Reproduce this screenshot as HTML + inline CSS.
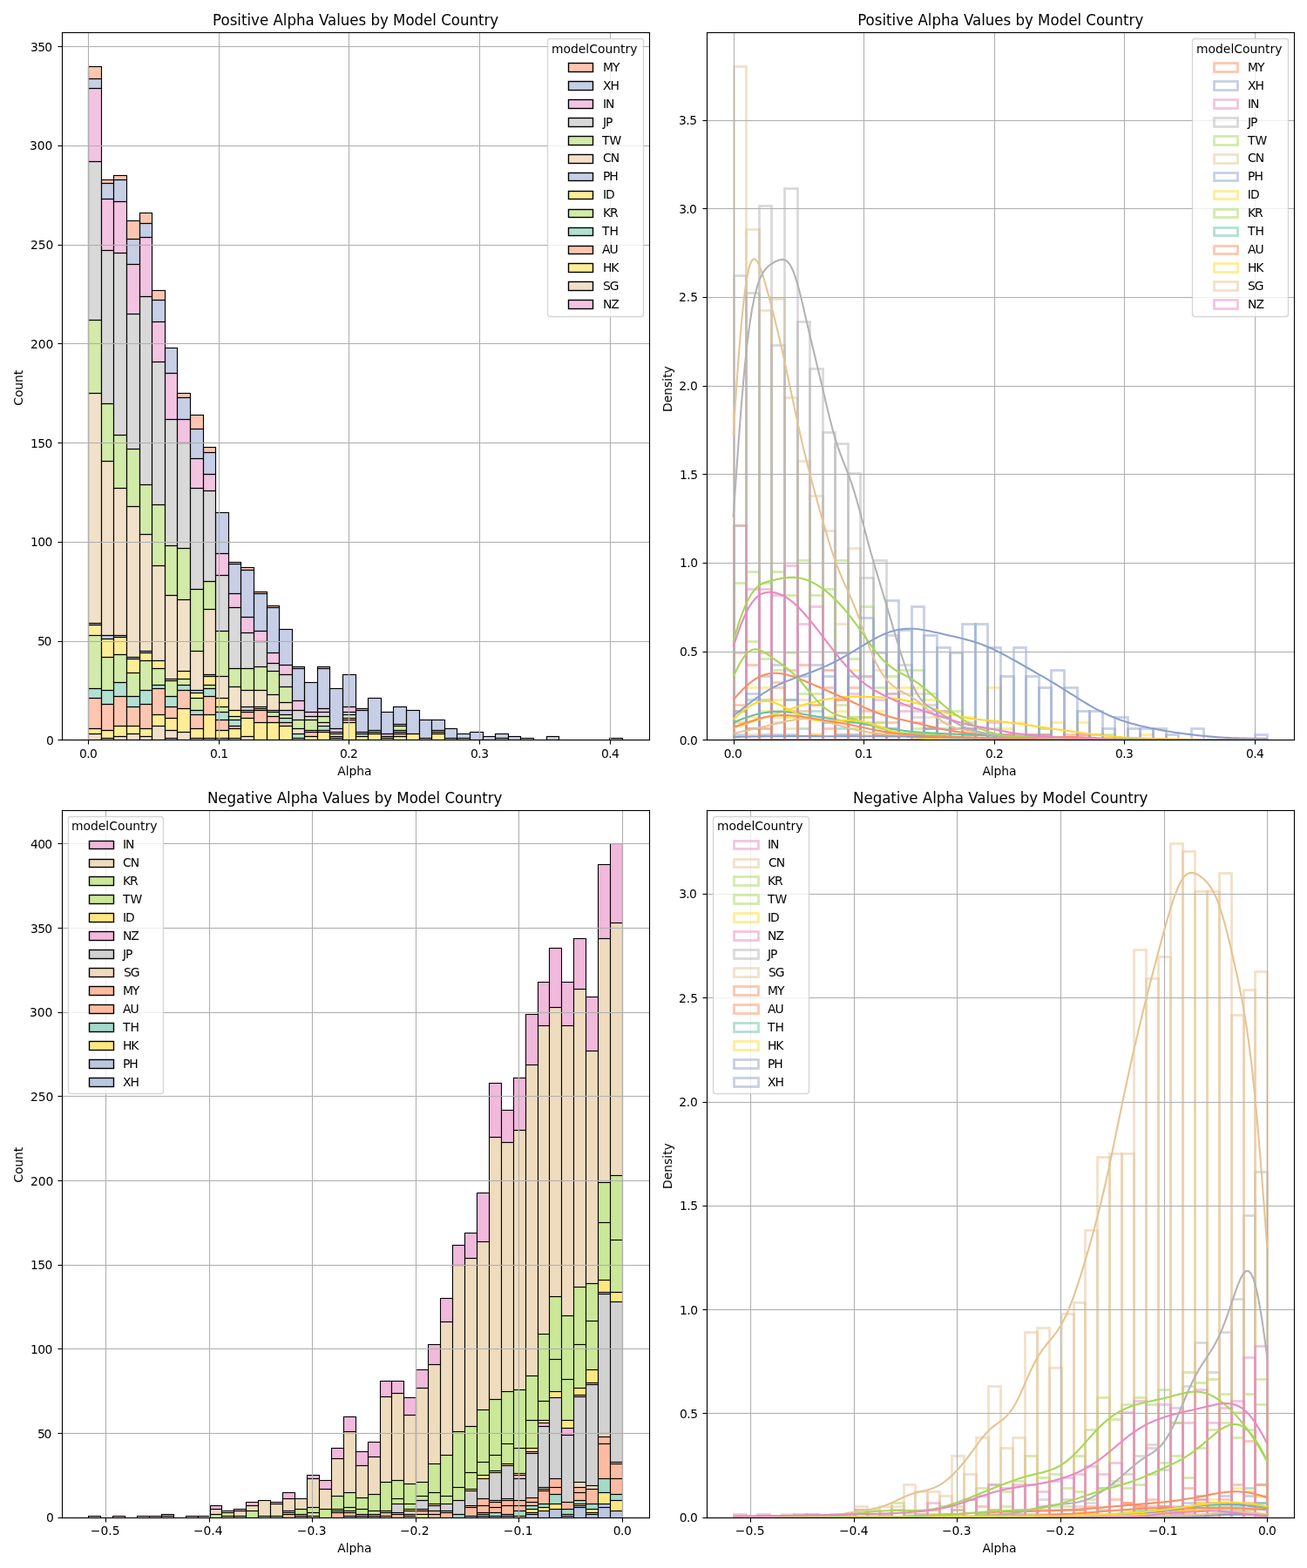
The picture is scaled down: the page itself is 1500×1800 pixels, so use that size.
<!DOCTYPE html>
<html lang="en"><head><meta charset="utf-8"><title>Alpha Values by Model Country</title>
<style>html,body{margin:0;padding:0;background:#fff}body{width:1500px;height:1800px;overflow:hidden}svg{display:block}</style></head>
<body>
<svg width="1500" height="1800" viewBox="0 0 1500 1800" font-family="'DejaVu Sans', 'Liberation Sans', sans-serif">
<rect width="1500" height="1800" fill="#fff"/>
<defs><clipPath id="c0"><rect x="71" y="37" width="674" height="812"/></clipPath><clipPath id="c1"><rect x="811" y="37" width="674" height="812"/></clipPath><clipPath id="c2"><rect x="71" y="930" width="674" height="812"/></clipPath><clipPath id="c3"><rect x="811" y="930" width="674" height="812"/></clipPath></defs>
<g clip-path="url(#c0)" stroke-linejoin="miter">
<g fill="#e78ac3" fill-opacity="0.5" stroke="#000000" stroke-width="1.14"><rect x="189.5" y="847.5" width="14" height="2"/></g>
<g fill="#e5c494" fill-opacity="0.5" stroke="#000000" stroke-width="1.14"><rect x="101.5" y="842.5" width="15" height="7"/><rect x="116.5" y="847.5" width="14" height="2"/><rect x="130.5" y="845.5" width="15" height="4"/><rect x="145.5" y="842.5" width="15" height="7"/><rect x="160.5" y="845.5" width="14" height="4"/><rect x="174.5" y="833.5" width="15" height="16"/><rect x="189.5" y="838.5" width="14" height="9"/><rect x="203.5" y="840.5" width="15" height="9"/><rect x="218.5" y="847.5" width="15" height="2"/><rect x="233.5" y="847.5" width="14" height="2"/><rect x="247.5" y="847.5" width="15" height="2"/><rect x="262.5" y="847.5" width="14" height="2"/><rect x="276.5" y="845.5" width="15" height="4"/><rect x="378.5" y="847.5" width="15" height="2"/></g>
<g fill="#ffd92f" fill-opacity="0.5" stroke="#000000" stroke-width="1.14"><rect x="101.5" y="836.5" width="15" height="6"/><rect x="116.5" y="838.5" width="14" height="9"/><rect x="130.5" y="833.5" width="15" height="12"/><rect x="145.5" y="833.5" width="15" height="9"/><rect x="160.5" y="836.5" width="14" height="9"/><rect x="174.5" y="820.5" width="15" height="13"/><rect x="189.5" y="824.5" width="14" height="14"/><rect x="203.5" y="813.5" width="15" height="27"/><rect x="218.5" y="836.5" width="15" height="11"/><rect x="233.5" y="820.5" width="14" height="27"/><rect x="247.5" y="838.5" width="15" height="9"/><rect x="262.5" y="836.5" width="14" height="11"/><rect x="276.5" y="824.5" width="15" height="21"/><rect x="291.5" y="829.5" width="15" height="20"/><rect x="306.5" y="829.5" width="14" height="20"/><rect x="320.5" y="833.5" width="15" height="16"/><rect x="335.5" y="847.5" width="14" height="2"/><rect x="349.5" y="845.5" width="15" height="4"/><rect x="364.5" y="840.5" width="14" height="9"/><rect x="393.5" y="829.5" width="15" height="20"/><rect x="408.5" y="845.5" width="14" height="4"/><rect x="422.5" y="842.5" width="15" height="7"/><rect x="437.5" y="847.5" width="14" height="2"/><rect x="451.5" y="845.5" width="15" height="4"/><rect x="466.5" y="842.5" width="15" height="7"/><rect x="495.5" y="842.5" width="15" height="7"/><rect x="568.5" y="847.5" width="15" height="2"/></g>
<g fill="#fc8d62" fill-opacity="0.5" stroke="#000000" stroke-width="1.14"><rect x="101.5" y="801.5" width="15" height="35"/><rect x="116.5" y="808.5" width="14" height="30"/><rect x="130.5" y="799.5" width="15" height="34"/><rect x="145.5" y="811.5" width="15" height="22"/><rect x="160.5" y="808.5" width="14" height="28"/><rect x="174.5" y="790.5" width="15" height="30"/><rect x="189.5" y="811.5" width="14" height="13"/><rect x="203.5" y="792.5" width="15" height="21"/><rect x="218.5" y="820.5" width="15" height="16"/><rect x="233.5" y="799.5" width="14" height="21"/><rect x="247.5" y="826.5" width="15" height="12"/><rect x="262.5" y="833.5" width="14" height="3"/><rect x="276.5" y="817.5" width="15" height="7"/><rect x="291.5" y="815.5" width="15" height="14"/><rect x="306.5" y="822.5" width="14" height="7"/><rect x="320.5" y="829.5" width="15" height="4"/><rect x="349.5" y="840.5" width="15" height="5"/><rect x="364.5" y="838.5" width="14" height="2"/><rect x="378.5" y="845.5" width="15" height="2"/><rect x="393.5" y="826.5" width="15" height="3"/><rect x="451.5" y="842.5" width="15" height="3"/><rect x="481.5" y="847.5" width="14" height="2"/><rect x="495.5" y="840.5" width="15" height="2"/></g>
<g fill="#66c2a5" fill-opacity="0.5" stroke="#000000" stroke-width="1.14"><rect x="101.5" y="790.5" width="15" height="11"/><rect x="116.5" y="792.5" width="14" height="16"/><rect x="130.5" y="783.5" width="15" height="16"/><rect x="145.5" y="799.5" width="15" height="12"/><rect x="160.5" y="792.5" width="14" height="16"/><rect x="174.5" y="786.5" width="15" height="4"/><rect x="189.5" y="799.5" width="14" height="12"/><rect x="203.5" y="786.5" width="15" height="6"/><rect x="218.5" y="815.5" width="15" height="5"/><rect x="233.5" y="790.5" width="14" height="9"/><rect x="247.5" y="817.5" width="15" height="9"/><rect x="262.5" y="826.5" width="14" height="7"/><rect x="291.5" y="813.5" width="15" height="2"/><rect x="320.5" y="824.5" width="15" height="5"/><rect x="335.5" y="842.5" width="14" height="5"/><rect x="364.5" y="833.5" width="14" height="5"/><rect x="408.5" y="842.5" width="14" height="3"/><rect x="422.5" y="840.5" width="15" height="2"/><rect x="451.5" y="840.5" width="15" height="2"/></g>
<g fill="#a6d854" fill-opacity="0.5" stroke="#000000" stroke-width="1.14"><rect x="101.5" y="729.5" width="15" height="61"/><rect x="116.5" y="754.5" width="14" height="38"/><rect x="130.5" y="751.5" width="15" height="32"/><rect x="145.5" y="772.5" width="15" height="27"/><rect x="160.5" y="758.5" width="14" height="34"/><rect x="174.5" y="767.5" width="15" height="19"/><rect x="189.5" y="781.5" width="14" height="18"/><rect x="203.5" y="779.5" width="15" height="7"/><rect x="218.5" y="801.5" width="15" height="14"/><rect x="233.5" y="786.5" width="14" height="4"/><rect x="247.5" y="811.5" width="15" height="6"/><rect x="262.5" y="822.5" width="14" height="4"/><rect x="276.5" y="815.5" width="15" height="2"/><rect x="306.5" y="817.5" width="14" height="5"/><rect x="320.5" y="820.5" width="15" height="4"/><rect x="524.5" y="847.5" width="15" height="2"/></g>
<g fill="#ffd92f" fill-opacity="0.5" stroke="#000000" stroke-width="1.14"><rect x="101.5" y="717.5" width="15" height="12"/><rect x="116.5" y="733.5" width="14" height="21"/><rect x="130.5" y="731.5" width="15" height="20"/><rect x="145.5" y="756.5" width="15" height="16"/><rect x="160.5" y="749.5" width="14" height="9"/><rect x="174.5" y="758.5" width="15" height="9"/><rect x="189.5" y="779.5" width="14" height="2"/><rect x="203.5" y="770.5" width="15" height="9"/><rect x="218.5" y="795.5" width="15" height="6"/><rect x="233.5" y="776.5" width="14" height="10"/><rect x="247.5" y="801.5" width="15" height="10"/><rect x="262.5" y="815.5" width="14" height="7"/><rect x="291.5" y="811.5" width="15" height="2"/></g>
<g fill="#8da0cb" fill-opacity="0.5" stroke="#000000" stroke-width="1.14"><rect x="101.5" y="715.5" width="15" height="2"/><rect x="116.5" y="729.5" width="14" height="4"/><rect x="130.5" y="729.5" width="15" height="2"/><rect x="145.5" y="754.5" width="15" height="2"/><rect x="160.5" y="747.5" width="14" height="2"/><rect x="218.5" y="792.5" width="15" height="3"/><rect x="233.5" y="774.5" width="14" height="2"/><rect x="276.5" y="811.5" width="15" height="4"/><rect x="306.5" y="815.5" width="14" height="2"/><rect x="320.5" y="815.5" width="15" height="5"/><rect x="510.5" y="847.5" width="14" height="2"/></g>
<g fill="#e5c494" fill-opacity="0.5" stroke="#000000" stroke-width="1.14"><rect x="101.5" y="451.5" width="15" height="264"/><rect x="116.5" y="529.5" width="14" height="200"/><rect x="130.5" y="560.5" width="15" height="169"/><rect x="145.5" y="581.5" width="15" height="173"/><rect x="160.5" y="613.5" width="14" height="134"/><rect x="174.5" y="649.5" width="15" height="109"/><rect x="189.5" y="683.5" width="14" height="96"/><rect x="203.5" y="688.5" width="15" height="82"/><rect x="218.5" y="747.5" width="15" height="45"/><rect x="233.5" y="699.5" width="14" height="75"/><rect x="247.5" y="776.5" width="15" height="25"/><rect x="262.5" y="788.5" width="14" height="27"/><rect x="276.5" y="792.5" width="15" height="19"/><rect x="291.5" y="792.5" width="15" height="19"/><rect x="306.5" y="797.5" width="14" height="18"/><rect x="320.5" y="806.5" width="15" height="9"/><rect x="335.5" y="836.5" width="14" height="6"/><rect x="349.5" y="838.5" width="15" height="2"/><rect x="364.5" y="829.5" width="14" height="4"/><rect x="378.5" y="842.5" width="15" height="3"/><rect x="393.5" y="824.5" width="15" height="2"/><rect x="422.5" y="838.5" width="15" height="2"/><rect x="451.5" y="838.5" width="15" height="2"/></g>
<g fill="#a6d854" fill-opacity="0.5" stroke="#000000" stroke-width="1.14"><rect x="101.5" y="367.5" width="15" height="84"/><rect x="116.5" y="463.5" width="14" height="66"/><rect x="130.5" y="499.5" width="15" height="61"/><rect x="145.5" y="515.5" width="15" height="66"/><rect x="160.5" y="556.5" width="14" height="57"/><rect x="174.5" y="579.5" width="15" height="70"/><rect x="189.5" y="626.5" width="14" height="57"/><rect x="203.5" y="629.5" width="15" height="59"/><rect x="218.5" y="676.5" width="15" height="71"/><rect x="233.5" y="667.5" width="14" height="32"/><rect x="247.5" y="724.5" width="15" height="52"/><rect x="262.5" y="767.5" width="14" height="21"/><rect x="276.5" y="767.5" width="15" height="25"/><rect x="291.5" y="765.5" width="15" height="27"/><rect x="306.5" y="770.5" width="14" height="27"/><rect x="320.5" y="788.5" width="15" height="18"/><rect x="335.5" y="826.5" width="14" height="10"/><rect x="349.5" y="826.5" width="15" height="12"/><rect x="364.5" y="822.5" width="14" height="7"/><rect x="393.5" y="820.5" width="15" height="4"/><rect x="451.5" y="833.5" width="15" height="5"/></g>
<g fill="#b3b3b3" fill-opacity="0.5" stroke="#000000" stroke-width="1.14"><rect x="101.5" y="185.5" width="15" height="182"/><rect x="116.5" y="287.5" width="14" height="176"/><rect x="130.5" y="290.5" width="15" height="209"/><rect x="145.5" y="360.5" width="15" height="155"/><rect x="160.5" y="340.5" width="14" height="216"/><rect x="174.5" y="415.5" width="15" height="164"/><rect x="189.5" y="481.5" width="14" height="145"/><rect x="203.5" y="508.5" width="15" height="121"/><rect x="218.5" y="560.5" width="15" height="116"/><rect x="233.5" y="563.5" width="14" height="104"/><rect x="247.5" y="660.5" width="15" height="64"/><rect x="262.5" y="697.5" width="14" height="70"/><rect x="276.5" y="726.5" width="15" height="41"/><rect x="291.5" y="736.5" width="15" height="29"/><rect x="306.5" y="761.5" width="14" height="9"/><rect x="320.5" y="774.5" width="15" height="14"/><rect x="335.5" y="815.5" width="14" height="11"/><rect x="349.5" y="822.5" width="15" height="4"/><rect x="364.5" y="817.5" width="14" height="5"/><rect x="378.5" y="840.5" width="15" height="2"/><rect x="393.5" y="817.5" width="15" height="3"/><rect x="437.5" y="845.5" width="14" height="2"/></g>
<g fill="#e78ac3" fill-opacity="0.5" stroke="#000000" stroke-width="1.14"><rect x="101.5" y="101.5" width="15" height="84"/><rect x="116.5" y="228.5" width="14" height="59"/><rect x="130.5" y="231.5" width="15" height="59"/><rect x="145.5" y="303.5" width="15" height="57"/><rect x="160.5" y="272.5" width="14" height="68"/><rect x="174.5" y="369.5" width="15" height="46"/><rect x="189.5" y="428.5" width="14" height="53"/><rect x="203.5" y="481.5" width="15" height="27"/><rect x="218.5" y="526.5" width="15" height="34"/><rect x="233.5" y="544.5" width="14" height="19"/><rect x="247.5" y="635.5" width="15" height="25"/><rect x="262.5" y="681.5" width="14" height="16"/><rect x="276.5" y="708.5" width="15" height="18"/><rect x="291.5" y="724.5" width="15" height="12"/><rect x="306.5" y="749.5" width="14" height="12"/><rect x="320.5" y="763.5" width="15" height="11"/><rect x="335.5" y="804.5" width="14" height="11"/><rect x="349.5" y="817.5" width="15" height="5"/><rect x="364.5" y="813.5" width="14" height="4"/><rect x="378.5" y="836.5" width="15" height="4"/><rect x="393.5" y="811.5" width="15" height="6"/><rect x="408.5" y="840.5" width="14" height="2"/><rect x="437.5" y="842.5" width="14" height="3"/><rect x="451.5" y="831.5" width="15" height="2"/><rect x="495.5" y="838.5" width="15" height="2"/></g>
<g fill="#8da0cb" fill-opacity="0.5" stroke="#000000" stroke-width="1.14"><rect x="101.5" y="90.5" width="15" height="11"/><rect x="116.5" y="210.5" width="14" height="18"/><rect x="130.5" y="206.5" width="15" height="25"/><rect x="145.5" y="274.5" width="15" height="29"/><rect x="160.5" y="256.5" width="14" height="16"/><rect x="174.5" y="344.5" width="15" height="25"/><rect x="189.5" y="399.5" width="14" height="29"/><rect x="203.5" y="456.5" width="15" height="25"/><rect x="218.5" y="492.5" width="15" height="34"/><rect x="233.5" y="519.5" width="14" height="25"/><rect x="247.5" y="588.5" width="15" height="47"/><rect x="262.5" y="647.5" width="14" height="34"/><rect x="276.5" y="654.5" width="15" height="54"/><rect x="291.5" y="681.5" width="15" height="43"/><rect x="306.5" y="697.5" width="14" height="52"/><rect x="320.5" y="722.5" width="15" height="41"/><rect x="335.5" y="767.5" width="14" height="37"/><rect x="349.5" y="783.5" width="15" height="34"/><rect x="364.5" y="767.5" width="14" height="46"/><rect x="378.5" y="790.5" width="15" height="46"/><rect x="393.5" y="774.5" width="15" height="37"/><rect x="408.5" y="815.5" width="14" height="25"/><rect x="422.5" y="801.5" width="15" height="37"/><rect x="437.5" y="817.5" width="14" height="25"/><rect x="451.5" y="811.5" width="15" height="20"/><rect x="466.5" y="815.5" width="15" height="27"/><rect x="481.5" y="826.5" width="14" height="21"/><rect x="495.5" y="826.5" width="15" height="12"/><rect x="510.5" y="836.5" width="14" height="11"/><rect x="524.5" y="842.5" width="15" height="5"/><rect x="539.5" y="840.5" width="15" height="9"/><rect x="554.5" y="845.5" width="14" height="4"/><rect x="568.5" y="842.5" width="15" height="5"/><rect x="583.5" y="845.5" width="14" height="4"/><rect x="597.5" y="847.5" width="15" height="2"/><rect x="627.5" y="845.5" width="14" height="4"/><rect x="699.5" y="847.5" width="15" height="2"/></g>
<g fill="#fc8d62" fill-opacity="0.5" stroke="#000000" stroke-width="1.14"><rect x="101.5" y="76.5" width="15" height="14"/><rect x="116.5" y="206.5" width="14" height="4"/><rect x="130.5" y="201.5" width="15" height="5"/><rect x="145.5" y="253.5" width="15" height="21"/><rect x="160.5" y="244.5" width="14" height="12"/><rect x="174.5" y="333.5" width="15" height="11"/><rect x="203.5" y="451.5" width="15" height="5"/><rect x="218.5" y="476.5" width="15" height="16"/><rect x="233.5" y="513.5" width="14" height="6"/><rect x="262.5" y="645.5" width="14" height="2"/><rect x="276.5" y="651.5" width="15" height="3"/><rect x="291.5" y="679.5" width="15" height="2"/><rect x="306.5" y="695.5" width="14" height="2"/><rect x="335.5" y="765.5" width="14" height="2"/><rect x="364.5" y="765.5" width="14" height="2"/><rect x="408.5" y="813.5" width="14" height="2"/></g>
</g>
<g fill="#b0b0b0"><rect x="100.94" y="37.5" width="1.11" height="812"/><rect x="250.94" y="37.5" width="1.11" height="812"/><rect x="399.94" y="37.5" width="1.11" height="812"/><rect x="549.94" y="37.5" width="1.11" height="812"/><rect x="699.94" y="37.5" width="1.11" height="812"/><rect x="71.5" y="848.94" width="674" height="1.11"/><rect x="71.5" y="735.94" width="674" height="1.11"/><rect x="71.5" y="621.94" width="674" height="1.11"/><rect x="71.5" y="507.94" width="674" height="1.11"/><rect x="71.5" y="393.94" width="674" height="1.11"/><rect x="71.5" y="280.94" width="674" height="1.11"/><rect x="71.5" y="166.94" width="674" height="1.11"/><rect x="71.5" y="52.94" width="674" height="1.11"/></g>
<g fill="#000"><rect x="100.94" y="849.5" width="1.11" height="5"/><rect x="250.94" y="849.5" width="1.11" height="5"/><rect x="399.94" y="849.5" width="1.11" height="5"/><rect x="549.94" y="849.5" width="1.11" height="5"/><rect x="699.94" y="849.5" width="1.11" height="5"/><rect x="66.5" y="848.94" width="5" height="1.11"/><rect x="66.5" y="735.94" width="5" height="1.11"/><rect x="66.5" y="621.94" width="5" height="1.11"/><rect x="66.5" y="507.94" width="5" height="1.11"/><rect x="66.5" y="393.94" width="5" height="1.11"/><rect x="66.5" y="280.94" width="5" height="1.11"/><rect x="66.5" y="166.94" width="5" height="1.11"/><rect x="66.5" y="52.94" width="5" height="1.11"/></g>
<g fill="#000"><rect x="70.94" y="36.94" width="1.11" height="813.11"/><rect x="744.94" y="36.94" width="1.11" height="813.11"/><rect x="70.94" y="848.94" width="675.11" height="1.11"/><rect x="70.94" y="36.94" width="675.11" height="1.11"/></g>
<path fill="#ffffff" fill-opacity="0.8" stroke="#cccccc" stroke-opacity="0.8" stroke-width="1.39" d="M631.5 363.5L735.5 363.5Q738.5 363.5 738.5 360.5L738.5 47.5Q738.5 44.5 735.5 44.5L631.5 44.5Q628.5 44.5 628.5 47.5L628.5 360.5Q628.5 363.5 631.5 363.5Z"/>
<rect fill="#fc8d62" fill-opacity="0.5" stroke="#000000" stroke-width="1.39" x="652.5" y="72.5" width="28" height="10"/>
<rect fill="#8da0cb" fill-opacity="0.5" stroke="#000000" stroke-width="1.39" x="652.5" y="93.5" width="28" height="10"/>
<rect fill="#e78ac3" fill-opacity="0.5" stroke="#000000" stroke-width="1.39" x="652.5" y="114.5" width="28" height="10"/>
<rect fill="#b3b3b3" fill-opacity="0.5" stroke="#000000" stroke-width="1.39" x="652.5" y="135.5" width="28" height="10"/>
<rect fill="#a6d854" fill-opacity="0.5" stroke="#000000" stroke-width="1.39" x="652.5" y="156.5" width="28" height="10"/>
<rect fill="#e5c494" fill-opacity="0.5" stroke="#000000" stroke-width="1.39" x="652.5" y="177.5" width="28" height="10"/>
<rect fill="#8da0cb" fill-opacity="0.5" stroke="#000000" stroke-width="1.39" x="652.5" y="198.5" width="28" height="9"/>
<rect fill="#ffd92f" fill-opacity="0.5" stroke="#000000" stroke-width="1.39" x="652.5" y="219.5" width="28" height="9"/>
<rect fill="#a6d854" fill-opacity="0.5" stroke="#000000" stroke-width="1.39" x="652.5" y="240.5" width="28" height="9"/>
<rect fill="#66c2a5" fill-opacity="0.5" stroke="#000000" stroke-width="1.39" x="652.5" y="261.5" width="28" height="9"/>
<rect fill="#fc8d62" fill-opacity="0.5" stroke="#000000" stroke-width="1.39" x="652.5" y="282.5" width="28" height="9"/>
<rect fill="#ffd92f" fill-opacity="0.5" stroke="#000000" stroke-width="1.39" x="652.5" y="302.5" width="28" height="10"/>
<rect fill="#e5c494" fill-opacity="0.5" stroke="#000000" stroke-width="1.39" x="652.5" y="323.5" width="28" height="10"/>
<rect fill="#e78ac3" fill-opacity="0.5" stroke="#000000" stroke-width="1.39" x="652.5" y="344.5" width="28" height="10"/>
<g clip-path="url(#c1)" stroke-linejoin="miter">
<g fill="none" stroke="#e78ac3" stroke-opacity="0.5" stroke-width="2.78"><rect x="842.5" y="849.5" width="87" height="0.01"/><rect x="929.5" y="843.5" width="15" height="6"/><rect x="944.5" y="849.5" width="510" height="0.01"/></g>
<g fill="none" stroke="#e5c494" stroke-opacity="0.5" stroke-width="2.78"><rect x="842.5" y="829.5" width="14" height="20"/><rect x="856.5" y="843.5" width="15" height="6"/><rect x="871.5" y="836.5" width="14" height="13"/><rect x="885.5" y="829.5" width="15" height="20"/><rect x="900.5" y="836.5" width="15" height="13"/><rect x="915.5" y="803.5" width="14" height="46"/><rect x="929.5" y="823.5" width="15" height="26"/><rect x="944.5" y="823.5" width="14" height="26"/><rect x="958.5" y="843.5" width="15" height="6"/><rect x="973.5" y="843.5" width="14" height="6"/><rect x="987.5" y="843.5" width="15" height="6"/><rect x="1002.5" y="843.5" width="15" height="6"/><rect x="1017.5" y="836.5" width="14" height="13"/><rect x="1031.5" y="849.5" width="88" height="0.01"/><rect x="1119.5" y="843.5" width="14" height="6"/><rect x="1133.5" y="849.5" width="321" height="0.01"/></g>
<g fill="none" stroke="#ffd92f" stroke-opacity="0.5" stroke-width="2.78"><rect x="842.5" y="829.5" width="14" height="20"/><rect x="856.5" y="823.5" width="15" height="26"/><rect x="871.5" y="816.5" width="14" height="33"/><rect x="885.5" y="823.5" width="15" height="26"/><rect x="900.5" y="823.5" width="15" height="26"/><rect x="915.5" y="809.5" width="14" height="40"/><rect x="929.5" y="809.5" width="15" height="40"/><rect x="944.5" y="769.5" width="14" height="80"/><rect x="958.5" y="816.5" width="15" height="33"/><rect x="973.5" y="769.5" width="14" height="80"/><rect x="987.5" y="823.5" width="15" height="26"/><rect x="1002.5" y="816.5" width="15" height="33"/><rect x="1017.5" y="789.5" width="14" height="60"/><rect x="1031.5" y="789.5" width="15" height="60"/><rect x="1046.5" y="789.5" width="14" height="60"/><rect x="1060.5" y="803.5" width="15" height="46"/><rect x="1075.5" y="843.5" width="15" height="6"/><rect x="1090.5" y="836.5" width="14" height="13"/><rect x="1104.5" y="823.5" width="15" height="26"/><rect x="1119.5" y="849.5" width="14" height="0.01"/><rect x="1133.5" y="789.5" width="15" height="60"/><rect x="1148.5" y="836.5" width="15" height="13"/><rect x="1163.5" y="829.5" width="14" height="20"/><rect x="1177.5" y="843.5" width="15" height="6"/><rect x="1192.5" y="836.5" width="14" height="13"/><rect x="1206.5" y="829.5" width="15" height="20"/><rect x="1221.5" y="849.5" width="15" height="0.01"/><rect x="1236.5" y="829.5" width="14" height="20"/><rect x="1250.5" y="849.5" width="58" height="0.01"/><rect x="1308.5" y="843.5" width="15" height="6"/><rect x="1323.5" y="849.5" width="131" height="0.01"/></g>
<g fill="none" stroke="#fc8d62" stroke-opacity="0.5" stroke-width="2.78"><rect x="842.5" y="749.5" width="14" height="100"/><rect x="856.5" y="763.5" width="15" height="86"/><rect x="871.5" y="749.5" width="14" height="100"/><rect x="885.5" y="783.5" width="15" height="66"/><rect x="900.5" y="769.5" width="15" height="80"/><rect x="915.5" y="763.5" width="14" height="86"/><rect x="929.5" y="809.5" width="15" height="40"/><rect x="944.5" y="789.5" width="14" height="60"/><rect x="958.5" y="803.5" width="15" height="46"/><rect x="973.5" y="789.5" width="14" height="60"/><rect x="987.5" y="816.5" width="15" height="33"/><rect x="1002.5" y="843.5" width="15" height="6"/><rect x="1017.5" y="829.5" width="14" height="20"/><rect x="1031.5" y="809.5" width="15" height="40"/><rect x="1046.5" y="829.5" width="14" height="20"/><rect x="1060.5" y="836.5" width="15" height="13"/><rect x="1075.5" y="849.5" width="15" height="0.01"/><rect x="1090.5" y="836.5" width="14" height="13"/><rect x="1104.5" y="843.5" width="15" height="6"/><rect x="1119.5" y="843.5" width="14" height="6"/><rect x="1133.5" y="843.5" width="15" height="6"/><rect x="1148.5" y="849.5" width="44" height="0.01"/><rect x="1192.5" y="843.5" width="14" height="6"/><rect x="1206.5" y="849.5" width="15" height="0.01"/><rect x="1221.5" y="843.5" width="15" height="6"/><rect x="1236.5" y="843.5" width="14" height="6"/><rect x="1250.5" y="849.5" width="204" height="0.01"/></g>
<g fill="none" stroke="#66c2a5" stroke-opacity="0.5" stroke-width="2.78"><rect x="842.5" y="816.5" width="14" height="33"/><rect x="856.5" y="803.5" width="15" height="46"/><rect x="871.5" y="803.5" width="14" height="46"/><rect x="885.5" y="816.5" width="15" height="33"/><rect x="900.5" y="803.5" width="15" height="46"/><rect x="915.5" y="836.5" width="14" height="13"/><rect x="929.5" y="816.5" width="15" height="33"/><rect x="944.5" y="829.5" width="14" height="20"/><rect x="958.5" y="836.5" width="15" height="13"/><rect x="973.5" y="823.5" width="14" height="26"/><rect x="987.5" y="823.5" width="15" height="26"/><rect x="1002.5" y="829.5" width="15" height="20"/><rect x="1017.5" y="849.5" width="14" height="0.01"/><rect x="1031.5" y="843.5" width="15" height="6"/><rect x="1046.5" y="849.5" width="14" height="0.01"/><rect x="1060.5" y="836.5" width="15" height="13"/><rect x="1075.5" y="836.5" width="15" height="13"/><rect x="1090.5" y="849.5" width="14" height="0.01"/><rect x="1104.5" y="836.5" width="15" height="13"/><rect x="1119.5" y="849.5" width="29" height="0.01"/><rect x="1148.5" y="843.5" width="15" height="6"/><rect x="1163.5" y="843.5" width="14" height="6"/><rect x="1177.5" y="849.5" width="15" height="0.01"/><rect x="1192.5" y="843.5" width="14" height="6"/><rect x="1206.5" y="849.5" width="248" height="0.01"/></g>
<g fill="none" stroke="#a6d854" stroke-opacity="0.5" stroke-width="2.78"><rect x="842.5" y="669.5" width="14" height="180"/><rect x="856.5" y="736.5" width="15" height="113"/><rect x="871.5" y="756.5" width="14" height="93"/><rect x="885.5" y="769.5" width="15" height="80"/><rect x="900.5" y="749.5" width="15" height="100"/><rect x="915.5" y="796.5" width="14" height="53"/><rect x="929.5" y="796.5" width="15" height="53"/><rect x="944.5" y="829.5" width="14" height="20"/><rect x="958.5" y="809.5" width="15" height="40"/><rect x="973.5" y="836.5" width="14" height="13"/><rect x="987.5" y="829.5" width="15" height="20"/><rect x="1002.5" y="836.5" width="15" height="13"/><rect x="1017.5" y="843.5" width="14" height="6"/><rect x="1031.5" y="849.5" width="15" height="0.01"/><rect x="1046.5" y="836.5" width="14" height="13"/><rect x="1060.5" y="836.5" width="15" height="13"/><rect x="1075.5" y="849.5" width="190" height="0.01"/><rect x="1265.5" y="843.5" width="14" height="6"/><rect x="1279.5" y="849.5" width="175" height="0.01"/></g>
<g fill="none" stroke="#ffd92f" stroke-opacity="0.5" stroke-width="2.78"><rect x="842.5" y="816.5" width="14" height="33"/><rect x="856.5" y="789.5" width="15" height="60"/><rect x="871.5" y="789.5" width="14" height="60"/><rect x="885.5" y="803.5" width="15" height="46"/><rect x="900.5" y="823.5" width="15" height="26"/><rect x="915.5" y="823.5" width="14" height="26"/><rect x="929.5" y="843.5" width="15" height="6"/><rect x="944.5" y="823.5" width="14" height="26"/><rect x="958.5" y="829.5" width="15" height="20"/><rect x="973.5" y="823.5" width="14" height="26"/><rect x="987.5" y="823.5" width="15" height="26"/><rect x="1002.5" y="829.5" width="15" height="20"/><rect x="1017.5" y="849.5" width="14" height="0.01"/><rect x="1031.5" y="843.5" width="15" height="6"/><rect x="1046.5" y="849.5" width="408" height="0.01"/></g>
<g fill="none" stroke="#8da0cb" stroke-opacity="0.5" stroke-width="2.78"><rect x="842.5" y="843.5" width="14" height="6"/><rect x="856.5" y="836.5" width="15" height="13"/><rect x="871.5" y="843.5" width="14" height="6"/><rect x="885.5" y="843.5" width="15" height="6"/><rect x="900.5" y="843.5" width="15" height="6"/><rect x="915.5" y="849.5" width="43" height="0.01"/><rect x="958.5" y="843.5" width="15" height="6"/><rect x="973.5" y="843.5" width="14" height="6"/><rect x="987.5" y="849.5" width="30" height="0.01"/><rect x="1017.5" y="836.5" width="14" height="13"/><rect x="1031.5" y="849.5" width="15" height="0.01"/><rect x="1046.5" y="843.5" width="14" height="6"/><rect x="1060.5" y="836.5" width="15" height="13"/><rect x="1075.5" y="849.5" width="175" height="0.01"/><rect x="1250.5" y="843.5" width="15" height="6"/><rect x="1265.5" y="849.5" width="189" height="0.01"/></g>
<g fill="none" stroke="#e5c494" stroke-opacity="0.5" stroke-width="2.78"><rect x="842.5" y="76.5" width="14" height="773"/><rect x="856.5" y="263.5" width="15" height="586"/><rect x="871.5" y="356.5" width="14" height="493"/><rect x="885.5" y="343.5" width="15" height="506"/><rect x="900.5" y="456.5" width="15" height="393"/><rect x="915.5" y="529.5" width="14" height="320"/><rect x="929.5" y="569.5" width="15" height="280"/><rect x="944.5" y="609.5" width="14" height="240"/><rect x="958.5" y="716.5" width="15" height="133"/><rect x="973.5" y="629.5" width="14" height="220"/><rect x="987.5" y="776.5" width="15" height="73"/><rect x="1002.5" y="769.5" width="15" height="80"/><rect x="1017.5" y="796.5" width="14" height="53"/><rect x="1031.5" y="796.5" width="15" height="53"/><rect x="1046.5" y="796.5" width="14" height="53"/><rect x="1060.5" y="823.5" width="15" height="26"/><rect x="1075.5" y="829.5" width="15" height="20"/><rect x="1090.5" y="843.5" width="14" height="6"/><rect x="1104.5" y="836.5" width="15" height="13"/><rect x="1119.5" y="843.5" width="14" height="6"/><rect x="1133.5" y="843.5" width="15" height="6"/><rect x="1148.5" y="849.5" width="15" height="0.01"/><rect x="1163.5" y="843.5" width="14" height="6"/><rect x="1177.5" y="849.5" width="15" height="0.01"/><rect x="1192.5" y="843.5" width="14" height="6"/><rect x="1206.5" y="849.5" width="248" height="0.01"/></g>
<g fill="none" stroke="#a6d854" stroke-opacity="0.5" stroke-width="2.78"><rect x="842.5" y="603.5" width="14" height="246"/><rect x="856.5" y="656.5" width="15" height="193"/><rect x="871.5" y="669.5" width="14" height="180"/><rect x="885.5" y="656.5" width="15" height="193"/><rect x="900.5" y="683.5" width="15" height="166"/><rect x="915.5" y="643.5" width="14" height="206"/><rect x="929.5" y="683.5" width="15" height="166"/><rect x="944.5" y="676.5" width="14" height="173"/><rect x="958.5" y="643.5" width="15" height="206"/><rect x="973.5" y="756.5" width="14" height="93"/><rect x="987.5" y="696.5" width="15" height="153"/><rect x="1002.5" y="789.5" width="15" height="60"/><rect x="1017.5" y="776.5" width="14" height="73"/><rect x="1031.5" y="769.5" width="15" height="80"/><rect x="1046.5" y="769.5" width="14" height="80"/><rect x="1060.5" y="796.5" width="15" height="53"/><rect x="1075.5" y="823.5" width="15" height="26"/><rect x="1090.5" y="816.5" width="14" height="33"/><rect x="1104.5" y="829.5" width="15" height="20"/><rect x="1119.5" y="849.5" width="14" height="0.01"/><rect x="1133.5" y="836.5" width="15" height="13"/><rect x="1148.5" y="849.5" width="44" height="0.01"/><rect x="1192.5" y="836.5" width="14" height="13"/><rect x="1206.5" y="849.5" width="248" height="0.01"/></g>
<g fill="none" stroke="#b3b3b3" stroke-opacity="0.5" stroke-width="2.78"><rect x="842.5" y="316.5" width="14" height="533"/><rect x="856.5" y="336.5" width="15" height="513"/><rect x="871.5" y="236.5" width="14" height="613"/><rect x="885.5" y="396.5" width="15" height="453"/><rect x="900.5" y="216.5" width="15" height="633"/><rect x="915.5" y="369.5" width="14" height="480"/><rect x="929.5" y="423.5" width="15" height="426"/><rect x="944.5" y="496.5" width="14" height="353"/><rect x="958.5" y="509.5" width="15" height="340"/><rect x="973.5" y="543.5" width="14" height="306"/><rect x="987.5" y="663.5" width="15" height="186"/><rect x="1002.5" y="643.5" width="15" height="206"/><rect x="1017.5" y="729.5" width="14" height="120"/><rect x="1031.5" y="763.5" width="15" height="86"/><rect x="1046.5" y="823.5" width="14" height="26"/><rect x="1060.5" y="809.5" width="15" height="40"/><rect x="1075.5" y="816.5" width="15" height="33"/><rect x="1090.5" y="836.5" width="14" height="13"/><rect x="1104.5" y="836.5" width="15" height="13"/><rect x="1119.5" y="843.5" width="14" height="6"/><rect x="1133.5" y="843.5" width="15" height="6"/><rect x="1148.5" y="849.5" width="29" height="0.01"/><rect x="1177.5" y="843.5" width="15" height="6"/><rect x="1192.5" y="849.5" width="262" height="0.01"/></g>
<g fill="none" stroke="#e78ac3" stroke-opacity="0.5" stroke-width="2.78"><rect x="842.5" y="603.5" width="14" height="246"/><rect x="856.5" y="676.5" width="15" height="173"/><rect x="871.5" y="676.5" width="14" height="173"/><rect x="885.5" y="683.5" width="15" height="166"/><rect x="900.5" y="649.5" width="15" height="200"/><rect x="915.5" y="716.5" width="14" height="133"/><rect x="929.5" y="696.5" width="15" height="153"/><rect x="944.5" y="769.5" width="14" height="80"/><rect x="958.5" y="749.5" width="15" height="100"/><rect x="973.5" y="796.5" width="14" height="53"/><rect x="987.5" y="776.5" width="15" height="73"/><rect x="1002.5" y="803.5" width="15" height="46"/><rect x="1017.5" y="796.5" width="14" height="53"/><rect x="1031.5" y="816.5" width="15" height="33"/><rect x="1046.5" y="816.5" width="14" height="33"/><rect x="1060.5" y="816.5" width="15" height="33"/><rect x="1075.5" y="816.5" width="15" height="33"/><rect x="1090.5" y="836.5" width="14" height="13"/><rect x="1104.5" y="836.5" width="15" height="13"/><rect x="1119.5" y="836.5" width="14" height="13"/><rect x="1133.5" y="829.5" width="15" height="20"/><rect x="1148.5" y="843.5" width="15" height="6"/><rect x="1163.5" y="849.5" width="14" height="0.01"/><rect x="1177.5" y="843.5" width="15" height="6"/><rect x="1192.5" y="843.5" width="14" height="6"/><rect x="1206.5" y="849.5" width="30" height="0.01"/><rect x="1236.5" y="843.5" width="14" height="6"/><rect x="1250.5" y="849.5" width="204" height="0.01"/></g>
<g fill="none" stroke="#8da0cb" stroke-opacity="0.5" stroke-width="2.78"><rect x="842.5" y="816.5" width="14" height="33"/><rect x="856.5" y="796.5" width="15" height="53"/><rect x="871.5" y="776.5" width="14" height="73"/><rect x="885.5" y="763.5" width="15" height="86"/><rect x="900.5" y="803.5" width="15" height="46"/><rect x="915.5" y="776.5" width="14" height="73"/><rect x="929.5" y="763.5" width="15" height="86"/><rect x="944.5" y="776.5" width="14" height="73"/><rect x="958.5" y="749.5" width="15" height="100"/><rect x="973.5" y="776.5" width="14" height="73"/><rect x="987.5" y="709.5" width="15" height="140"/><rect x="1002.5" y="749.5" width="15" height="100"/><rect x="1017.5" y="689.5" width="14" height="160"/><rect x="1031.5" y="723.5" width="15" height="126"/><rect x="1046.5" y="696.5" width="14" height="153"/><rect x="1060.5" y="729.5" width="15" height="120"/><rect x="1075.5" y="743.5" width="15" height="106"/><rect x="1090.5" y="749.5" width="14" height="100"/><rect x="1104.5" y="716.5" width="15" height="133"/><rect x="1119.5" y="716.5" width="14" height="133"/><rect x="1133.5" y="743.5" width="15" height="106"/><rect x="1148.5" y="776.5" width="15" height="73"/><rect x="1163.5" y="743.5" width="14" height="106"/><rect x="1177.5" y="776.5" width="15" height="73"/><rect x="1192.5" y="789.5" width="14" height="60"/><rect x="1206.5" y="769.5" width="15" height="80"/><rect x="1221.5" y="789.5" width="15" height="60"/><rect x="1236.5" y="816.5" width="14" height="33"/><rect x="1250.5" y="816.5" width="15" height="33"/><rect x="1265.5" y="836.5" width="14" height="13"/><rect x="1279.5" y="823.5" width="15" height="26"/><rect x="1294.5" y="836.5" width="14" height="13"/><rect x="1308.5" y="836.5" width="15" height="13"/><rect x="1323.5" y="836.5" width="15" height="13"/><rect x="1338.5" y="843.5" width="14" height="6"/><rect x="1352.5" y="849.5" width="15" height="0.01"/><rect x="1367.5" y="836.5" width="14" height="13"/><rect x="1381.5" y="849.5" width="59" height="0.01"/><rect x="1440.5" y="843.5" width="14" height="6"/></g>
<g fill="none" stroke="#fc8d62" stroke-opacity="0.5" stroke-width="2.78"><rect x="842.5" y="809.5" width="14" height="40"/><rect x="856.5" y="836.5" width="15" height="13"/><rect x="871.5" y="836.5" width="14" height="13"/><rect x="885.5" y="789.5" width="15" height="60"/><rect x="900.5" y="816.5" width="15" height="33"/><rect x="915.5" y="816.5" width="14" height="33"/><rect x="929.5" y="849.5" width="15" height="0.01"/><rect x="944.5" y="836.5" width="14" height="13"/><rect x="958.5" y="803.5" width="15" height="46"/><rect x="973.5" y="829.5" width="14" height="20"/><rect x="987.5" y="849.5" width="15" height="0.01"/><rect x="1002.5" y="843.5" width="15" height="6"/><rect x="1017.5" y="843.5" width="14" height="6"/><rect x="1031.5" y="843.5" width="15" height="6"/><rect x="1046.5" y="843.5" width="14" height="6"/><rect x="1060.5" y="849.5" width="15" height="0.01"/><rect x="1075.5" y="843.5" width="15" height="6"/><rect x="1090.5" y="849.5" width="14" height="0.01"/><rect x="1104.5" y="843.5" width="15" height="6"/><rect x="1119.5" y="849.5" width="29" height="0.01"/><rect x="1148.5" y="843.5" width="15" height="6"/><rect x="1163.5" y="849.5" width="291" height="0.01"/></g>
</g>
<g fill="#b0b0b0"><rect x="841.94" y="37.5" width="1.11" height="812"/><rect x="990.94" y="37.5" width="1.11" height="812"/><rect x="1140.94" y="37.5" width="1.11" height="812"/><rect x="1289.94" y="37.5" width="1.11" height="812"/><rect x="1439.94" y="37.5" width="1.11" height="812"/><rect x="811.5" y="848.94" width="674" height="1.11"/><rect x="811.5" y="747.94" width="674" height="1.11"/><rect x="811.5" y="645.94" width="674" height="1.11"/><rect x="811.5" y="543.94" width="674" height="1.11"/><rect x="811.5" y="442.94" width="674" height="1.11"/><rect x="811.5" y="340.94" width="674" height="1.11"/><rect x="811.5" y="238.94" width="674" height="1.11"/><rect x="811.5" y="137.94" width="674" height="1.11"/></g>
<g fill="#000"><rect x="841.94" y="849.5" width="1.11" height="5"/><rect x="990.94" y="849.5" width="1.11" height="5"/><rect x="1140.94" y="849.5" width="1.11" height="5"/><rect x="1289.94" y="849.5" width="1.11" height="5"/><rect x="1439.94" y="849.5" width="1.11" height="5"/><rect x="806.5" y="848.94" width="5" height="1.11"/><rect x="806.5" y="747.94" width="5" height="1.11"/><rect x="806.5" y="645.94" width="5" height="1.11"/><rect x="806.5" y="543.94" width="5" height="1.11"/><rect x="806.5" y="442.94" width="5" height="1.11"/><rect x="806.5" y="340.94" width="5" height="1.11"/><rect x="806.5" y="238.94" width="5" height="1.11"/><rect x="806.5" y="137.94" width="5" height="1.11"/></g>
<g clip-path="url(#c1)" fill="none" stroke-width="2.08" stroke-linejoin="round" stroke-linecap="butt">
<polyline stroke="#e5c494" points="841.6,841.82 844.68,841.18 847.76,840.54 850.84,839.9 853.92,839.24 857,838.58 860.08,837.92 863.16,837.24 866.24,836.56 869.32,835.87 872.4,835.17 875.47,834.45 878.55,833.72 881.63,832.97 884.71,832.22 887.79,831.46 890.87,830.7 893.95,829.95 897.03,829.22 900.11,828.51 903.19,827.84 906.27,827.22 909.35,826.67 912.42,826.19 915.5,825.8 918.58,825.51 921.66,825.33 924.74,825.27 927.82,825.32 930.9,825.5 933.98,825.8 937.06,826.22 940.14,826.74 943.22,827.37 946.3,828.08 949.37,828.87 952.45,829.71 955.53,830.6 958.61,831.51 961.69,832.43 964.77,833.35 967.85,834.25 970.93,835.12 974.01,835.95 977.09,836.74 980.17,837.47 983.25,838.15 986.33,838.77 989.4,839.33 992.48,839.85 995.56,840.32 998.64,840.75 1001.72,841.15 1004.8,841.53 1007.88,841.88 1010.96,842.23 1014.04,842.56 1017.12,842.9 1020.2,843.23 1023.28,843.57 1026.35,843.92 1029.43,844.27 1032.51,844.62 1035.59,844.98 1038.67,845.34 1041.75,845.69 1044.83,846.03 1047.91,846.36 1050.99,846.67 1054.07,846.96 1057.15,847.23 1060.23,847.47 1063.3,847.69 1066.38,847.87 1069.46,848.03 1072.54,848.15 1075.62,848.25 1078.7,848.32 1081.78,848.36 1084.86,848.38 1087.94,848.38 1091.02,848.36 1094.1,848.33 1097.18,848.28 1100.26,848.23 1103.33,848.16 1106.41,848.1 1109.49,848.04 1112.57,847.99 1115.65,847.94 1118.73,847.91 1121.81,847.88 1124.89,847.87 1127.97,847.87 1131.05,847.89 1134.13,847.93 1137.21,847.97 1140.28,848.03 1143.36,848.1 1146.44,848.17 1149.52,848.25 1152.6,848.34 1155.68,848.43 1158.76,848.51 1161.84,848.6 1164.92,848.68 1168,848.75 1171.08,848.82 1174.16,848.89 1177.23,848.94 1180.31,848.99 1183.39,849.04 1186.47,849.07 1189.55,849.1 1192.63,849.13 1195.71,849.15 1198.79,849.17 1201.87,849.18 1204.95,849.19 1208.03,849.2 1211.11,849.2 1214.19,849.21 1217.26,849.21 1220.34,849.22 1223.42,849.22 1226.5,849.22 1229.58,849.22 1232.66,849.22 1235.74,849.22 1238.82,849.22 1241.9,849.22 1244.98,849.22 1248.06,849.22 1251.14,849.22 1254.21,849.22 1257.29,849.22 1260.37,849.22 1263.45,849.22 1266.53,849.22 1269.61,849.22 1272.69,849.22 1275.77,849.22 1278.85,849.22 1281.93,849.22 1285.01,849.22 1288.09,849.22 1291.16,849.22 1294.24,849.22 1297.32,849.22 1300.4,849.22 1303.48,849.22 1306.56,849.22 1309.64,849.22 1312.72,849.22 1315.8,849.22 1318.88,849.22 1321.96,849.22 1325.04,849.22 1328.12,849.22 1331.19,849.22 1334.27,849.22 1337.35,849.22 1340.43,849.22 1343.51,849.22 1346.59,849.22 1349.67,849.22 1352.75,849.22 1355.83,849.22 1358.91,849.22 1361.99,849.22 1365.07,849.22 1368.14,849.22 1371.22,849.22 1374.3,849.22 1377.38,849.22 1380.46,849.22 1383.54,849.22 1386.62,849.22 1389.7,849.22 1392.78,849.22 1395.86,849.22 1398.94,849.22 1402.02,849.22 1405.1,849.22 1408.17,849.22 1411.25,849.22 1414.33,849.22 1417.41,849.22 1420.49,849.22 1423.57,849.22 1426.65,849.22 1429.73,849.22 1432.81,849.22 1435.89,849.22 1438.97,849.22 1442.05,849.22 1445.12,849.22 1448.2,849.22 1451.28,849.22 1454.36,849.22"/>
<polyline stroke="#ffd92f" points="841.6,835.8 844.68,834.8 847.76,833.78 850.84,832.74 853.92,831.7 857,830.64 860.08,829.59 863.16,828.54 866.24,827.48 869.32,826.43 872.4,825.39 875.47,824.35 878.55,823.31 881.63,822.29 884.71,821.26 887.79,820.24 890.87,819.23 893.95,818.21 897.03,817.21 900.11,816.2 903.19,815.2 906.27,814.2 909.35,813.21 912.42,812.23 915.5,811.25 918.58,810.3 921.66,809.36 924.74,808.44 927.82,807.55 930.9,806.7 933.98,805.88 937.06,805.1 940.14,804.36 943.22,803.68 946.3,803.05 949.37,802.48 952.45,801.96 955.53,801.5 958.61,801.1 961.69,800.76 964.77,800.47 967.85,800.24 970.93,800.05 974.01,799.92 977.09,799.82 980.17,799.76 983.25,799.74 986.33,799.74 989.4,799.77 992.48,799.83 995.56,799.9 998.64,799.99 1001.72,800.11 1004.8,800.24 1007.88,800.39 1010.96,800.57 1014.04,800.78 1017.12,801.02 1020.2,801.29 1023.28,801.61 1026.35,801.97 1029.43,802.39 1032.51,802.86 1035.59,803.39 1038.67,803.98 1041.75,804.63 1044.83,805.35 1047.91,806.13 1050.99,806.97 1054.07,807.87 1057.15,808.82 1060.23,809.8 1063.3,810.82 1066.38,811.87 1069.46,812.93 1072.54,814 1075.62,815.06 1078.7,816.11 1081.78,817.13 1084.86,818.12 1087.94,819.06 1091.02,819.96 1094.1,820.8 1097.18,821.59 1100.26,822.31 1103.33,822.98 1106.41,823.58 1109.49,824.13 1112.57,824.62 1115.65,825.06 1118.73,825.46 1121.81,825.82 1124.89,826.15 1127.97,826.45 1131.05,826.74 1134.13,827.02 1137.21,827.29 1140.28,827.56 1143.36,827.85 1146.44,828.14 1149.52,828.45 1152.6,828.77 1155.68,829.11 1158.76,829.47 1161.84,829.85 1164.92,830.25 1168,830.66 1171.08,831.09 1174.16,831.53 1177.23,831.98 1180.31,832.43 1183.39,832.9 1186.47,833.36 1189.55,833.83 1192.63,834.29 1195.71,834.76 1198.79,835.22 1201.87,835.68 1204.95,836.13 1208.03,836.58 1211.11,837.03 1214.19,837.47 1217.26,837.91 1220.34,838.35 1223.42,838.79 1226.5,839.22 1229.58,839.65 1232.66,840.08 1235.74,840.5 1238.82,840.93 1241.9,841.35 1244.98,841.76 1248.06,842.17 1251.14,842.57 1254.21,842.96 1257.29,843.34 1260.37,843.71 1263.45,844.06 1266.53,844.4 1269.61,844.73 1272.69,845.03 1275.77,845.32 1278.85,845.6 1281.93,845.85 1285.01,846.09 1288.09,846.3 1291.16,846.5 1294.24,846.69 1297.32,846.86 1300.4,847.01 1303.48,847.15 1306.56,847.28 1309.64,847.4 1312.72,847.51 1315.8,847.61 1318.88,847.71 1321.96,847.8 1325.04,847.88 1328.12,847.96 1331.19,848.04 1334.27,848.12 1337.35,848.19 1340.43,848.27 1343.51,848.34 1346.59,848.41 1349.67,848.47 1352.75,848.54 1355.83,848.6 1358.91,848.66 1361.99,848.71 1365.07,848.77 1368.14,848.82 1371.22,848.86 1374.3,848.91 1377.38,848.95 1380.46,848.98 1383.54,849.02 1386.62,849.04 1389.7,849.07 1392.78,849.09 1395.86,849.11 1398.94,849.13 1402.02,849.15 1405.1,849.16 1408.17,849.17 1411.25,849.18 1414.33,849.19 1417.41,849.2 1420.49,849.2 1423.57,849.21 1426.65,849.21 1429.73,849.21 1432.81,849.21 1435.89,849.22 1438.97,849.22 1442.05,849.22 1445.12,849.22 1448.2,849.22 1451.28,849.22 1454.36,849.22"/>
<polyline stroke="#fc8d62" points="841.6,803.32 844.68,799.82 847.76,796.41 850.84,793.14 853.92,790.03 857,787.13 860.08,784.46 863.16,782.04 866.24,779.89 869.32,778.03 872.4,776.45 875.47,775.17 878.55,774.16 881.63,773.43 884.71,772.96 887.79,772.73 890.87,772.72 893.95,772.93 897.03,773.31 900.11,773.87 903.19,774.57 906.27,775.41 909.35,776.35 912.42,777.39 915.5,778.5 918.58,779.68 921.66,780.91 924.74,782.18 927.82,783.48 930.9,784.8 933.98,786.14 937.06,787.48 940.14,788.82 943.22,790.16 946.3,791.5 949.37,792.85 952.45,794.19 955.53,795.54 958.61,796.89 961.69,798.25 964.77,799.63 967.85,801.02 970.93,802.42 974.01,803.84 977.09,805.27 980.17,806.71 983.25,808.14 986.33,809.57 989.4,810.99 992.48,812.38 995.56,813.74 998.64,815.06 1001.72,816.32 1004.8,817.52 1007.88,818.66 1010.96,819.74 1014.04,820.74 1017.12,821.68 1020.2,822.57 1023.28,823.4 1026.35,824.18 1029.43,824.93 1032.51,825.65 1035.59,826.35 1038.67,827.04 1041.75,827.74 1044.83,828.44 1047.91,829.15 1050.99,829.88 1054.07,830.61 1057.15,831.36 1060.23,832.12 1063.3,832.87 1066.38,833.63 1069.46,834.37 1072.54,835.1 1075.62,835.81 1078.7,836.49 1081.78,837.14 1084.86,837.76 1087.94,838.33 1091.02,838.88 1094.1,839.38 1097.18,839.85 1100.26,840.29 1103.33,840.7 1106.41,841.08 1109.49,841.44 1112.57,841.79 1115.65,842.13 1118.73,842.45 1121.81,842.77 1124.89,843.08 1127.97,843.39 1131.05,843.7 1134.13,844 1137.21,844.3 1140.28,844.59 1143.36,844.87 1146.44,845.14 1149.52,845.39 1152.6,845.63 1155.68,845.85 1158.76,846.05 1161.84,846.22 1164.92,846.36 1168,846.48 1171.08,846.57 1174.16,846.64 1177.23,846.68 1180.31,846.69 1183.39,846.68 1186.47,846.65 1189.55,846.6 1192.63,846.54 1195.71,846.47 1198.79,846.39 1201.87,846.31 1204.95,846.23 1208.03,846.15 1211.11,846.08 1214.19,846.02 1217.26,845.98 1220.34,845.95 1223.42,845.94 1226.5,845.95 1229.58,845.98 1232.66,846.03 1235.74,846.1 1238.82,846.19 1241.9,846.3 1244.98,846.43 1248.06,846.57 1251.14,846.73 1254.21,846.89 1257.29,847.07 1260.37,847.24 1263.45,847.42 1266.53,847.6 1269.61,847.77 1272.69,847.94 1275.77,848.09 1278.85,848.24 1281.93,848.37 1285.01,848.5 1288.09,848.61 1291.16,848.71 1294.24,848.8 1297.32,848.87 1300.4,848.94 1303.48,848.99 1306.56,849.04 1309.64,849.08 1312.72,849.11 1315.8,849.13 1318.88,849.15 1321.96,849.17 1325.04,849.18 1328.12,849.19 1331.19,849.2 1334.27,849.21 1337.35,849.21 1340.43,849.21 1343.51,849.22 1346.59,849.22 1349.67,849.22 1352.75,849.22 1355.83,849.22 1358.91,849.22 1361.99,849.22 1365.07,849.22 1368.14,849.22 1371.22,849.22 1374.3,849.22 1377.38,849.22 1380.46,849.22 1383.54,849.22 1386.62,849.22 1389.7,849.22 1392.78,849.22 1395.86,849.22 1398.94,849.22 1402.02,849.22 1405.1,849.22 1408.17,849.22 1411.25,849.22 1414.33,849.22 1417.41,849.22 1420.49,849.22 1423.57,849.22 1426.65,849.22 1429.73,849.22 1432.81,849.22 1435.89,849.22 1438.97,849.22 1442.05,849.22 1445.12,849.22 1448.2,849.22 1451.28,849.22 1454.36,849.22"/>
<polyline stroke="#66c2a5" points="841.6,829.45 844.68,828.19 847.76,826.95 850.84,825.75 853.92,824.59 857,823.49 860.08,822.45 863.16,821.49 866.24,820.61 869.32,819.82 872.4,819.12 875.47,818.52 878.55,818.02 881.63,817.62 884.71,817.32 887.79,817.11 890.87,817 893.95,816.98 897.03,817.05 900.11,817.19 903.19,817.41 906.27,817.69 909.35,818.03 912.42,818.42 915.5,818.85 918.58,819.31 921.66,819.8 924.74,820.31 927.82,820.84 930.9,821.37 933.98,821.91 937.06,822.44 940.14,822.97 943.22,823.5 946.3,824.02 949.37,824.53 952.45,825.03 955.53,825.52 958.61,826 961.69,826.48 964.77,826.95 967.85,827.43 970.93,827.9 974.01,828.37 977.09,828.85 980.17,829.34 983.25,829.83 986.33,830.33 989.4,830.85 992.48,831.37 995.56,831.9 998.64,832.44 1001.72,832.98 1004.8,833.53 1007.88,834.08 1010.96,834.63 1014.04,835.18 1017.12,835.71 1020.2,836.24 1023.28,836.75 1026.35,837.24 1029.43,837.71 1032.51,838.15 1035.59,838.57 1038.67,838.97 1041.75,839.33 1044.83,839.67 1047.91,839.98 1050.99,840.26 1054.07,840.52 1057.15,840.75 1060.23,840.96 1063.3,841.15 1066.38,841.33 1069.46,841.49 1072.54,841.64 1075.62,841.79 1078.7,841.93 1081.78,842.06 1084.86,842.19 1087.94,842.33 1091.02,842.46 1094.1,842.6 1097.18,842.73 1100.26,842.88 1103.33,843.02 1106.41,843.16 1109.49,843.31 1112.57,843.46 1115.65,843.61 1118.73,843.75 1121.81,843.9 1124.89,844.04 1127.97,844.17 1131.05,844.31 1134.13,844.43 1137.21,844.56 1140.28,844.68 1143.36,844.79 1146.44,844.9 1149.52,845 1152.6,845.1 1155.68,845.2 1158.76,845.3 1161.84,845.4 1164.92,845.49 1168,845.59 1171.08,845.69 1174.16,845.79 1177.23,845.9 1180.31,846 1183.39,846.12 1186.47,846.23 1189.55,846.35 1192.63,846.47 1195.71,846.6 1198.79,846.73 1201.87,846.86 1204.95,846.99 1208.03,847.13 1211.11,847.26 1214.19,847.4 1217.26,847.53 1220.34,847.66 1223.42,847.78 1226.5,847.91 1229.58,848.03 1232.66,848.14 1235.74,848.24 1238.82,848.35 1241.9,848.44 1244.98,848.53 1248.06,848.61 1251.14,848.69 1254.21,848.75 1257.29,848.82 1260.37,848.87 1263.45,848.92 1266.53,848.97 1269.61,849 1272.69,849.04 1275.77,849.07 1278.85,849.09 1281.93,849.12 1285.01,849.13 1288.09,849.15 1291.16,849.16 1294.24,849.18 1297.32,849.18 1300.4,849.19 1303.48,849.2 1306.56,849.2 1309.64,849.21 1312.72,849.21 1315.8,849.21 1318.88,849.22 1321.96,849.22 1325.04,849.22 1328.12,849.22 1331.19,849.22 1334.27,849.22 1337.35,849.22 1340.43,849.22 1343.51,849.22 1346.59,849.22 1349.67,849.22 1352.75,849.22 1355.83,849.22 1358.91,849.22 1361.99,849.22 1365.07,849.22 1368.14,849.22 1371.22,849.22 1374.3,849.22 1377.38,849.22 1380.46,849.22 1383.54,849.22 1386.62,849.22 1389.7,849.22 1392.78,849.22 1395.86,849.22 1398.94,849.22 1402.02,849.22 1405.1,849.22 1408.17,849.22 1411.25,849.22 1414.33,849.22 1417.41,849.22 1420.49,849.22 1423.57,849.22 1426.65,849.22 1429.73,849.22 1432.81,849.22 1435.89,849.22 1438.97,849.22 1442.05,849.22 1445.12,849.22 1448.2,849.22 1451.28,849.22 1454.36,849.22"/>
<polyline stroke="#a6d854" points="841.6,777.17 844.68,770.31 847.76,764.02 850.84,758.48 853.92,753.83 857,750.18 860.08,747.55 863.16,745.95 866.24,745.29 869.32,745.48 872.4,746.37 875.47,747.81 878.55,749.62 881.63,751.68 884.71,753.85 887.79,756.07 890.87,758.28 893.95,760.46 897.03,762.65 900.11,764.88 903.19,767.21 906.27,769.68 909.35,772.36 912.42,775.26 915.5,778.4 918.58,781.76 921.66,785.31 924.74,789 927.82,792.75 930.9,796.49 933.98,800.14 937.06,803.62 940.14,806.88 943.22,809.85 946.3,812.5 949.37,814.82 952.45,816.81 955.53,818.48 958.61,819.87 961.69,821.02 964.77,821.97 967.85,822.78 970.93,823.5 974.01,824.18 977.09,824.86 980.17,825.57 983.25,826.35 986.33,827.2 989.4,828.13 992.48,829.14 995.56,830.21 998.64,831.34 1001.72,832.49 1004.8,833.65 1007.88,834.79 1010.96,835.88 1014.04,836.91 1017.12,837.85 1020.2,838.7 1023.28,839.43 1026.35,840.04 1029.43,840.54 1032.51,840.94 1035.59,841.23 1038.67,841.44 1041.75,841.59 1044.83,841.69 1047.91,841.76 1050.99,841.84 1054.07,841.93 1057.15,842.05 1060.23,842.21 1063.3,842.43 1066.38,842.71 1069.46,843.04 1072.54,843.43 1075.62,843.86 1078.7,844.32 1081.78,844.8 1084.86,845.29 1087.94,845.78 1091.02,846.25 1094.1,846.69 1097.18,847.1 1100.26,847.47 1103.33,847.8 1106.41,848.08 1109.49,848.32 1112.57,848.53 1115.65,848.69 1118.73,848.82 1121.81,848.93 1124.89,849.01 1127.97,849.07 1131.05,849.11 1134.13,849.15 1137.21,849.17 1140.28,849.19 1143.36,849.2 1146.44,849.21 1149.52,849.21 1152.6,849.22 1155.68,849.22 1158.76,849.22 1161.84,849.22 1164.92,849.22 1168,849.22 1171.08,849.22 1174.16,849.22 1177.23,849.22 1180.31,849.22 1183.39,849.22 1186.47,849.22 1189.55,849.22 1192.63,849.22 1195.71,849.21 1198.79,849.21 1201.87,849.2 1204.95,849.19 1208.03,849.18 1211.11,849.16 1214.19,849.14 1217.26,849.11 1220.34,849.07 1223.42,849.03 1226.5,848.97 1229.58,848.9 1232.66,848.82 1235.74,848.72 1238.82,848.61 1241.9,848.5 1244.98,848.37 1248.06,848.24 1251.14,848.11 1254.21,847.98 1257.29,847.86 1260.37,847.76 1263.45,847.68 1266.53,847.62 1269.61,847.58 1272.69,847.57 1275.77,847.59 1278.85,847.64 1281.93,847.71 1285.01,847.81 1288.09,847.92 1291.16,848.04 1294.24,848.17 1297.32,848.3 1300.4,848.43 1303.48,848.55 1306.56,848.66 1309.64,848.76 1312.72,848.85 1315.8,848.93 1318.88,849 1321.96,849.05 1325.04,849.09 1328.12,849.13 1331.19,849.15 1334.27,849.17 1337.35,849.19 1340.43,849.2 1343.51,849.21 1346.59,849.21 1349.67,849.22 1352.75,849.22 1355.83,849.22 1358.91,849.22 1361.99,849.22 1365.07,849.22 1368.14,849.22 1371.22,849.22 1374.3,849.22 1377.38,849.22 1380.46,849.22 1383.54,849.22 1386.62,849.22 1389.7,849.22 1392.78,849.22 1395.86,849.22 1398.94,849.22 1402.02,849.22 1405.1,849.22 1408.17,849.22 1411.25,849.22 1414.33,849.22 1417.41,849.22 1420.49,849.22 1423.57,849.22 1426.65,849.22 1429.73,849.22 1432.81,849.22 1435.89,849.22 1438.97,849.22 1442.05,849.22 1445.12,849.22 1448.2,849.22 1451.28,849.22 1454.36,849.22"/>
<polyline stroke="#ffd92f" points="841.6,825.97 844.68,823.24 847.76,820.52 850.84,817.87 853.92,815.34 857,812.98 860.08,810.86 863.16,809.01 866.24,807.46 869.32,806.26 872.4,805.42 875.47,804.93 878.55,804.8 881.63,805.02 884.71,805.55 887.79,806.36 890.87,807.43 893.95,808.71 897.03,810.14 900.11,811.7 903.19,813.33 906.27,814.99 909.35,816.65 912.42,818.27 915.5,819.8 918.58,821.24 921.66,822.56 924.74,823.73 927.82,824.76 930.9,825.62 933.98,826.33 937.06,826.88 940.14,827.29 943.22,827.56 946.3,827.71 949.37,827.76 952.45,827.72 955.53,827.62 958.61,827.48 961.69,827.32 964.77,827.17 967.85,827.04 970.93,826.95 974.01,826.93 977.09,826.98 980.17,827.13 983.25,827.38 986.33,827.74 989.4,828.22 992.48,828.82 995.56,829.52 998.64,830.34 1001.72,831.26 1004.8,832.25 1007.88,833.32 1010.96,834.43 1014.04,835.57 1017.12,836.72 1020.2,837.85 1023.28,838.96 1026.35,840.03 1029.43,841.05 1032.51,842 1035.59,842.88 1038.67,843.69 1041.75,844.43 1044.83,845.09 1047.91,845.69 1050.99,846.22 1054.07,846.69 1057.15,847.1 1060.23,847.46 1063.3,847.77 1066.38,848.03 1069.46,848.26 1072.54,848.45 1075.62,848.62 1078.7,848.75 1081.78,848.86 1084.86,848.94 1087.94,849.01 1091.02,849.07 1094.1,849.11 1097.18,849.14 1100.26,849.16 1103.33,849.18 1106.41,849.19 1109.49,849.2 1112.57,849.21 1115.65,849.21 1118.73,849.22 1121.81,849.22 1124.89,849.22 1127.97,849.22 1131.05,849.22 1134.13,849.22 1137.21,849.22 1140.28,849.22 1143.36,849.22 1146.44,849.22 1149.52,849.22 1152.6,849.22 1155.68,849.22 1158.76,849.22 1161.84,849.22 1164.92,849.22 1168,849.22 1171.08,849.22 1174.16,849.22 1177.23,849.22 1180.31,849.22 1183.39,849.22 1186.47,849.22 1189.55,849.22 1192.63,849.22 1195.71,849.22 1198.79,849.22 1201.87,849.22 1204.95,849.22 1208.03,849.22 1211.11,849.22 1214.19,849.22 1217.26,849.22 1220.34,849.22 1223.42,849.22 1226.5,849.22 1229.58,849.22 1232.66,849.22 1235.74,849.22 1238.82,849.22 1241.9,849.22 1244.98,849.22 1248.06,849.22 1251.14,849.22 1254.21,849.22 1257.29,849.22 1260.37,849.22 1263.45,849.22 1266.53,849.22 1269.61,849.22 1272.69,849.22 1275.77,849.22 1278.85,849.22 1281.93,849.22 1285.01,849.22 1288.09,849.22 1291.16,849.22 1294.24,849.22 1297.32,849.22 1300.4,849.22 1303.48,849.22 1306.56,849.22 1309.64,849.22 1312.72,849.22 1315.8,849.22 1318.88,849.22 1321.96,849.22 1325.04,849.22 1328.12,849.22 1331.19,849.22 1334.27,849.22 1337.35,849.22 1340.43,849.22 1343.51,849.22 1346.59,849.22 1349.67,849.22 1352.75,849.22 1355.83,849.22 1358.91,849.22 1361.99,849.22 1365.07,849.22 1368.14,849.22 1371.22,849.22 1374.3,849.22 1377.38,849.22 1380.46,849.22 1383.54,849.22 1386.62,849.22 1389.7,849.22 1392.78,849.22 1395.86,849.22 1398.94,849.22 1402.02,849.22 1405.1,849.22 1408.17,849.22 1411.25,849.22 1414.33,849.22 1417.41,849.22 1420.49,849.22 1423.57,849.22 1426.65,849.22 1429.73,849.22 1432.81,849.22 1435.89,849.22 1438.97,849.22 1442.05,849.22 1445.12,849.22 1448.2,849.22 1451.28,849.22 1454.36,849.22"/>
<polyline stroke="#8da0cb" points="841.6,846.06 844.68,845.98 847.76,845.9 850.84,845.82 853.92,845.75 857,845.68 860.08,845.62 863.16,845.56 866.24,845.5 869.32,845.45 872.4,845.41 875.47,845.36 878.55,845.32 881.63,845.29 884.71,845.26 887.79,845.23 890.87,845.2 893.95,845.18 897.03,845.17 900.11,845.15 903.19,845.14 906.27,845.14 909.35,845.13 912.42,845.13 915.5,845.13 918.58,845.13 921.66,845.13 924.74,845.14 927.82,845.14 930.9,845.15 933.98,845.15 937.06,845.16 940.14,845.17 943.22,845.18 946.3,845.18 949.37,845.19 952.45,845.2 955.53,845.2 958.61,845.21 961.69,845.21 964.77,845.22 967.85,845.22 970.93,845.23 974.01,845.23 977.09,845.24 980.17,845.24 983.25,845.25 986.33,845.25 989.4,845.25 992.48,845.26 995.56,845.27 998.64,845.27 1001.72,845.28 1004.8,845.29 1007.88,845.3 1010.96,845.31 1014.04,845.33 1017.12,845.35 1020.2,845.37 1023.28,845.39 1026.35,845.41 1029.43,845.44 1032.51,845.47 1035.59,845.51 1038.67,845.54 1041.75,845.59 1044.83,845.63 1047.91,845.68 1050.99,845.73 1054.07,845.78 1057.15,845.84 1060.23,845.9 1063.3,845.96 1066.38,846.03 1069.46,846.1 1072.54,846.17 1075.62,846.24 1078.7,846.32 1081.78,846.39 1084.86,846.47 1087.94,846.55 1091.02,846.64 1094.1,846.72 1097.18,846.8 1100.26,846.89 1103.33,846.97 1106.41,847.05 1109.49,847.14 1112.57,847.22 1115.65,847.3 1118.73,847.38 1121.81,847.46 1124.89,847.53 1127.97,847.61 1131.05,847.68 1134.13,847.75 1137.21,847.82 1140.28,847.88 1143.36,847.95 1146.44,848 1149.52,848.06 1152.6,848.11 1155.68,848.16 1158.76,848.21 1161.84,848.25 1164.92,848.29 1168,848.33 1171.08,848.37 1174.16,848.4 1177.23,848.43 1180.31,848.45 1183.39,848.47 1186.47,848.49 1189.55,848.51 1192.63,848.53 1195.71,848.54 1198.79,848.55 1201.87,848.56 1204.95,848.57 1208.03,848.58 1211.11,848.58 1214.19,848.59 1217.26,848.59 1220.34,848.59 1223.42,848.6 1226.5,848.6 1229.58,848.6 1232.66,848.6 1235.74,848.6 1238.82,848.6 1241.9,848.6 1244.98,848.6 1248.06,848.61 1251.14,848.61 1254.21,848.61 1257.29,848.62 1260.37,848.62 1263.45,848.62 1266.53,848.63 1269.61,848.64 1272.69,848.65 1275.77,848.65 1278.85,848.66 1281.93,848.67 1285.01,848.68 1288.09,848.7 1291.16,848.71 1294.24,848.72 1297.32,848.73 1300.4,848.75 1303.48,848.76 1306.56,848.78 1309.64,848.79 1312.72,848.81 1315.8,848.82 1318.88,848.84 1321.96,848.86 1325.04,848.87 1328.12,848.89 1331.19,848.91 1334.27,848.92 1337.35,848.94 1340.43,848.95 1343.51,848.97 1346.59,848.98 1349.67,849 1352.75,849.01 1355.83,849.02 1358.91,849.04 1361.99,849.05 1365.07,849.06 1368.14,849.07 1371.22,849.08 1374.3,849.09 1377.38,849.1 1380.46,849.11 1383.54,849.12 1386.62,849.13 1389.7,849.14 1392.78,849.15 1395.86,849.15 1398.94,849.16 1402.02,849.16 1405.1,849.17 1408.17,849.18 1411.25,849.18 1414.33,849.18 1417.41,849.19 1420.49,849.19 1423.57,849.19 1426.65,849.2 1429.73,849.2 1432.81,849.2 1435.89,849.21 1438.97,849.21 1442.05,849.21 1445.12,849.21 1448.2,849.21 1451.28,849.21 1454.36,849.21"/>
<polyline stroke="#e5c494" points="841.6,499.24 844.68,451.81 847.76,408.68 850.84,371.63 853.92,341.88 857,319.95 860.08,305.7 863.16,298.44 866.24,297.09 869.32,300.37 872.4,307.03 875.47,315.93 878.55,326.24 881.63,337.37 884.71,348.99 887.79,361 890.87,373.39 893.95,386.24 897.03,399.58 900.11,413.41 903.19,427.67 906.27,442.19 909.35,456.82 912.42,471.34 915.5,485.59 918.58,499.4 921.66,512.71 924.74,525.47 927.82,537.73 930.9,549.54 933.98,561.02 937.06,572.25 940.14,583.3 943.22,594.19 946.3,604.91 949.37,615.37 952.45,625.45 955.53,635.01 958.61,643.96 961.69,652.24 964.77,659.88 967.85,667.01 970.93,673.83 974.01,680.58 977.09,687.53 980.17,694.85 983.25,702.65 986.33,710.91 989.4,719.51 992.48,728.23 995.56,736.83 998.64,745.06 1001.72,752.71 1004.8,759.65 1007.88,765.79 1010.96,771.15 1014.04,775.76 1017.12,779.72 1020.2,783.1 1023.28,785.99 1026.35,788.48 1029.43,790.64 1032.51,792.57 1035.59,794.34 1038.67,796.02 1041.75,797.71 1044.83,799.46 1047.91,801.35 1050.99,803.4 1054.07,805.64 1057.15,808.05 1060.23,810.61 1063.3,813.27 1066.38,815.97 1069.46,818.66 1072.54,821.28 1075.62,823.78 1078.7,826.12 1081.78,828.27 1084.86,830.22 1087.94,831.95 1091.02,833.46 1094.1,834.76 1097.18,835.85 1100.26,836.77 1103.33,837.53 1106.41,838.17 1109.49,838.72 1112.57,839.21 1115.65,839.67 1118.73,840.13 1121.81,840.59 1124.89,841.07 1127.97,841.57 1131.05,842.09 1134.13,842.61 1137.21,843.13 1140.28,843.63 1143.36,844.1 1146.44,844.52 1149.52,844.88 1152.6,845.18 1155.68,845.4 1158.76,845.56 1161.84,845.67 1164.92,845.74 1168,845.79 1171.08,845.83 1174.16,845.86 1177.23,845.89 1180.31,845.92 1183.39,845.95 1186.47,845.98 1189.55,846.02 1192.63,846.09 1195.71,846.18 1198.79,846.31 1201.87,846.5 1204.95,846.73 1208.03,847.01 1211.11,847.31 1214.19,847.62 1217.26,847.93 1220.34,848.21 1223.42,848.46 1226.5,848.67 1229.58,848.83 1232.66,848.96 1235.74,849.05 1238.82,849.11 1241.9,849.16 1244.98,849.18 1248.06,849.2 1251.14,849.21 1254.21,849.22 1257.29,849.22 1260.37,849.22 1263.45,849.22 1266.53,849.22 1269.61,849.22 1272.69,849.22 1275.77,849.22 1278.85,849.22 1281.93,849.22 1285.01,849.22 1288.09,849.22 1291.16,849.22 1294.24,849.22 1297.32,849.22 1300.4,849.22 1303.48,849.22 1306.56,849.22 1309.64,849.22 1312.72,849.22 1315.8,849.22 1318.88,849.22 1321.96,849.22 1325.04,849.22 1328.12,849.22 1331.19,849.22 1334.27,849.22 1337.35,849.22 1340.43,849.22 1343.51,849.22 1346.59,849.22 1349.67,849.22 1352.75,849.22 1355.83,849.22 1358.91,849.22 1361.99,849.22 1365.07,849.22 1368.14,849.22 1371.22,849.22 1374.3,849.22 1377.38,849.22 1380.46,849.22 1383.54,849.22 1386.62,849.22 1389.7,849.22 1392.78,849.22 1395.86,849.22 1398.94,849.22 1402.02,849.22 1405.1,849.22 1408.17,849.22 1411.25,849.22 1414.33,849.22 1417.41,849.22 1420.49,849.22 1423.57,849.22 1426.65,849.22 1429.73,849.22 1432.81,849.22 1435.89,849.22 1438.97,849.22 1442.05,849.22 1445.12,849.22 1448.2,849.22 1451.28,849.22 1454.36,849.22"/>
<polyline stroke="#a6d854" points="841.6,736.49 844.68,725.85 847.76,715.87 850.84,706.74 853.92,698.61 857,691.56 860.08,685.62 863.16,680.74 866.24,676.86 869.32,673.84 872.4,671.54 875.47,669.81 878.55,668.5 881.63,667.48 884.71,666.64 887.79,665.91 890.87,665.25 893.95,664.62 897.03,664.06 900.11,663.56 903.19,663.16 906.27,662.9 909.35,662.81 912.42,662.9 915.5,663.2 918.58,663.71 921.66,664.43 924.74,665.36 927.82,666.5 930.9,667.84 933.98,669.37 937.06,671.09 940.14,672.99 943.22,675.07 946.3,677.33 949.37,679.77 952.45,682.38 955.53,685.16 958.61,688.1 961.69,691.22 964.77,694.51 967.85,697.96 970.93,701.57 974.01,705.35 977.09,709.28 980.17,713.36 983.25,717.56 986.33,721.87 989.4,726.24 992.48,730.65 995.56,735.04 998.64,739.36 1001.72,743.57 1004.8,747.61 1007.88,751.42 1010.96,754.98 1014.04,758.24 1017.12,761.2 1020.2,763.86 1023.28,766.23 1026.35,768.35 1029.43,770.25 1032.51,772 1035.59,773.66 1038.67,775.28 1041.75,776.93 1044.83,778.66 1047.91,780.51 1050.99,782.51 1054.07,784.67 1057.15,786.99 1060.23,789.47 1063.3,792.07 1066.38,794.78 1069.46,797.54 1072.54,800.34 1075.62,803.13 1078.7,805.88 1081.78,808.57 1084.86,811.17 1087.94,813.68 1091.02,816.1 1094.1,818.41 1097.18,820.62 1100.26,822.74 1103.33,824.77 1106.41,826.71 1109.49,828.56 1112.57,830.32 1115.65,831.99 1118.73,833.56 1121.81,835.03 1124.89,836.39 1127.97,837.66 1131.05,838.82 1134.13,839.88 1137.21,840.85 1140.28,841.73 1143.36,842.52 1146.44,843.23 1149.52,843.86 1152.6,844.41 1155.68,844.88 1158.76,845.28 1161.84,845.6 1164.92,845.84 1168,846 1171.08,846.09 1174.16,846.11 1177.23,846.08 1180.31,846.01 1183.39,845.91 1186.47,845.81 1189.55,845.71 1192.63,845.64 1195.71,845.6 1198.79,845.61 1201.87,845.68 1204.95,845.8 1208.03,845.97 1211.11,846.18 1214.19,846.44 1217.26,846.72 1220.34,847.01 1223.42,847.31 1226.5,847.59 1229.58,847.86 1232.66,848.11 1235.74,848.33 1238.82,848.52 1241.9,848.68 1244.98,848.81 1248.06,848.92 1251.14,849 1254.21,849.06 1257.29,849.11 1260.37,849.15 1263.45,849.17 1266.53,849.19 1269.61,849.2 1272.69,849.21 1275.77,849.21 1278.85,849.22 1281.93,849.22 1285.01,849.22 1288.09,849.22 1291.16,849.22 1294.24,849.22 1297.32,849.22 1300.4,849.22 1303.48,849.22 1306.56,849.22 1309.64,849.22 1312.72,849.22 1315.8,849.22 1318.88,849.22 1321.96,849.22 1325.04,849.22 1328.12,849.22 1331.19,849.22 1334.27,849.22 1337.35,849.22 1340.43,849.22 1343.51,849.22 1346.59,849.22 1349.67,849.22 1352.75,849.22 1355.83,849.22 1358.91,849.22 1361.99,849.22 1365.07,849.22 1368.14,849.22 1371.22,849.22 1374.3,849.22 1377.38,849.22 1380.46,849.22 1383.54,849.22 1386.62,849.22 1389.7,849.22 1392.78,849.22 1395.86,849.22 1398.94,849.22 1402.02,849.22 1405.1,849.22 1408.17,849.22 1411.25,849.22 1414.33,849.22 1417.41,849.22 1420.49,849.22 1423.57,849.22 1426.65,849.22 1429.73,849.22 1432.81,849.22 1435.89,849.22 1438.97,849.22 1442.05,849.22 1445.12,849.22 1448.2,849.22 1451.28,849.22 1454.36,849.22"/>
<polyline stroke="#b3b3b3" points="841.6,593.82 844.68,548.84 847.76,505.31 850.84,465.03 853.92,429.32 857,398.93 860.08,374.05 863.16,354.36 866.24,339.22 869.32,327.84 872.4,319.45 875.47,313.34 878.55,308.92 881.63,305.71 884.71,303.3 887.79,301.39 890.87,299.82 893.95,298.58 897.03,297.89 900.11,298.11 903.19,299.74 906.27,303.22 909.35,308.9 912.42,316.86 915.5,326.9 918.58,338.6 921.66,351.37 924.74,364.64 927.82,377.93 930.9,391.01 933.98,403.83 937.06,416.54 940.14,429.3 943.22,442.25 946.3,455.34 949.37,468.37 952.45,481 955.53,492.86 958.61,503.66 961.69,513.3 964.77,521.91 967.85,529.84 970.93,537.54 974.01,545.51 977.09,554.14 980.17,563.65 983.25,574.07 986.33,585.23 989.4,596.84 992.48,608.59 995.56,620.19 998.64,631.45 1001.72,642.31 1004.8,652.81 1007.88,663.07 1010.96,673.23 1014.04,683.43 1017.12,693.73 1020.2,704.16 1023.28,714.64 1026.35,725.1 1029.43,735.42 1032.51,745.47 1035.59,755.12 1038.67,764.27 1041.75,772.79 1044.83,780.57 1047.91,787.53 1050.99,793.6 1054.07,798.76 1057.15,803.03 1060.23,806.48 1063.3,809.26 1066.38,811.52 1069.46,813.42 1072.54,815.14 1075.62,816.8 1078.7,818.5 1081.78,820.3 1084.86,822.18 1087.94,824.13 1091.02,826.11 1094.1,828.04 1097.18,829.89 1100.26,831.61 1103.33,833.17 1106.41,834.57 1109.49,835.82 1112.57,836.93 1115.65,837.92 1118.73,838.82 1121.81,839.65 1124.89,840.42 1127.97,841.16 1131.05,841.88 1134.13,842.58 1137.21,843.27 1140.28,843.96 1143.36,844.63 1146.44,845.27 1149.52,845.87 1152.6,846.39 1155.68,846.81 1158.76,847.11 1161.84,847.28 1164.92,847.33 1168,847.27 1171.08,847.13 1174.16,846.95 1177.23,846.77 1180.31,846.64 1183.39,846.58 1186.47,846.62 1189.55,846.75 1192.63,846.97 1195.71,847.26 1198.79,847.58 1201.87,847.91 1204.95,848.21 1208.03,848.48 1211.11,848.7 1214.19,848.87 1217.26,848.99 1220.34,849.08 1223.42,849.14 1226.5,849.17 1229.58,849.2 1232.66,849.21 1235.74,849.22 1238.82,849.22 1241.9,849.22 1244.98,849.22 1248.06,849.22 1251.14,849.22 1254.21,849.22 1257.29,849.22 1260.37,849.22 1263.45,849.22 1266.53,849.22 1269.61,849.22 1272.69,849.22 1275.77,849.22 1278.85,849.22 1281.93,849.22 1285.01,849.22 1288.09,849.22 1291.16,849.22 1294.24,849.22 1297.32,849.22 1300.4,849.22 1303.48,849.22 1306.56,849.22 1309.64,849.22 1312.72,849.22 1315.8,849.22 1318.88,849.22 1321.96,849.22 1325.04,849.22 1328.12,849.22 1331.19,849.22 1334.27,849.22 1337.35,849.22 1340.43,849.22 1343.51,849.22 1346.59,849.22 1349.67,849.22 1352.75,849.22 1355.83,849.22 1358.91,849.22 1361.99,849.22 1365.07,849.22 1368.14,849.22 1371.22,849.22 1374.3,849.22 1377.38,849.22 1380.46,849.22 1383.54,849.22 1386.62,849.22 1389.7,849.22 1392.78,849.22 1395.86,849.22 1398.94,849.22 1402.02,849.22 1405.1,849.22 1408.17,849.22 1411.25,849.22 1414.33,849.22 1417.41,849.22 1420.49,849.22 1423.57,849.22 1426.65,849.22 1429.73,849.22 1432.81,849.22 1435.89,849.22 1438.97,849.22 1442.05,849.22 1445.12,849.22 1448.2,849.22 1451.28,849.22 1454.36,849.22"/>
<polyline stroke="#e78ac3" points="841.6,742.58 844.68,733.15 847.76,724.23 850.84,715.98 853.92,708.53 857,701.96 860.08,696.32 863.16,691.62 866.24,687.82 869.32,684.86 872.4,682.68 875.47,681.16 878.55,680.23 881.63,679.79 884.71,679.77 887.79,680.12 890.87,680.79 893.95,681.76 897.03,683.02 900.11,684.55 903.19,686.36 906.27,688.45 909.35,690.82 912.42,693.45 915.5,696.33 918.58,699.44 921.66,702.75 924.74,706.24 927.82,709.88 930.9,713.64 933.98,717.5 937.06,721.42 940.14,725.39 943.22,729.4 946.3,733.42 949.37,737.45 952.45,741.46 955.53,745.45 958.61,749.39 961.69,753.27 964.77,757.08 967.85,760.78 970.93,764.36 974.01,767.81 977.09,771.1 980.17,774.22 983.25,777.16 986.33,779.92 989.4,782.5 992.48,784.91 995.56,787.14 998.64,789.23 1001.72,791.17 1004.8,793.01 1007.88,794.74 1010.96,796.39 1014.04,797.98 1017.12,799.5 1020.2,800.99 1023.28,802.42 1026.35,803.82 1029.43,805.18 1032.51,806.49 1035.59,807.76 1038.67,808.98 1041.75,810.14 1044.83,811.26 1047.91,812.33 1050.99,813.36 1054.07,814.35 1057.15,815.32 1060.23,816.27 1063.3,817.21 1066.38,818.15 1069.46,819.1 1072.54,820.07 1075.62,821.05 1078.7,822.05 1081.78,823.06 1084.86,824.08 1087.94,825.09 1091.02,826.1 1094.1,827.09 1097.18,828.04 1100.26,828.96 1103.33,829.83 1106.41,830.65 1109.49,831.41 1112.57,832.13 1115.65,832.79 1118.73,833.41 1121.81,834 1124.89,834.56 1127.97,835.1 1131.05,835.63 1134.13,836.17 1137.21,836.71 1140.28,837.26 1143.36,837.82 1146.44,838.39 1149.52,838.96 1152.6,839.54 1155.68,840.11 1158.76,840.67 1161.84,841.21 1164.92,841.72 1168,842.2 1171.08,842.65 1174.16,843.06 1177.23,843.43 1180.31,843.77 1183.39,844.08 1186.47,844.36 1189.55,844.62 1192.63,844.86 1195.71,845.09 1198.79,845.3 1201.87,845.5 1204.95,845.69 1208.03,845.87 1211.11,846.04 1214.19,846.19 1217.26,846.34 1220.34,846.47 1223.42,846.59 1226.5,846.7 1229.58,846.81 1232.66,846.9 1235.74,847 1238.82,847.1 1241.9,847.2 1244.98,847.3 1248.06,847.41 1251.14,847.53 1254.21,847.65 1257.29,847.78 1260.37,847.92 1263.45,848.05 1266.53,848.19 1269.61,848.32 1272.69,848.44 1275.77,848.56 1278.85,848.67 1281.93,848.76 1285.01,848.85 1288.09,848.92 1291.16,848.99 1294.24,849.04 1297.32,849.08 1300.4,849.12 1303.48,849.14 1306.56,849.16 1309.64,849.18 1312.72,849.19 1315.8,849.2 1318.88,849.21 1321.96,849.21 1325.04,849.22 1328.12,849.22 1331.19,849.22 1334.27,849.22 1337.35,849.22 1340.43,849.22 1343.51,849.22 1346.59,849.22 1349.67,849.22 1352.75,849.22 1355.83,849.22 1358.91,849.22 1361.99,849.22 1365.07,849.22 1368.14,849.22 1371.22,849.22 1374.3,849.22 1377.38,849.22 1380.46,849.22 1383.54,849.22 1386.62,849.22 1389.7,849.22 1392.78,849.22 1395.86,849.22 1398.94,849.22 1402.02,849.22 1405.1,849.22 1408.17,849.22 1411.25,849.22 1414.33,849.22 1417.41,849.22 1420.49,849.22 1423.57,849.22 1426.65,849.22 1429.73,849.22 1432.81,849.22 1435.89,849.22 1438.97,849.22 1442.05,849.22 1445.12,849.22 1448.2,849.22 1451.28,849.22 1454.36,849.22"/>
<polyline stroke="#8da0cb" points="841.6,821.83 844.68,819.46 847.76,817.06 850.84,814.63 853.92,812.19 857,809.77 860.08,807.36 863.16,805 866.24,802.7 869.32,800.47 872.4,798.31 875.47,796.24 878.55,794.27 881.63,792.4 884.71,790.62 887.79,788.95 890.87,787.37 893.95,785.88 897.03,784.47 900.11,783.14 903.19,781.88 906.27,780.67 909.35,779.5 912.42,778.36 915.5,777.25 918.58,776.15 921.66,775.06 924.74,773.95 927.82,772.83 930.9,771.69 933.98,770.51 937.06,769.3 940.14,768.05 943.22,766.75 946.3,765.4 949.37,764 952.45,762.55 955.53,761.04 958.61,759.48 961.69,757.86 964.77,756.2 967.85,754.48 970.93,752.72 974.01,750.92 977.09,749.09 980.17,747.24 983.25,745.36 986.33,743.49 989.4,741.61 992.48,739.76 995.56,737.93 998.64,736.14 1001.72,734.41 1004.8,732.74 1007.88,731.16 1010.96,729.67 1014.04,728.28 1017.12,727 1020.2,725.85 1023.28,724.84 1026.35,723.96 1029.43,723.22 1032.51,722.63 1035.59,722.19 1038.67,721.88 1041.75,721.72 1044.83,721.69 1047.91,721.78 1050.99,721.99 1054.07,722.31 1057.15,722.71 1060.23,723.2 1063.3,723.74 1066.38,724.35 1069.46,724.99 1072.54,725.66 1075.62,726.36 1078.7,727.06 1081.78,727.77 1084.86,728.48 1087.94,729.19 1091.02,729.9 1094.1,730.61 1097.18,731.32 1100.26,732.05 1103.33,732.79 1106.41,733.56 1109.49,734.37 1112.57,735.21 1115.65,736.11 1118.73,737.06 1121.81,738.07 1124.89,739.14 1127.97,740.29 1131.05,741.5 1134.13,742.79 1137.21,744.14 1140.28,745.56 1143.36,747.03 1146.44,748.56 1149.52,750.14 1152.6,751.76 1155.68,753.41 1158.76,755.09 1161.84,756.79 1164.92,758.51 1168,760.25 1171.08,761.99 1174.16,763.74 1177.23,765.49 1180.31,767.24 1183.39,769 1186.47,770.77 1189.55,772.54 1192.63,774.31 1195.71,776.1 1198.79,777.9 1201.87,779.71 1204.95,781.54 1208.03,783.39 1211.11,785.25 1214.19,787.14 1217.26,789.04 1220.34,790.96 1223.42,792.89 1226.5,794.83 1229.58,796.78 1232.66,798.73 1235.74,800.67 1238.82,802.6 1241.9,804.51 1244.98,806.39 1248.06,808.24 1251.14,810.05 1254.21,811.82 1257.29,813.54 1260.37,815.19 1263.45,816.79 1266.53,818.33 1269.61,819.8 1272.69,821.2 1275.77,822.54 1278.85,823.81 1281.93,825.01 1285.01,826.15 1288.09,827.24 1291.16,828.26 1294.24,829.23 1297.32,830.15 1300.4,831.02 1303.48,831.85 1306.56,832.64 1309.64,833.4 1312.72,834.12 1315.8,834.81 1318.88,835.48 1321.96,836.11 1325.04,836.73 1328.12,837.32 1331.19,837.89 1334.27,838.44 1337.35,838.98 1340.43,839.49 1343.51,839.99 1346.59,840.47 1349.67,840.93 1352.75,841.38 1355.83,841.82 1358.91,842.23 1361.99,842.64 1365.07,843.03 1368.14,843.4 1371.22,843.77 1374.3,844.11 1377.38,844.45 1380.46,844.77 1383.54,845.07 1386.62,845.36 1389.7,845.63 1392.78,845.89 1395.86,846.13 1398.94,846.35 1402.02,846.55 1405.1,846.74 1408.17,846.91 1411.25,847.06 1414.33,847.19 1417.41,847.31 1420.49,847.41 1423.57,847.5 1426.65,847.57 1429.73,847.63 1432.81,847.69 1435.89,847.73 1438.97,847.77 1442.05,847.8 1445.12,847.83 1448.2,847.86 1451.28,847.9 1454.36,847.93"/>
<polyline stroke="#fc8d62" points="841.6,834.85 844.68,833.76 847.76,832.67 850.84,831.59 853.92,830.51 857,829.46 860.08,828.44 863.16,827.45 866.24,826.51 869.32,825.62 872.4,824.79 875.47,824.03 878.55,823.34 881.63,822.74 884.71,822.23 887.79,821.8 890.87,821.48 893.95,821.25 897.03,821.12 900.11,821.08 903.19,821.13 906.27,821.27 909.35,821.49 912.42,821.77 915.5,822.12 918.58,822.51 921.66,822.95 924.74,823.42 927.82,823.9 930.9,824.4 933.98,824.91 937.06,825.41 940.14,825.92 943.22,826.42 946.3,826.91 949.37,827.41 952.45,827.9 955.53,828.4 958.61,828.9 961.69,829.42 964.77,829.95 967.85,830.5 970.93,831.07 974.01,831.66 977.09,832.28 980.17,832.91 983.25,833.56 986.33,834.23 989.4,834.9 992.48,835.57 995.56,836.24 998.64,836.9 1001.72,837.54 1004.8,838.17 1007.88,838.77 1010.96,839.34 1014.04,839.88 1017.12,840.38 1020.2,840.85 1023.28,841.28 1026.35,841.69 1029.43,842.06 1032.51,842.39 1035.59,842.71 1038.67,842.99 1041.75,843.25 1044.83,843.5 1047.91,843.72 1050.99,843.93 1054.07,844.12 1057.15,844.31 1060.23,844.48 1063.3,844.64 1066.38,844.79 1069.46,844.94 1072.54,845.08 1075.62,845.21 1078.7,845.34 1081.78,845.45 1084.86,845.57 1087.94,845.68 1091.02,845.78 1094.1,845.88 1097.18,845.97 1100.26,846.07 1103.33,846.15 1106.41,846.24 1109.49,846.32 1112.57,846.4 1115.65,846.48 1118.73,846.55 1121.81,846.62 1124.89,846.7 1127.97,846.77 1131.05,846.84 1134.13,846.91 1137.21,846.98 1140.28,847.06 1143.36,847.13 1146.44,847.21 1149.52,847.29 1152.6,847.37 1155.68,847.45 1158.76,847.54 1161.84,847.63 1164.92,847.72 1168,847.81 1171.08,847.91 1174.16,848 1177.23,848.1 1180.31,848.19 1183.39,848.29 1186.47,848.38 1189.55,848.46 1192.63,848.55 1195.71,848.62 1198.79,848.7 1201.87,848.77 1204.95,848.83 1208.03,848.88 1211.11,848.94 1214.19,848.98 1217.26,849.02 1220.34,849.05 1223.42,849.08 1226.5,849.11 1229.58,849.13 1232.66,849.15 1235.74,849.16 1238.82,849.18 1241.9,849.19 1244.98,849.19 1248.06,849.2 1251.14,849.21 1254.21,849.21 1257.29,849.21 1260.37,849.22 1263.45,849.22 1266.53,849.22 1269.61,849.22 1272.69,849.22 1275.77,849.22 1278.85,849.22 1281.93,849.22 1285.01,849.22 1288.09,849.22 1291.16,849.22 1294.24,849.22 1297.32,849.22 1300.4,849.22 1303.48,849.22 1306.56,849.22 1309.64,849.22 1312.72,849.22 1315.8,849.22 1318.88,849.22 1321.96,849.22 1325.04,849.22 1328.12,849.22 1331.19,849.22 1334.27,849.22 1337.35,849.22 1340.43,849.22 1343.51,849.22 1346.59,849.22 1349.67,849.22 1352.75,849.22 1355.83,849.22 1358.91,849.22 1361.99,849.22 1365.07,849.22 1368.14,849.22 1371.22,849.22 1374.3,849.22 1377.38,849.22 1380.46,849.22 1383.54,849.22 1386.62,849.22 1389.7,849.22 1392.78,849.22 1395.86,849.22 1398.94,849.22 1402.02,849.22 1405.1,849.22 1408.17,849.22 1411.25,849.22 1414.33,849.22 1417.41,849.22 1420.49,849.22 1423.57,849.22 1426.65,849.22 1429.73,849.22 1432.81,849.22 1435.89,849.22 1438.97,849.22 1442.05,849.22 1445.12,849.22 1448.2,849.22 1451.28,849.22 1454.36,849.22"/>
</g>
<g fill="#000"><rect x="810.94" y="36.94" width="1.11" height="813.11"/><rect x="1484.94" y="36.94" width="1.11" height="813.11"/><rect x="810.94" y="848.94" width="675.11" height="1.11"/><rect x="810.94" y="36.94" width="675.11" height="1.11"/></g>
<path fill="#ffffff" fill-opacity="0.8" stroke="#cccccc" stroke-opacity="0.8" stroke-width="1.39" d="M1371.5 363.5L1475.5 363.5Q1478.5 363.5 1478.5 360.5L1478.5 47.5Q1478.5 44.5 1475.5 44.5L1371.5 44.5Q1368.5 44.5 1368.5 47.5L1368.5 360.5Q1368.5 363.5 1371.5 363.5Z"/>
<rect fill="none" stroke="#fc8d62" stroke-opacity="0.5" stroke-width="2.78" x="1393.5" y="72.5" width="27" height="10"/>
<rect fill="none" stroke="#8da0cb" stroke-opacity="0.5" stroke-width="2.78" x="1393.5" y="93.5" width="27" height="10"/>
<rect fill="none" stroke="#e78ac3" stroke-opacity="0.5" stroke-width="2.78" x="1393.5" y="114.5" width="27" height="10"/>
<rect fill="none" stroke="#b3b3b3" stroke-opacity="0.5" stroke-width="2.78" x="1393.5" y="135.5" width="27" height="10"/>
<rect fill="none" stroke="#a6d854" stroke-opacity="0.5" stroke-width="2.78" x="1393.5" y="156.5" width="27" height="10"/>
<rect fill="none" stroke="#e5c494" stroke-opacity="0.5" stroke-width="2.78" x="1393.5" y="177.5" width="27" height="10"/>
<rect fill="none" stroke="#8da0cb" stroke-opacity="0.5" stroke-width="2.78" x="1393.5" y="198.5" width="27" height="9"/>
<rect fill="none" stroke="#ffd92f" stroke-opacity="0.5" stroke-width="2.78" x="1393.5" y="219.5" width="27" height="9"/>
<rect fill="none" stroke="#a6d854" stroke-opacity="0.5" stroke-width="2.78" x="1393.5" y="240.5" width="27" height="9"/>
<rect fill="none" stroke="#66c2a5" stroke-opacity="0.5" stroke-width="2.78" x="1393.5" y="261.5" width="27" height="9"/>
<rect fill="none" stroke="#fc8d62" stroke-opacity="0.5" stroke-width="2.78" x="1393.5" y="282.5" width="27" height="9"/>
<rect fill="none" stroke="#ffd92f" stroke-opacity="0.5" stroke-width="2.78" x="1393.5" y="302.5" width="27" height="10"/>
<rect fill="none" stroke="#e5c494" stroke-opacity="0.5" stroke-width="2.78" x="1393.5" y="323.5" width="27" height="10"/>
<rect fill="none" stroke="#e78ac3" stroke-opacity="0.5" stroke-width="2.78" x="1393.5" y="344.5" width="27" height="10"/>
<g clip-path="url(#c2)" stroke-linejoin="miter">
<g fill="#8da0cb" fill-opacity="0.6" stroke="#000000" stroke-width="1.09"><rect x="394.5" y="1740.5" width="14" height="2"/><rect x="533.5" y="1740.5" width="14" height="2"/><rect x="547.5" y="1740.5" width="14" height="2"/><rect x="561.5" y="1740.5" width="14" height="2"/><rect x="575.5" y="1740.5" width="14" height="2"/><rect x="603.5" y="1738.5" width="14" height="4"/><rect x="617.5" y="1734.5" width="13" height="8"/><rect x="630.5" y="1732.5" width="14" height="10"/><rect x="644.5" y="1740.5" width="14" height="2"/><rect x="658.5" y="1730.5" width="14" height="12"/><rect x="672.5" y="1738.5" width="14" height="4"/><rect x="686.5" y="1730.5" width="14" height="12"/><rect x="700.5" y="1734.5" width="14" height="8"/><rect x="603.5" y="1736.5" width="14" height="2"/><rect x="658.5" y="1728.5" width="14" height="2"/><rect x="672.5" y="1736.5" width="14" height="2"/><rect x="686.5" y="1726.5" width="14" height="4"/></g>
<g fill="#ffd92f" fill-opacity="0.6" stroke="#000000" stroke-width="1.09"><rect x="436.5" y="1740.5" width="13" height="2"/><rect x="463.5" y="1740.5" width="14" height="2"/><rect x="477.5" y="1738.5" width="14" height="4"/><rect x="547.5" y="1738.5" width="14" height="2"/><rect x="589.5" y="1740.5" width="14" height="2"/><rect x="603.5" y="1732.5" width="14" height="4"/><rect x="617.5" y="1730.5" width="13" height="4"/><rect x="630.5" y="1726.5" width="14" height="6"/><rect x="644.5" y="1738.5" width="14" height="2"/><rect x="658.5" y="1726.5" width="14" height="2"/><rect x="672.5" y="1732.5" width="14" height="4"/><rect x="686.5" y="1713.5" width="14" height="13"/><rect x="700.5" y="1722.5" width="14" height="12"/></g>
<g fill="#66c2a5" fill-opacity="0.6" stroke="#000000" stroke-width="1.09"><rect x="519.5" y="1738.5" width="14" height="4"/><rect x="547.5" y="1736.5" width="14" height="2"/><rect x="561.5" y="1736.5" width="14" height="4"/><rect x="575.5" y="1738.5" width="14" height="2"/><rect x="589.5" y="1734.5" width="14" height="6"/><rect x="603.5" y="1728.5" width="14" height="4"/><rect x="617.5" y="1726.5" width="13" height="4"/><rect x="630.5" y="1715.5" width="14" height="11"/><rect x="644.5" y="1732.5" width="14" height="6"/><rect x="658.5" y="1722.5" width="14" height="4"/><rect x="672.5" y="1726.5" width="14" height="6"/><rect x="686.5" y="1697.5" width="14" height="16"/><rect x="700.5" y="1715.5" width="14" height="7"/></g>
<g fill="#fc8d62" fill-opacity="0.6" stroke="#000000" stroke-width="1.09"><rect x="338.5" y="1740.5" width="14" height="2"/><rect x="352.5" y="1740.5" width="14" height="2"/><rect x="380.5" y="1736.5" width="14" height="6"/><rect x="394.5" y="1736.5" width="14" height="4"/><rect x="408.5" y="1740.5" width="14" height="2"/><rect x="422.5" y="1740.5" width="14" height="2"/><rect x="436.5" y="1736.5" width="13" height="4"/><rect x="449.5" y="1738.5" width="14" height="4"/><rect x="463.5" y="1738.5" width="14" height="2"/><rect x="477.5" y="1734.5" width="14" height="4"/><rect x="491.5" y="1738.5" width="14" height="4"/><rect x="505.5" y="1736.5" width="14" height="6"/><rect x="533.5" y="1730.5" width="14" height="10"/><rect x="547.5" y="1728.5" width="14" height="8"/><rect x="561.5" y="1730.5" width="14" height="6"/><rect x="575.5" y="1728.5" width="14" height="10"/><rect x="589.5" y="1728.5" width="14" height="6"/><rect x="603.5" y="1724.5" width="14" height="4"/><rect x="617.5" y="1711.5" width="13" height="15"/><rect x="630.5" y="1707.5" width="14" height="8"/><rect x="644.5" y="1724.5" width="14" height="8"/><rect x="658.5" y="1713.5" width="14" height="9"/><rect x="672.5" y="1709.5" width="14" height="17"/><rect x="686.5" y="1657.5" width="14" height="40"/><rect x="700.5" y="1697.5" width="14" height="18"/><rect x="324.5" y="1738.5" width="14" height="4"/><rect x="449.5" y="1736.5" width="14" height="2"/><rect x="477.5" y="1732.5" width="14" height="2"/><rect x="491.5" y="1734.5" width="14" height="4"/><rect x="505.5" y="1734.5" width="14" height="2"/><rect x="533.5" y="1728.5" width="14" height="2"/><rect x="547.5" y="1720.5" width="14" height="8"/><rect x="561.5" y="1724.5" width="14" height="6"/><rect x="575.5" y="1722.5" width="14" height="6"/><rect x="589.5" y="1722.5" width="14" height="6"/><rect x="603.5" y="1719.5" width="14" height="5"/><rect x="617.5" y="1709.5" width="13" height="2"/><rect x="630.5" y="1697.5" width="14" height="10"/><rect x="658.5" y="1707.5" width="14" height="6"/><rect x="686.5" y="1649.5" width="14" height="8"/><rect x="700.5" y="1680.5" width="14" height="17"/></g>
<g fill="#e5c494" fill-opacity="0.6" stroke="#000000" stroke-width="1.09"><rect x="561.5" y="1722.5" width="14" height="2"/><rect x="575.5" y="1720.5" width="14" height="2"/><rect x="617.5" y="1707.5" width="13" height="2"/><rect x="658.5" y="1701.5" width="14" height="6"/><rect x="672.5" y="1705.5" width="14" height="4"/><rect x="686.5" y="1645.5" width="14" height="4"/><rect x="700.5" y="1678.5" width="14" height="2"/></g>
<g fill="#b3b3b3" fill-opacity="0.6" stroke="#000000" stroke-width="1.09"><rect x="380.5" y="1734.5" width="14" height="2"/><rect x="408.5" y="1738.5" width="14" height="2"/><rect x="422.5" y="1738.5" width="14" height="2"/><rect x="436.5" y="1734.5" width="13" height="2"/><rect x="449.5" y="1726.5" width="14" height="10"/><rect x="463.5" y="1734.5" width="14" height="4"/><rect x="477.5" y="1722.5" width="14" height="10"/><rect x="491.5" y="1728.5" width="14" height="6"/><rect x="505.5" y="1726.5" width="14" height="8"/><rect x="519.5" y="1722.5" width="14" height="16"/><rect x="533.5" y="1711.5" width="14" height="17"/><rect x="547.5" y="1697.5" width="14" height="23"/><rect x="561.5" y="1690.5" width="14" height="32"/><rect x="575.5" y="1682.5" width="14" height="38"/><rect x="589.5" y="1697.5" width="14" height="25"/><rect x="603.5" y="1668.5" width="14" height="51"/><rect x="617.5" y="1637.5" width="13" height="70"/><rect x="630.5" y="1604.5" width="14" height="93"/><rect x="644.5" y="1647.5" width="14" height="77"/><rect x="658.5" y="1603.5" width="14" height="98"/><rect x="672.5" y="1589.5" width="14" height="116"/><rect x="686.5" y="1485.5" width="14" height="160"/><rect x="700.5" y="1494.5" width="14" height="184"/></g>
<g fill="#e78ac3" fill-opacity="0.6" stroke="#000000" stroke-width="1.09"><rect x="589.5" y="1693.5" width="14" height="4"/><rect x="603.5" y="1666.5" width="14" height="2"/><rect x="617.5" y="1633.5" width="13" height="4"/><rect x="644.5" y="1639.5" width="14" height="8"/><rect x="658.5" y="1601.5" width="14" height="2"/><rect x="672.5" y="1587.5" width="14" height="2"/><rect x="686.5" y="1483.5" width="14" height="2"/></g>
<g fill="#ffd92f" fill-opacity="0.6" stroke="#000000" stroke-width="1.09"><rect x="254.5" y="1740.5" width="14" height="2"/><rect x="324.5" y="1736.5" width="14" height="2"/><rect x="394.5" y="1734.5" width="14" height="2"/><rect x="463.5" y="1732.5" width="14" height="2"/><rect x="491.5" y="1726.5" width="14" height="2"/><rect x="533.5" y="1709.5" width="14" height="2"/><rect x="547.5" y="1693.5" width="14" height="4"/><rect x="561.5" y="1688.5" width="14" height="2"/><rect x="575.5" y="1680.5" width="14" height="2"/><rect x="589.5" y="1691.5" width="14" height="2"/><rect x="603.5" y="1662.5" width="14" height="4"/><rect x="617.5" y="1630.5" width="13" height="3"/><rect x="630.5" y="1597.5" width="14" height="7"/><rect x="644.5" y="1630.5" width="14" height="9"/><rect x="658.5" y="1593.5" width="14" height="8"/><rect x="672.5" y="1572.5" width="14" height="15"/><rect x="686.5" y="1469.5" width="14" height="14"/><rect x="700.5" y="1483.5" width="14" height="11"/></g>
<g fill="#a6d854" fill-opacity="0.6" stroke="#000000" stroke-width="1.09"><rect x="338.5" y="1738.5" width="14" height="2"/><rect x="352.5" y="1736.5" width="14" height="4"/><rect x="380.5" y="1732.5" width="14" height="2"/><rect x="394.5" y="1730.5" width="14" height="4"/><rect x="408.5" y="1732.5" width="14" height="6"/><rect x="422.5" y="1734.5" width="14" height="4"/><rect x="449.5" y="1720.5" width="14" height="6"/><rect x="463.5" y="1726.5" width="14" height="6"/><rect x="477.5" y="1717.5" width="14" height="5"/><rect x="491.5" y="1713.5" width="14" height="13"/><rect x="505.5" y="1717.5" width="14" height="9"/><rect x="519.5" y="1707.5" width="14" height="15"/><rect x="533.5" y="1690.5" width="14" height="19"/><rect x="547.5" y="1678.5" width="14" height="15"/><rect x="561.5" y="1670.5" width="14" height="18"/><rect x="575.5" y="1657.5" width="14" height="23"/><rect x="589.5" y="1662.5" width="14" height="29"/><rect x="603.5" y="1630.5" width="14" height="32"/><rect x="617.5" y="1608.5" width="13" height="22"/><rect x="630.5" y="1560.5" width="14" height="37"/><rect x="644.5" y="1583.5" width="14" height="47"/><rect x="658.5" y="1543.5" width="14" height="50"/><rect x="672.5" y="1516.5" width="14" height="56"/><rect x="686.5" y="1403.5" width="14" height="66"/><rect x="700.5" y="1423.5" width="14" height="60"/><rect x="241.5" y="1738.5" width="13" height="4"/><rect x="254.5" y="1736.5" width="14" height="4"/><rect x="268.5" y="1740.5" width="14" height="2"/><rect x="282.5" y="1734.5" width="14" height="8"/><rect x="296.5" y="1740.5" width="14" height="2"/><rect x="310.5" y="1740.5" width="14" height="2"/><rect x="324.5" y="1734.5" width="14" height="2"/><rect x="338.5" y="1732.5" width="14" height="6"/><rect x="352.5" y="1730.5" width="14" height="6"/><rect x="366.5" y="1732.5" width="14" height="10"/><rect x="380.5" y="1717.5" width="14" height="15"/><rect x="394.5" y="1713.5" width="14" height="17"/><rect x="408.5" y="1719.5" width="14" height="13"/><rect x="422.5" y="1715.5" width="14" height="19"/><rect x="436.5" y="1701.5" width="13" height="33"/><rect x="449.5" y="1699.5" width="14" height="21"/><rect x="463.5" y="1703.5" width="14" height="23"/><rect x="477.5" y="1701.5" width="14" height="16"/><rect x="491.5" y="1680.5" width="14" height="33"/><rect x="505.5" y="1670.5" width="14" height="47"/><rect x="519.5" y="1643.5" width="14" height="64"/><rect x="533.5" y="1637.5" width="14" height="53"/><rect x="547.5" y="1618.5" width="14" height="60"/><rect x="561.5" y="1606.5" width="14" height="64"/><rect x="575.5" y="1597.5" width="14" height="60"/><rect x="589.5" y="1595.5" width="14" height="67"/><rect x="603.5" y="1579.5" width="14" height="51"/><rect x="617.5" y="1531.5" width="13" height="77"/><rect x="630.5" y="1488.5" width="14" height="72"/><rect x="644.5" y="1510.5" width="14" height="73"/><rect x="658.5" y="1477.5" width="14" height="66"/><rect x="672.5" y="1473.5" width="14" height="43"/><rect x="686.5" y="1357.5" width="14" height="46"/><rect x="700.5" y="1349.5" width="14" height="74"/></g>
<g fill="#e5c494" fill-opacity="0.6" stroke="#000000" stroke-width="1.09"><rect x="157.5" y="1740.5" width="14" height="2"/><rect x="185.5" y="1740.5" width="14" height="2"/><rect x="227.5" y="1740.5" width="14" height="2"/><rect x="241.5" y="1732.5" width="13" height="6"/><rect x="254.5" y="1734.5" width="14" height="2"/><rect x="268.5" y="1734.5" width="14" height="6"/><rect x="282.5" y="1728.5" width="14" height="6"/><rect x="296.5" y="1722.5" width="14" height="18"/><rect x="310.5" y="1726.5" width="14" height="14"/><rect x="324.5" y="1720.5" width="14" height="14"/><rect x="338.5" y="1720.5" width="14" height="12"/><rect x="352.5" y="1697.5" width="14" height="33"/><rect x="366.5" y="1709.5" width="14" height="23"/><rect x="380.5" y="1674.5" width="14" height="43"/><rect x="394.5" y="1643.5" width="14" height="70"/><rect x="408.5" y="1682.5" width="14" height="37"/><rect x="422.5" y="1672.5" width="14" height="43"/><rect x="436.5" y="1603.5" width="13" height="98"/><rect x="449.5" y="1599.5" width="14" height="100"/><rect x="463.5" y="1624.5" width="14" height="79"/><rect x="477.5" y="1593.5" width="14" height="108"/><rect x="491.5" y="1566.5" width="14" height="114"/><rect x="505.5" y="1517.5" width="14" height="153"/><rect x="519.5" y="1452.5" width="14" height="191"/><rect x="533.5" y="1444.5" width="14" height="193"/><rect x="547.5" y="1425.5" width="14" height="193"/><rect x="561.5" y="1305.5" width="14" height="301"/><rect x="575.5" y="1311.5" width="14" height="286"/><rect x="589.5" y="1297.5" width="14" height="298"/><rect x="603.5" y="1222.5" width="14" height="357"/><rect x="617.5" y="1177.5" width="13" height="354"/><rect x="630.5" y="1156.5" width="14" height="332"/><rect x="644.5" y="1177.5" width="14" height="333"/><rect x="658.5" y="1135.5" width="14" height="342"/><rect x="672.5" y="1206.5" width="14" height="267"/><rect x="686.5" y="1077.5" width="14" height="280"/><rect x="700.5" y="1059.5" width="14" height="290"/></g>
<g fill="#e78ac3" fill-opacity="0.6" stroke="#000000" stroke-width="1.09"><rect x="101.5" y="1740.5" width="14" height="2"/><rect x="129.5" y="1740.5" width="14" height="2"/><rect x="171.5" y="1740.5" width="14" height="2"/><rect x="185.5" y="1738.5" width="14" height="2"/><rect x="213.5" y="1740.5" width="14" height="2"/><rect x="241.5" y="1728.5" width="13" height="4"/><rect x="268.5" y="1732.5" width="14" height="2"/><rect x="282.5" y="1724.5" width="14" height="4"/><rect x="310.5" y="1724.5" width="14" height="2"/><rect x="324.5" y="1713.5" width="14" height="7"/><rect x="352.5" y="1693.5" width="14" height="4"/><rect x="366.5" y="1699.5" width="14" height="10"/><rect x="380.5" y="1662.5" width="14" height="12"/><rect x="394.5" y="1626.5" width="14" height="17"/><rect x="408.5" y="1666.5" width="14" height="16"/><rect x="422.5" y="1655.5" width="14" height="17"/><rect x="436.5" y="1585.5" width="13" height="18"/><rect x="449.5" y="1585.5" width="14" height="14"/><rect x="463.5" y="1604.5" width="14" height="20"/><rect x="477.5" y="1572.5" width="14" height="21"/><rect x="491.5" y="1543.5" width="14" height="23"/><rect x="505.5" y="1490.5" width="14" height="27"/><rect x="519.5" y="1429.5" width="14" height="23"/><rect x="533.5" y="1415.5" width="14" height="29"/><rect x="547.5" y="1369.5" width="14" height="56"/><rect x="561.5" y="1243.5" width="14" height="62"/><rect x="575.5" y="1274.5" width="14" height="37"/><rect x="589.5" y="1237.5" width="14" height="60"/><rect x="603.5" y="1164.5" width="14" height="58"/><rect x="617.5" y="1127.5" width="13" height="50"/><rect x="630.5" y="1088.5" width="14" height="68"/><rect x="644.5" y="1127.5" width="14" height="50"/><rect x="658.5" y="1077.5" width="14" height="58"/><rect x="672.5" y="1144.5" width="14" height="62"/><rect x="686.5" y="992.5" width="14" height="85"/><rect x="700.5" y="968.5" width="14" height="91"/></g>
</g>
<g fill="#b0b0b0"><rect x="120.94" y="930.5" width="1.11" height="812"/><rect x="239.94" y="930.5" width="1.11" height="812"/><rect x="357.94" y="930.5" width="1.11" height="812"/><rect x="476.94" y="930.5" width="1.11" height="812"/><rect x="594.94" y="930.5" width="1.11" height="812"/><rect x="713.94" y="930.5" width="1.11" height="812"/><rect x="71.5" y="1741.94" width="674" height="1.11"/><rect x="71.5" y="1644.94" width="674" height="1.11"/><rect x="71.5" y="1547.94" width="674" height="1.11"/><rect x="71.5" y="1451.94" width="674" height="1.11"/><rect x="71.5" y="1354.94" width="674" height="1.11"/><rect x="71.5" y="1257.94" width="674" height="1.11"/><rect x="71.5" y="1161.94" width="674" height="1.11"/><rect x="71.5" y="1064.94" width="674" height="1.11"/><rect x="71.5" y="967.94" width="674" height="1.11"/></g>
<g fill="#000"><rect x="120.94" y="1742.5" width="1.11" height="5"/><rect x="239.94" y="1742.5" width="1.11" height="5"/><rect x="357.94" y="1742.5" width="1.11" height="5"/><rect x="476.94" y="1742.5" width="1.11" height="5"/><rect x="594.94" y="1742.5" width="1.11" height="5"/><rect x="713.94" y="1742.5" width="1.11" height="5"/><rect x="66.5" y="1741.94" width="5" height="1.11"/><rect x="66.5" y="1644.94" width="5" height="1.11"/><rect x="66.5" y="1547.94" width="5" height="1.11"/><rect x="66.5" y="1451.94" width="5" height="1.11"/><rect x="66.5" y="1354.94" width="5" height="1.11"/><rect x="66.5" y="1257.94" width="5" height="1.11"/><rect x="66.5" y="1161.94" width="5" height="1.11"/><rect x="66.5" y="1064.94" width="5" height="1.11"/><rect x="66.5" y="967.94" width="5" height="1.11"/></g>
<g fill="#000"><rect x="70.94" y="929.94" width="1.11" height="813.11"/><rect x="744.94" y="929.94" width="1.11" height="813.11"/><rect x="70.94" y="1741.94" width="675.11" height="1.11"/><rect x="70.94" y="929.94" width="675.11" height="1.11"/></g>
<path fill="#ffffff" fill-opacity="0.8" stroke="#cccccc" stroke-opacity="0.8" stroke-width="1.39" d="M80.5 1255.5L184.5 1255.5Q187.5 1255.5 187.5 1252.5L187.5 940.5Q187.5 937.5 184.5 937.5L80.5 937.5Q78.5 937.5 78.5 940.5L78.5 1252.5Q78.5 1255.5 80.5 1255.5Z"/>
<rect fill="#e78ac3" fill-opacity="0.6" stroke="#000000" stroke-width="1.39" x="102.5" y="965.5" width="28" height="9"/>
<rect fill="#e5c494" fill-opacity="0.6" stroke="#000000" stroke-width="1.39" x="102.5" y="986.5" width="28" height="9"/>
<rect fill="#a6d854" fill-opacity="0.6" stroke="#000000" stroke-width="1.39" x="102.5" y="1006.5" width="28" height="10"/>
<rect fill="#a6d854" fill-opacity="0.6" stroke="#000000" stroke-width="1.39" x="102.5" y="1027.5" width="28" height="10"/>
<rect fill="#ffd92f" fill-opacity="0.6" stroke="#000000" stroke-width="1.39" x="102.5" y="1048.5" width="28" height="10"/>
<rect fill="#e78ac3" fill-opacity="0.6" stroke="#000000" stroke-width="1.39" x="102.5" y="1069.5" width="28" height="10"/>
<rect fill="#b3b3b3" fill-opacity="0.6" stroke="#000000" stroke-width="1.39" x="102.5" y="1090.5" width="28" height="10"/>
<rect fill="#e5c494" fill-opacity="0.6" stroke="#000000" stroke-width="1.39" x="102.5" y="1111.5" width="28" height="10"/>
<rect fill="#fc8d62" fill-opacity="0.6" stroke="#000000" stroke-width="1.39" x="102.5" y="1132.5" width="28" height="10"/>
<rect fill="#fc8d62" fill-opacity="0.6" stroke="#000000" stroke-width="1.39" x="102.5" y="1153.5" width="28" height="10"/>
<rect fill="#66c2a5" fill-opacity="0.6" stroke="#000000" stroke-width="1.39" x="102.5" y="1174.5" width="28" height="10"/>
<rect fill="#ffd92f" fill-opacity="0.6" stroke="#000000" stroke-width="1.39" x="102.5" y="1195.5" width="28" height="10"/>
<rect fill="#8da0cb" fill-opacity="0.6" stroke="#000000" stroke-width="1.39" x="102.5" y="1216.5" width="28" height="10"/>
<rect fill="#8da0cb" fill-opacity="0.6" stroke="#000000" stroke-width="1.39" x="102.5" y="1237.5" width="28" height="10"/>
<g clip-path="url(#c3)" stroke-linejoin="miter">
<g fill="none" stroke="#8da0cb" stroke-opacity="0.5" stroke-width="2.78"><rect x="842.5" y="1742.5" width="292" height="0.01"/><rect x="1134.5" y="1738.5" width="14" height="4"/><rect x="1148.5" y="1742.5" width="125" height="0.01"/><rect x="1273.5" y="1738.5" width="14" height="4"/><rect x="1287.5" y="1738.5" width="14" height="4"/><rect x="1301.5" y="1738.5" width="14" height="4"/><rect x="1315.5" y="1738.5" width="14" height="4"/><rect x="1329.5" y="1742.5" width="14" height="0.01"/><rect x="1343.5" y="1733.5" width="14" height="9"/><rect x="1357.5" y="1725.5" width="14" height="17"/><rect x="1371.5" y="1721.5" width="14" height="21"/><rect x="1385.5" y="1738.5" width="14" height="4"/><rect x="1399.5" y="1717.5" width="14" height="25"/><rect x="1413.5" y="1733.5" width="14" height="9"/><rect x="1427.5" y="1717.5" width="13" height="25"/><rect x="1440.5" y="1725.5" width="14" height="17"/><rect x="842.5" y="1742.5" width="501" height="0.01"/><rect x="1343.5" y="1738.5" width="14" height="4"/><rect x="1357.5" y="1742.5" width="42" height="0.01"/><rect x="1399.5" y="1738.5" width="14" height="4"/><rect x="1413.5" y="1738.5" width="14" height="4"/><rect x="1427.5" y="1733.5" width="13" height="9"/><rect x="1440.5" y="1742.5" width="14" height="0.01"/></g>
<g fill="none" stroke="#ffd92f" stroke-opacity="0.5" stroke-width="2.78"><rect x="842.5" y="1742.5" width="334" height="0.01"/><rect x="1176.5" y="1738.5" width="14" height="4"/><rect x="1190.5" y="1742.5" width="14" height="0.01"/><rect x="1204.5" y="1738.5" width="14" height="4"/><rect x="1218.5" y="1733.5" width="14" height="9"/><rect x="1232.5" y="1742.5" width="55" height="0.01"/><rect x="1287.5" y="1738.5" width="14" height="4"/><rect x="1301.5" y="1742.5" width="28" height="0.01"/><rect x="1329.5" y="1738.5" width="14" height="4"/><rect x="1343.5" y="1733.5" width="14" height="9"/><rect x="1357.5" y="1733.5" width="14" height="9"/><rect x="1371.5" y="1729.5" width="14" height="13"/><rect x="1385.5" y="1738.5" width="14" height="4"/><rect x="1399.5" y="1738.5" width="14" height="4"/><rect x="1413.5" y="1733.5" width="14" height="9"/><rect x="1427.5" y="1712.5" width="13" height="30"/><rect x="1440.5" y="1717.5" width="14" height="25"/></g>
<g fill="none" stroke="#66c2a5" stroke-opacity="0.5" stroke-width="2.78"><rect x="842.5" y="1742.5" width="417" height="0.01"/><rect x="1259.5" y="1733.5" width="14" height="9"/><rect x="1273.5" y="1742.5" width="14" height="0.01"/><rect x="1287.5" y="1738.5" width="14" height="4"/><rect x="1301.5" y="1733.5" width="14" height="9"/><rect x="1315.5" y="1738.5" width="14" height="4"/><rect x="1329.5" y="1729.5" width="14" height="13"/><rect x="1343.5" y="1733.5" width="14" height="9"/><rect x="1357.5" y="1733.5" width="14" height="9"/><rect x="1371.5" y="1717.5" width="14" height="25"/><rect x="1385.5" y="1729.5" width="14" height="13"/><rect x="1399.5" y="1733.5" width="14" height="9"/><rect x="1413.5" y="1729.5" width="14" height="13"/><rect x="1427.5" y="1708.5" width="13" height="34"/><rect x="1440.5" y="1725.5" width="14" height="17"/></g>
<g fill="none" stroke="#fc8d62" stroke-opacity="0.5" stroke-width="2.78"><rect x="842.5" y="1742.5" width="236" height="0.01"/><rect x="1078.5" y="1738.5" width="14" height="4"/><rect x="1092.5" y="1738.5" width="14" height="4"/><rect x="1106.5" y="1742.5" width="14" height="0.01"/><rect x="1120.5" y="1729.5" width="14" height="13"/><rect x="1134.5" y="1733.5" width="14" height="9"/><rect x="1148.5" y="1738.5" width="14" height="4"/><rect x="1162.5" y="1738.5" width="14" height="4"/><rect x="1176.5" y="1733.5" width="14" height="9"/><rect x="1190.5" y="1733.5" width="14" height="9"/><rect x="1204.5" y="1738.5" width="14" height="4"/><rect x="1218.5" y="1733.5" width="14" height="9"/><rect x="1232.5" y="1733.5" width="13" height="9"/><rect x="1245.5" y="1729.5" width="14" height="13"/><rect x="1259.5" y="1742.5" width="14" height="0.01"/><rect x="1273.5" y="1721.5" width="14" height="21"/><rect x="1287.5" y="1725.5" width="14" height="17"/><rect x="1301.5" y="1729.5" width="14" height="13"/><rect x="1315.5" y="1721.5" width="14" height="21"/><rect x="1329.5" y="1729.5" width="14" height="13"/><rect x="1343.5" y="1733.5" width="14" height="9"/><rect x="1357.5" y="1708.5" width="14" height="34"/><rect x="1371.5" y="1725.5" width="14" height="17"/><rect x="1385.5" y="1725.5" width="14" height="17"/><rect x="1399.5" y="1721.5" width="14" height="21"/><rect x="1413.5" y="1704.5" width="14" height="38"/><rect x="1427.5" y="1654.5" width="13" height="88"/><rect x="1440.5" y="1704.5" width="14" height="38"/><rect x="842.5" y="1742.5" width="222" height="0.01"/><rect x="1064.5" y="1733.5" width="14" height="9"/><rect x="1078.5" y="1742.5" width="112" height="0.01"/><rect x="1190.5" y="1738.5" width="14" height="4"/><rect x="1204.5" y="1742.5" width="14" height="0.01"/><rect x="1218.5" y="1738.5" width="14" height="4"/><rect x="1232.5" y="1733.5" width="13" height="9"/><rect x="1245.5" y="1738.5" width="14" height="4"/><rect x="1259.5" y="1742.5" width="14" height="0.01"/><rect x="1273.5" y="1738.5" width="14" height="4"/><rect x="1287.5" y="1725.5" width="14" height="17"/><rect x="1301.5" y="1729.5" width="14" height="13"/><rect x="1315.5" y="1729.5" width="14" height="13"/><rect x="1329.5" y="1729.5" width="14" height="13"/><rect x="1343.5" y="1729.5" width="14" height="13"/><rect x="1357.5" y="1738.5" width="14" height="4"/><rect x="1371.5" y="1721.5" width="14" height="21"/><rect x="1385.5" y="1742.5" width="14" height="0.01"/><rect x="1399.5" y="1729.5" width="14" height="13"/><rect x="1413.5" y="1742.5" width="14" height="0.01"/><rect x="1427.5" y="1725.5" width="13" height="17"/><rect x="1440.5" y="1704.5" width="14" height="38"/></g>
<g fill="none" stroke="#e5c494" stroke-opacity="0.5" stroke-width="2.78"><rect x="842.5" y="1742.5" width="459" height="0.01"/><rect x="1301.5" y="1738.5" width="14" height="4"/><rect x="1315.5" y="1738.5" width="14" height="4"/><rect x="1329.5" y="1742.5" width="28" height="0.01"/><rect x="1357.5" y="1738.5" width="14" height="4"/><rect x="1371.5" y="1742.5" width="28" height="0.01"/><rect x="1399.5" y="1729.5" width="14" height="13"/><rect x="1413.5" y="1733.5" width="14" height="9"/><rect x="1427.5" y="1733.5" width="13" height="9"/><rect x="1440.5" y="1738.5" width="14" height="4"/></g>
<g fill="none" stroke="#b3b3b3" stroke-opacity="0.5" stroke-width="2.78"><rect x="842.5" y="1742.5" width="278" height="0.01"/><rect x="1120.5" y="1738.5" width="14" height="4"/><rect x="1134.5" y="1742.5" width="14" height="0.01"/><rect x="1148.5" y="1738.5" width="14" height="4"/><rect x="1162.5" y="1738.5" width="14" height="4"/><rect x="1176.5" y="1738.5" width="14" height="4"/><rect x="1190.5" y="1721.5" width="14" height="21"/><rect x="1204.5" y="1733.5" width="14" height="9"/><rect x="1218.5" y="1721.5" width="14" height="21"/><rect x="1232.5" y="1729.5" width="13" height="13"/><rect x="1245.5" y="1725.5" width="14" height="17"/><rect x="1259.5" y="1708.5" width="14" height="34"/><rect x="1273.5" y="1704.5" width="14" height="38"/><rect x="1287.5" y="1692.5" width="14" height="50"/><rect x="1301.5" y="1671.5" width="14" height="71"/><rect x="1315.5" y="1658.5" width="14" height="84"/><rect x="1329.5" y="1687.5" width="14" height="55"/><rect x="1343.5" y="1633.5" width="14" height="109"/><rect x="1357.5" y="1591.5" width="14" height="151"/><rect x="1371.5" y="1541.5" width="14" height="201"/><rect x="1385.5" y="1575.5" width="14" height="167"/><rect x="1399.5" y="1529.5" width="14" height="213"/><rect x="1413.5" y="1491.5" width="14" height="251"/><rect x="1427.5" y="1395.5" width="13" height="347"/><rect x="1440.5" y="1345.5" width="14" height="397"/></g>
<g fill="none" stroke="#e78ac3" stroke-opacity="0.5" stroke-width="2.78"><rect x="842.5" y="1742.5" width="487" height="0.01"/><rect x="1329.5" y="1733.5" width="14" height="9"/><rect x="1343.5" y="1738.5" width="14" height="4"/><rect x="1357.5" y="1733.5" width="14" height="9"/><rect x="1371.5" y="1742.5" width="14" height="0.01"/><rect x="1385.5" y="1725.5" width="14" height="17"/><rect x="1399.5" y="1738.5" width="14" height="4"/><rect x="1413.5" y="1738.5" width="14" height="4"/><rect x="1427.5" y="1738.5" width="13" height="4"/><rect x="1440.5" y="1742.5" width="14" height="0.01"/></g>
<g fill="none" stroke="#ffd92f" stroke-opacity="0.5" stroke-width="2.78"><rect x="842.5" y="1742.5" width="153" height="0.01"/><rect x="995.5" y="1738.5" width="14" height="4"/><rect x="1009.5" y="1742.5" width="55" height="0.01"/><rect x="1064.5" y="1738.5" width="14" height="4"/><rect x="1078.5" y="1742.5" width="56" height="0.01"/><rect x="1134.5" y="1738.5" width="14" height="4"/><rect x="1148.5" y="1742.5" width="56" height="0.01"/><rect x="1204.5" y="1738.5" width="14" height="4"/><rect x="1218.5" y="1742.5" width="14" height="0.01"/><rect x="1232.5" y="1738.5" width="13" height="4"/><rect x="1245.5" y="1742.5" width="28" height="0.01"/><rect x="1273.5" y="1738.5" width="14" height="4"/><rect x="1287.5" y="1733.5" width="14" height="9"/><rect x="1301.5" y="1738.5" width="14" height="4"/><rect x="1315.5" y="1738.5" width="14" height="4"/><rect x="1329.5" y="1738.5" width="14" height="4"/><rect x="1343.5" y="1733.5" width="14" height="9"/><rect x="1357.5" y="1733.5" width="14" height="9"/><rect x="1371.5" y="1725.5" width="14" height="17"/><rect x="1385.5" y="1721.5" width="14" height="21"/><rect x="1399.5" y="1725.5" width="14" height="17"/><rect x="1413.5" y="1708.5" width="14" height="34"/><rect x="1427.5" y="1712.5" width="13" height="30"/><rect x="1440.5" y="1717.5" width="14" height="25"/></g>
<g fill="none" stroke="#a6d854" stroke-opacity="0.5" stroke-width="2.78"><rect x="842.5" y="1742.5" width="236" height="0.01"/><rect x="1078.5" y="1738.5" width="14" height="4"/><rect x="1092.5" y="1733.5" width="14" height="9"/><rect x="1106.5" y="1742.5" width="14" height="0.01"/><rect x="1120.5" y="1738.5" width="14" height="4"/><rect x="1134.5" y="1733.5" width="14" height="9"/><rect x="1148.5" y="1729.5" width="14" height="13"/><rect x="1162.5" y="1733.5" width="14" height="9"/><rect x="1176.5" y="1742.5" width="14" height="0.01"/><rect x="1190.5" y="1729.5" width="14" height="13"/><rect x="1204.5" y="1729.5" width="14" height="13"/><rect x="1218.5" y="1729.5" width="14" height="13"/><rect x="1232.5" y="1712.5" width="13" height="30"/><rect x="1245.5" y="1721.5" width="14" height="21"/><rect x="1259.5" y="1708.5" width="14" height="34"/><rect x="1273.5" y="1700.5" width="14" height="42"/><rect x="1287.5" y="1708.5" width="14" height="34"/><rect x="1301.5" y="1704.5" width="14" height="38"/><rect x="1315.5" y="1692.5" width="14" height="50"/><rect x="1329.5" y="1679.5" width="14" height="63"/><rect x="1343.5" y="1671.5" width="14" height="71"/><rect x="1357.5" y="1696.5" width="14" height="46"/><rect x="1371.5" y="1662.5" width="14" height="80"/><rect x="1385.5" y="1641.5" width="14" height="101"/><rect x="1399.5" y="1633.5" width="14" height="109"/><rect x="1413.5" y="1621.5" width="14" height="121"/><rect x="1427.5" y="1600.5" width="13" height="142"/><rect x="1440.5" y="1612.5" width="14" height="130"/><rect x="842.5" y="1742.5" width="139" height="0.01"/><rect x="981.5" y="1733.5" width="14" height="9"/><rect x="995.5" y="1733.5" width="14" height="9"/><rect x="1009.5" y="1738.5" width="14" height="4"/><rect x="1023.5" y="1725.5" width="14" height="17"/><rect x="1037.5" y="1738.5" width="13" height="4"/><rect x="1050.5" y="1738.5" width="14" height="4"/><rect x="1064.5" y="1738.5" width="14" height="4"/><rect x="1078.5" y="1729.5" width="14" height="13"/><rect x="1092.5" y="1729.5" width="14" height="13"/><rect x="1106.5" y="1721.5" width="14" height="21"/><rect x="1120.5" y="1708.5" width="14" height="34"/><rect x="1134.5" y="1704.5" width="14" height="38"/><rect x="1148.5" y="1712.5" width="14" height="30"/><rect x="1162.5" y="1700.5" width="14" height="42"/><rect x="1176.5" y="1671.5" width="14" height="71"/><rect x="1190.5" y="1696.5" width="14" height="46"/><rect x="1204.5" y="1692.5" width="14" height="50"/><rect x="1218.5" y="1708.5" width="14" height="34"/><rect x="1232.5" y="1671.5" width="13" height="71"/><rect x="1245.5" y="1641.5" width="14" height="101"/><rect x="1259.5" y="1604.5" width="14" height="138"/><rect x="1273.5" y="1629.5" width="14" height="113"/><rect x="1287.5" y="1612.5" width="14" height="130"/><rect x="1301.5" y="1604.5" width="14" height="138"/><rect x="1315.5" y="1612.5" width="14" height="130"/><rect x="1329.5" y="1595.5" width="14" height="147"/><rect x="1343.5" y="1633.5" width="14" height="109"/><rect x="1357.5" y="1575.5" width="14" height="167"/><rect x="1371.5" y="1587.5" width="14" height="155"/><rect x="1385.5" y="1583.5" width="14" height="159"/><rect x="1399.5" y="1600.5" width="14" height="142"/><rect x="1413.5" y="1650.5" width="14" height="92"/><rect x="1427.5" y="1641.5" width="13" height="101"/><rect x="1440.5" y="1583.5" width="14" height="159"/></g>
<g fill="none" stroke="#e5c494" stroke-opacity="0.5" stroke-width="2.78"><rect x="842.5" y="1742.5" width="55" height="0.01"/><rect x="897.5" y="1738.5" width="14" height="4"/><rect x="911.5" y="1742.5" width="14" height="0.01"/><rect x="925.5" y="1738.5" width="14" height="4"/><rect x="939.5" y="1742.5" width="28" height="0.01"/><rect x="967.5" y="1738.5" width="14" height="4"/><rect x="981.5" y="1729.5" width="14" height="13"/><rect x="995.5" y="1738.5" width="14" height="4"/><rect x="1009.5" y="1729.5" width="14" height="13"/><rect x="1023.5" y="1729.5" width="14" height="13"/><rect x="1037.5" y="1704.5" width="13" height="38"/><rect x="1050.5" y="1712.5" width="14" height="30"/><rect x="1064.5" y="1712.5" width="14" height="30"/><rect x="1078.5" y="1717.5" width="14" height="25"/><rect x="1092.5" y="1671.5" width="14" height="71"/><rect x="1106.5" y="1692.5" width="14" height="50"/><rect x="1120.5" y="1650.5" width="14" height="92"/><rect x="1134.5" y="1591.5" width="14" height="151"/><rect x="1148.5" y="1662.5" width="14" height="80"/><rect x="1162.5" y="1650.5" width="14" height="92"/><rect x="1176.5" y="1529.5" width="14" height="213"/><rect x="1190.5" y="1524.5" width="14" height="218"/><rect x="1204.5" y="1570.5" width="14" height="172"/><rect x="1218.5" y="1508.5" width="14" height="234"/><rect x="1232.5" y="1495.5" width="13" height="247"/><rect x="1245.5" y="1412.5" width="14" height="330"/><rect x="1259.5" y="1328.5" width="14" height="414"/><rect x="1273.5" y="1324.5" width="14" height="418"/><rect x="1287.5" y="1324.5" width="14" height="418"/><rect x="1301.5" y="1090.5" width="14" height="652"/><rect x="1315.5" y="1123.5" width="14" height="619"/><rect x="1329.5" y="1098.5" width="14" height="644"/><rect x="1343.5" y="968.5" width="14" height="774"/><rect x="1357.5" y="977.5" width="14" height="765"/><rect x="1371.5" y="1023.5" width="14" height="719"/><rect x="1385.5" y="1023.5" width="14" height="719"/><rect x="1399.5" y="1002.5" width="14" height="740"/><rect x="1413.5" y="1165.5" width="14" height="577"/><rect x="1427.5" y="1136.5" width="13" height="606"/><rect x="1440.5" y="1115.5" width="14" height="627"/></g>
<g fill="none" stroke="#e78ac3" stroke-opacity="0.5" stroke-width="2.78"><rect x="842.5" y="1738.5" width="14" height="4"/><rect x="856.5" y="1742.5" width="13" height="0.01"/><rect x="869.5" y="1738.5" width="14" height="4"/><rect x="883.5" y="1742.5" width="28" height="0.01"/><rect x="911.5" y="1738.5" width="14" height="4"/><rect x="925.5" y="1738.5" width="14" height="4"/><rect x="939.5" y="1742.5" width="14" height="0.01"/><rect x="953.5" y="1738.5" width="14" height="4"/><rect x="967.5" y="1742.5" width="14" height="0.01"/><rect x="981.5" y="1733.5" width="14" height="9"/><rect x="995.5" y="1742.5" width="14" height="0.01"/><rect x="1009.5" y="1738.5" width="14" height="4"/><rect x="1023.5" y="1733.5" width="14" height="9"/><rect x="1037.5" y="1742.5" width="13" height="0.01"/><rect x="1050.5" y="1738.5" width="14" height="4"/><rect x="1064.5" y="1725.5" width="14" height="17"/><rect x="1078.5" y="1742.5" width="14" height="0.01"/><rect x="1092.5" y="1733.5" width="14" height="9"/><rect x="1106.5" y="1721.5" width="14" height="21"/><rect x="1120.5" y="1717.5" width="14" height="25"/><rect x="1134.5" y="1704.5" width="14" height="38"/><rect x="1148.5" y="1708.5" width="14" height="34"/><rect x="1162.5" y="1704.5" width="14" height="38"/><rect x="1176.5" y="1704.5" width="14" height="38"/><rect x="1190.5" y="1712.5" width="14" height="30"/><rect x="1204.5" y="1700.5" width="14" height="42"/><rect x="1218.5" y="1696.5" width="14" height="46"/><rect x="1232.5" y="1692.5" width="13" height="50"/><rect x="1245.5" y="1683.5" width="14" height="59"/><rect x="1259.5" y="1692.5" width="14" height="50"/><rect x="1273.5" y="1679.5" width="14" height="63"/><rect x="1287.5" y="1621.5" width="14" height="121"/><rect x="1301.5" y="1608.5" width="14" height="134"/><rect x="1315.5" y="1662.5" width="14" height="80"/><rect x="1329.5" y="1612.5" width="14" height="130"/><rect x="1343.5" y="1616.5" width="14" height="126"/><rect x="1357.5" y="1633.5" width="14" height="109"/><rect x="1371.5" y="1595.5" width="14" height="147"/><rect x="1385.5" y="1633.5" width="14" height="109"/><rect x="1399.5" y="1616.5" width="14" height="126"/><rect x="1413.5" y="1608.5" width="14" height="134"/><rect x="1427.5" y="1558.5" width="13" height="184"/><rect x="1440.5" y="1545.5" width="14" height="197"/></g>
</g>
<g fill="#b0b0b0"><rect x="860.94" y="930.5" width="1.11" height="812"/><rect x="979.94" y="930.5" width="1.11" height="812"/><rect x="1097.94" y="930.5" width="1.11" height="812"/><rect x="1216.94" y="930.5" width="1.11" height="812"/><rect x="1335.94" y="930.5" width="1.11" height="812"/><rect x="1453.94" y="930.5" width="1.11" height="812"/><rect x="811.5" y="1741.94" width="674" height="1.11"/><rect x="811.5" y="1621.94" width="674" height="1.11"/><rect x="811.5" y="1502.94" width="674" height="1.11"/><rect x="811.5" y="1383.94" width="674" height="1.11"/><rect x="811.5" y="1264.94" width="674" height="1.11"/><rect x="811.5" y="1144.94" width="674" height="1.11"/><rect x="811.5" y="1025.94" width="674" height="1.11"/></g>
<g fill="#000"><rect x="860.94" y="1742.5" width="1.11" height="5"/><rect x="979.94" y="1742.5" width="1.11" height="5"/><rect x="1097.94" y="1742.5" width="1.11" height="5"/><rect x="1216.94" y="1742.5" width="1.11" height="5"/><rect x="1335.94" y="1742.5" width="1.11" height="5"/><rect x="1453.94" y="1742.5" width="1.11" height="5"/><rect x="806.5" y="1741.94" width="5" height="1.11"/><rect x="806.5" y="1621.94" width="5" height="1.11"/><rect x="806.5" y="1502.94" width="5" height="1.11"/><rect x="806.5" y="1383.94" width="5" height="1.11"/><rect x="806.5" y="1264.94" width="5" height="1.11"/><rect x="806.5" y="1144.94" width="5" height="1.11"/><rect x="806.5" y="1025.94" width="5" height="1.11"/></g>
<g clip-path="url(#c3)" fill="none" stroke-width="2.08" stroke-linejoin="round" stroke-linecap="butt">
<polyline stroke="#8da0cb" points="841.6,1741.72 844.68,1741.72 847.76,1741.72 850.84,1741.72 853.92,1741.72 857,1741.72 860.08,1741.72 863.16,1741.72 866.24,1741.72 869.32,1741.72 872.4,1741.72 875.47,1741.72 878.55,1741.72 881.63,1741.72 884.71,1741.72 887.79,1741.72 890.87,1741.72 893.95,1741.72 897.03,1741.72 900.11,1741.72 903.19,1741.72 906.27,1741.72 909.35,1741.72 912.42,1741.72 915.5,1741.72 918.58,1741.72 921.66,1741.72 924.74,1741.72 927.82,1741.72 930.9,1741.72 933.98,1741.72 937.06,1741.72 940.14,1741.72 943.22,1741.72 946.3,1741.72 949.37,1741.72 952.45,1741.72 955.53,1741.72 958.61,1741.72 961.69,1741.72 964.77,1741.72 967.85,1741.72 970.93,1741.72 974.01,1741.72 977.09,1741.72 980.17,1741.72 983.25,1741.72 986.33,1741.72 989.4,1741.72 992.48,1741.72 995.56,1741.72 998.64,1741.72 1001.72,1741.72 1004.8,1741.72 1007.88,1741.72 1010.96,1741.72 1014.04,1741.72 1017.12,1741.72 1020.2,1741.72 1023.28,1741.72 1026.35,1741.72 1029.43,1741.72 1032.51,1741.72 1035.59,1741.72 1038.67,1741.72 1041.75,1741.72 1044.83,1741.72 1047.91,1741.72 1050.99,1741.71 1054.07,1741.71 1057.15,1741.71 1060.23,1741.7 1063.3,1741.69 1066.38,1741.69 1069.46,1741.68 1072.54,1741.66 1075.62,1741.65 1078.7,1741.63 1081.78,1741.61 1084.86,1741.59 1087.94,1741.56 1091.02,1741.53 1094.1,1741.49 1097.18,1741.45 1100.26,1741.41 1103.33,1741.37 1106.41,1741.32 1109.49,1741.28 1112.57,1741.23 1115.65,1741.18 1118.73,1741.14 1121.81,1741.09 1124.89,1741.05 1127.97,1741.02 1131.05,1740.99 1134.13,1740.97 1137.21,1740.96 1140.28,1740.95 1143.36,1740.95 1146.44,1740.96 1149.52,1740.98 1152.6,1741.01 1155.68,1741.04 1158.76,1741.07 1161.84,1741.12 1164.92,1741.16 1168,1741.21 1171.08,1741.25 1174.16,1741.3 1177.23,1741.35 1180.31,1741.39 1183.39,1741.43 1186.47,1741.47 1189.55,1741.5 1192.63,1741.53 1195.71,1741.55 1198.79,1741.57 1201.87,1741.59 1204.95,1741.59 1208.03,1741.6 1211.11,1741.59 1214.19,1741.58 1217.26,1741.56 1220.34,1741.54 1223.42,1741.51 1226.5,1741.46 1229.58,1741.41 1232.66,1741.35 1235.74,1741.28 1238.82,1741.2 1241.9,1741.11 1244.98,1741.01 1248.06,1740.9 1251.14,1740.77 1254.21,1740.64 1257.29,1740.5 1260.37,1740.35 1263.45,1740.19 1266.53,1740.03 1269.61,1739.86 1272.69,1739.69 1275.77,1739.51 1278.85,1739.34 1281.93,1739.16 1285.01,1738.99 1288.09,1738.81 1291.16,1738.64 1294.24,1738.46 1297.32,1738.28 1300.4,1738.09 1303.48,1737.89 1306.56,1737.69 1309.64,1737.47 1312.72,1737.23 1315.8,1736.97 1318.88,1736.7 1321.96,1736.39 1325.04,1736.06 1328.12,1735.71 1331.19,1735.33 1334.27,1734.92 1337.35,1734.49 1340.43,1734.04 1343.51,1733.57 1346.59,1733.09 1349.67,1732.6 1352.75,1732.1 1355.83,1731.61 1358.91,1731.12 1361.99,1730.65 1365.07,1730.2 1368.14,1729.76 1371.22,1729.35 1374.3,1728.96 1377.38,1728.6 1380.46,1728.28 1383.54,1727.98 1386.62,1727.72 1389.7,1727.49 1392.78,1727.29 1395.86,1727.13 1398.94,1727 1402.02,1726.92 1405.1,1726.87 1408.17,1726.87 1411.25,1726.91 1414.33,1727 1417.41,1727.13 1420.49,1727.32 1423.57,1727.57 1426.65,1727.87 1429.73,1728.23 1432.81,1728.64 1435.89,1729.11 1438.97,1729.62 1442.05,1730.19 1445.12,1730.79 1448.2,1731.43 1451.28,1732.09 1454.36,1732.78"/>
<polyline stroke="#8da0cb" points="841.6,1741.72 844.68,1741.72 847.76,1741.72 850.84,1741.72 853.92,1741.72 857,1741.72 860.08,1741.72 863.16,1741.72 866.24,1741.72 869.32,1741.72 872.4,1741.72 875.47,1741.72 878.55,1741.72 881.63,1741.72 884.71,1741.72 887.79,1741.72 890.87,1741.72 893.95,1741.72 897.03,1741.72 900.11,1741.72 903.19,1741.72 906.27,1741.72 909.35,1741.72 912.42,1741.72 915.5,1741.72 918.58,1741.72 921.66,1741.72 924.74,1741.72 927.82,1741.72 930.9,1741.72 933.98,1741.72 937.06,1741.72 940.14,1741.72 943.22,1741.72 946.3,1741.72 949.37,1741.72 952.45,1741.72 955.53,1741.72 958.61,1741.72 961.69,1741.72 964.77,1741.72 967.85,1741.72 970.93,1741.72 974.01,1741.72 977.09,1741.72 980.17,1741.72 983.25,1741.72 986.33,1741.72 989.4,1741.72 992.48,1741.72 995.56,1741.72 998.64,1741.72 1001.72,1741.72 1004.8,1741.72 1007.88,1741.72 1010.96,1741.72 1014.04,1741.72 1017.12,1741.72 1020.2,1741.72 1023.28,1741.72 1026.35,1741.72 1029.43,1741.72 1032.51,1741.72 1035.59,1741.72 1038.67,1741.72 1041.75,1741.72 1044.83,1741.72 1047.91,1741.72 1050.99,1741.72 1054.07,1741.72 1057.15,1741.72 1060.23,1741.72 1063.3,1741.72 1066.38,1741.72 1069.46,1741.72 1072.54,1741.72 1075.62,1741.72 1078.7,1741.72 1081.78,1741.72 1084.86,1741.72 1087.94,1741.72 1091.02,1741.72 1094.1,1741.72 1097.18,1741.72 1100.26,1741.72 1103.33,1741.72 1106.41,1741.72 1109.49,1741.72 1112.57,1741.72 1115.65,1741.72 1118.73,1741.72 1121.81,1741.72 1124.89,1741.72 1127.97,1741.72 1131.05,1741.72 1134.13,1741.72 1137.21,1741.72 1140.28,1741.72 1143.36,1741.72 1146.44,1741.72 1149.52,1741.72 1152.6,1741.72 1155.68,1741.72 1158.76,1741.72 1161.84,1741.72 1164.92,1741.72 1168,1741.72 1171.08,1741.72 1174.16,1741.72 1177.23,1741.72 1180.31,1741.72 1183.39,1741.72 1186.47,1741.72 1189.55,1741.72 1192.63,1741.72 1195.71,1741.72 1198.79,1741.72 1201.87,1741.72 1204.95,1741.72 1208.03,1741.72 1211.11,1741.72 1214.19,1741.72 1217.26,1741.72 1220.34,1741.72 1223.42,1741.72 1226.5,1741.72 1229.58,1741.72 1232.66,1741.72 1235.74,1741.72 1238.82,1741.72 1241.9,1741.72 1244.98,1741.72 1248.06,1741.72 1251.14,1741.72 1254.21,1741.72 1257.29,1741.72 1260.37,1741.72 1263.45,1741.72 1266.53,1741.72 1269.61,1741.72 1272.69,1741.71 1275.77,1741.71 1278.85,1741.7 1281.93,1741.7 1285.01,1741.69 1288.09,1741.68 1291.16,1741.66 1294.24,1741.64 1297.32,1741.62 1300.4,1741.59 1303.48,1741.55 1306.56,1741.51 1309.64,1741.46 1312.72,1741.41 1315.8,1741.35 1318.88,1741.29 1321.96,1741.22 1325.04,1741.15 1328.12,1741.08 1331.19,1741.01 1334.27,1740.94 1337.35,1740.88 1340.43,1740.82 1343.51,1740.77 1346.59,1740.73 1349.67,1740.69 1352.75,1740.67 1355.83,1740.64 1358.91,1740.62 1361.99,1740.59 1365.07,1740.56 1368.14,1740.53 1371.22,1740.48 1374.3,1740.41 1377.38,1740.33 1380.46,1740.24 1383.54,1740.12 1386.62,1739.98 1389.7,1739.83 1392.78,1739.66 1395.86,1739.49 1398.94,1739.31 1402.02,1739.13 1405.1,1738.96 1408.17,1738.8 1411.25,1738.66 1414.33,1738.54 1417.41,1738.46 1420.49,1738.41 1423.57,1738.39 1426.65,1738.42 1429.73,1738.48 1432.81,1738.58 1435.89,1738.71 1438.97,1738.87 1442.05,1739.05 1445.12,1739.26 1448.2,1739.47 1451.28,1739.7 1454.36,1739.92"/>
<polyline stroke="#ffd92f" points="841.6,1741.72 844.68,1741.72 847.76,1741.72 850.84,1741.72 853.92,1741.72 857,1741.72 860.08,1741.72 863.16,1741.72 866.24,1741.72 869.32,1741.72 872.4,1741.72 875.47,1741.72 878.55,1741.72 881.63,1741.72 884.71,1741.72 887.79,1741.72 890.87,1741.72 893.95,1741.72 897.03,1741.72 900.11,1741.72 903.19,1741.72 906.27,1741.72 909.35,1741.72 912.42,1741.72 915.5,1741.72 918.58,1741.72 921.66,1741.72 924.74,1741.72 927.82,1741.72 930.9,1741.72 933.98,1741.72 937.06,1741.72 940.14,1741.72 943.22,1741.72 946.3,1741.72 949.37,1741.72 952.45,1741.72 955.53,1741.72 958.61,1741.72 961.69,1741.72 964.77,1741.72 967.85,1741.72 970.93,1741.72 974.01,1741.72 977.09,1741.72 980.17,1741.72 983.25,1741.72 986.33,1741.72 989.4,1741.72 992.48,1741.72 995.56,1741.72 998.64,1741.72 1001.72,1741.72 1004.8,1741.72 1007.88,1741.72 1010.96,1741.72 1014.04,1741.72 1017.12,1741.72 1020.2,1741.72 1023.28,1741.72 1026.35,1741.72 1029.43,1741.72 1032.51,1741.72 1035.59,1741.72 1038.67,1741.72 1041.75,1741.72 1044.83,1741.72 1047.91,1741.72 1050.99,1741.72 1054.07,1741.72 1057.15,1741.72 1060.23,1741.72 1063.3,1741.71 1066.38,1741.71 1069.46,1741.71 1072.54,1741.71 1075.62,1741.7 1078.7,1741.7 1081.78,1741.69 1084.86,1741.69 1087.94,1741.68 1091.02,1741.67 1094.1,1741.66 1097.18,1741.65 1100.26,1741.63 1103.33,1741.62 1106.41,1741.6 1109.49,1741.57 1112.57,1741.55 1115.65,1741.52 1118.73,1741.49 1121.81,1741.45 1124.89,1741.41 1127.97,1741.37 1131.05,1741.32 1134.13,1741.26 1137.21,1741.21 1140.28,1741.14 1143.36,1741.08 1146.44,1741.01 1149.52,1740.93 1152.6,1740.85 1155.68,1740.77 1158.76,1740.69 1161.84,1740.6 1164.92,1740.51 1168,1740.42 1171.08,1740.33 1174.16,1740.24 1177.23,1740.15 1180.31,1740.06 1183.39,1739.98 1186.47,1739.9 1189.55,1739.83 1192.63,1739.76 1195.71,1739.7 1198.79,1739.65 1201.87,1739.6 1204.95,1739.56 1208.03,1739.53 1211.11,1739.51 1214.19,1739.5 1217.26,1739.5 1220.34,1739.5 1223.42,1739.52 1226.5,1739.54 1229.58,1739.56 1232.66,1739.6 1235.74,1739.63 1238.82,1739.67 1241.9,1739.71 1244.98,1739.75 1248.06,1739.8 1251.14,1739.83 1254.21,1739.87 1257.29,1739.9 1260.37,1739.92 1263.45,1739.94 1266.53,1739.95 1269.61,1739.95 1272.69,1739.94 1275.77,1739.92 1278.85,1739.88 1281.93,1739.84 1285.01,1739.78 1288.09,1739.71 1291.16,1739.62 1294.24,1739.52 1297.32,1739.41 1300.4,1739.28 1303.48,1739.14 1306.56,1738.99 1309.64,1738.82 1312.72,1738.64 1315.8,1738.45 1318.88,1738.26 1321.96,1738.05 1325.04,1737.83 1328.12,1737.61 1331.19,1737.37 1334.27,1737.14 1337.35,1736.9 1340.43,1736.65 1343.51,1736.4 1346.59,1736.15 1349.67,1735.89 1352.75,1735.64 1355.83,1735.38 1358.91,1735.13 1361.99,1734.87 1365.07,1734.62 1368.14,1734.37 1371.22,1734.12 1374.3,1733.87 1377.38,1733.62 1380.46,1733.37 1383.54,1733.14 1386.62,1732.9 1389.7,1732.67 1392.78,1732.45 1395.86,1732.24 1398.94,1732.05 1402.02,1731.86 1405.1,1731.7 1408.17,1731.55 1411.25,1731.43 1414.33,1731.33 1417.41,1731.26 1420.49,1731.21 1423.57,1731.21 1426.65,1731.23 1429.73,1731.29 1432.81,1731.39 1435.89,1731.53 1438.97,1731.7 1442.05,1731.91 1445.12,1732.16 1448.2,1732.44 1451.28,1732.75 1454.36,1733.09"/>
<polyline stroke="#66c2a5" points="841.6,1741.72 844.68,1741.72 847.76,1741.72 850.84,1741.72 853.92,1741.72 857,1741.72 860.08,1741.72 863.16,1741.72 866.24,1741.72 869.32,1741.72 872.4,1741.72 875.47,1741.72 878.55,1741.72 881.63,1741.72 884.71,1741.72 887.79,1741.72 890.87,1741.72 893.95,1741.72 897.03,1741.72 900.11,1741.72 903.19,1741.72 906.27,1741.72 909.35,1741.72 912.42,1741.72 915.5,1741.72 918.58,1741.72 921.66,1741.72 924.74,1741.72 927.82,1741.72 930.9,1741.72 933.98,1741.72 937.06,1741.72 940.14,1741.72 943.22,1741.72 946.3,1741.72 949.37,1741.72 952.45,1741.72 955.53,1741.72 958.61,1741.72 961.69,1741.72 964.77,1741.72 967.85,1741.72 970.93,1741.72 974.01,1741.72 977.09,1741.72 980.17,1741.72 983.25,1741.72 986.33,1741.72 989.4,1741.72 992.48,1741.72 995.56,1741.72 998.64,1741.72 1001.72,1741.72 1004.8,1741.72 1007.88,1741.72 1010.96,1741.72 1014.04,1741.72 1017.12,1741.72 1020.2,1741.72 1023.28,1741.72 1026.35,1741.72 1029.43,1741.72 1032.51,1741.72 1035.59,1741.72 1038.67,1741.72 1041.75,1741.72 1044.83,1741.72 1047.91,1741.72 1050.99,1741.72 1054.07,1741.72 1057.15,1741.72 1060.23,1741.72 1063.3,1741.72 1066.38,1741.72 1069.46,1741.72 1072.54,1741.72 1075.62,1741.72 1078.7,1741.72 1081.78,1741.72 1084.86,1741.72 1087.94,1741.72 1091.02,1741.72 1094.1,1741.72 1097.18,1741.72 1100.26,1741.72 1103.33,1741.72 1106.41,1741.72 1109.49,1741.72 1112.57,1741.72 1115.65,1741.72 1118.73,1741.72 1121.81,1741.72 1124.89,1741.72 1127.97,1741.72 1131.05,1741.72 1134.13,1741.72 1137.21,1741.72 1140.28,1741.72 1143.36,1741.72 1146.44,1741.72 1149.52,1741.72 1152.6,1741.72 1155.68,1741.72 1158.76,1741.72 1161.84,1741.72 1164.92,1741.72 1168,1741.72 1171.08,1741.72 1174.16,1741.72 1177.23,1741.72 1180.31,1741.72 1183.39,1741.71 1186.47,1741.71 1189.55,1741.7 1192.63,1741.7 1195.71,1741.69 1198.79,1741.67 1201.87,1741.65 1204.95,1741.63 1208.03,1741.59 1211.11,1741.55 1214.19,1741.5 1217.26,1741.43 1220.34,1741.36 1223.42,1741.27 1226.5,1741.16 1229.58,1741.04 1232.66,1740.9 1235.74,1740.75 1238.82,1740.58 1241.9,1740.4 1244.98,1740.21 1248.06,1740.01 1251.14,1739.81 1254.21,1739.6 1257.29,1739.39 1260.37,1739.17 1263.45,1738.96 1266.53,1738.75 1269.61,1738.55 1272.69,1738.34 1275.77,1738.13 1278.85,1737.92 1281.93,1737.71 1285.01,1737.49 1288.09,1737.26 1291.16,1737.02 1294.24,1736.78 1297.32,1736.53 1300.4,1736.26 1303.48,1735.99 1306.56,1735.7 1309.64,1735.41 1312.72,1735.11 1315.8,1734.8 1318.88,1734.49 1321.96,1734.17 1325.04,1733.84 1328.12,1733.5 1331.19,1733.16 1334.27,1732.81 1337.35,1732.45 1340.43,1732.08 1343.51,1731.71 1346.59,1731.33 1349.67,1730.95 1352.75,1730.57 1355.83,1730.19 1358.91,1729.82 1361.99,1729.47 1365.07,1729.13 1368.14,1728.81 1371.22,1728.53 1374.3,1728.26 1377.38,1728.03 1380.46,1727.82 1383.54,1727.63 1386.62,1727.46 1389.7,1727.31 1392.78,1727.16 1395.86,1727 1398.94,1726.85 1402.02,1726.69 1405.1,1726.53 1408.17,1726.37 1411.25,1726.22 1414.33,1726.08 1417.41,1725.98 1420.49,1725.93 1423.57,1725.95 1426.65,1726.05 1429.73,1726.24 1432.81,1726.53 1435.89,1726.93 1438.97,1727.45 1442.05,1728.07 1445.12,1728.8 1448.2,1729.61 1451.28,1730.49 1454.36,1731.42"/>
<polyline stroke="#fc8d62" points="841.6,1741.72 844.68,1741.72 847.76,1741.72 850.84,1741.72 853.92,1741.72 857,1741.72 860.08,1741.72 863.16,1741.72 866.24,1741.72 869.32,1741.72 872.4,1741.72 875.47,1741.72 878.55,1741.72 881.63,1741.72 884.71,1741.72 887.79,1741.72 890.87,1741.72 893.95,1741.72 897.03,1741.72 900.11,1741.72 903.19,1741.72 906.27,1741.72 909.35,1741.72 912.42,1741.72 915.5,1741.72 918.58,1741.72 921.66,1741.72 924.74,1741.72 927.82,1741.72 930.9,1741.72 933.98,1741.72 937.06,1741.72 940.14,1741.72 943.22,1741.72 946.3,1741.72 949.37,1741.72 952.45,1741.72 955.53,1741.72 958.61,1741.72 961.69,1741.72 964.77,1741.72 967.85,1741.71 970.93,1741.71 974.01,1741.71 977.09,1741.7 980.17,1741.7 983.25,1741.69 986.33,1741.69 989.4,1741.68 992.48,1741.67 995.56,1741.65 998.64,1741.64 1001.72,1741.62 1004.8,1741.6 1007.88,1741.58 1010.96,1741.55 1014.04,1741.52 1017.12,1741.48 1020.2,1741.44 1023.28,1741.39 1026.35,1741.34 1029.43,1741.28 1032.51,1741.21 1035.59,1741.14 1038.67,1741.06 1041.75,1740.97 1044.83,1740.87 1047.91,1740.77 1050.99,1740.66 1054.07,1740.53 1057.15,1740.4 1060.23,1740.26 1063.3,1740.12 1066.38,1739.96 1069.46,1739.8 1072.54,1739.63 1075.62,1739.45 1078.7,1739.27 1081.78,1739.09 1084.86,1738.9 1087.94,1738.7 1091.02,1738.51 1094.1,1738.31 1097.18,1738.12 1100.26,1737.92 1103.33,1737.73 1106.41,1737.54 1109.49,1737.36 1112.57,1737.18 1115.65,1737 1118.73,1736.83 1121.81,1736.67 1124.89,1736.52 1127.97,1736.38 1131.05,1736.24 1134.13,1736.12 1137.21,1736 1140.28,1735.89 1143.36,1735.79 1146.44,1735.69 1149.52,1735.6 1152.6,1735.52 1155.68,1735.45 1158.76,1735.37 1161.84,1735.31 1164.92,1735.24 1168,1735.18 1171.08,1735.12 1174.16,1735.05 1177.23,1734.99 1180.31,1734.93 1183.39,1734.86 1186.47,1734.79 1189.55,1734.72 1192.63,1734.64 1195.71,1734.55 1198.79,1734.46 1201.87,1734.37 1204.95,1734.26 1208.03,1734.15 1211.11,1734.04 1214.19,1733.91 1217.26,1733.77 1220.34,1733.63 1223.42,1733.47 1226.5,1733.31 1229.58,1733.13 1232.66,1732.95 1235.74,1732.75 1238.82,1732.55 1241.9,1732.33 1244.98,1732.11 1248.06,1731.88 1251.14,1731.64 1254.21,1731.39 1257.29,1731.14 1260.37,1730.88 1263.45,1730.61 1266.53,1730.34 1269.61,1730.07 1272.69,1729.79 1275.77,1729.52 1278.85,1729.24 1281.93,1728.97 1285.01,1728.7 1288.09,1728.43 1291.16,1728.16 1294.24,1727.9 1297.32,1727.64 1300.4,1727.38 1303.48,1727.13 1306.56,1726.87 1309.64,1726.62 1312.72,1726.37 1315.8,1726.11 1318.88,1725.85 1321.96,1725.59 1325.04,1725.32 1328.12,1725.04 1331.19,1724.75 1334.27,1724.44 1337.35,1724.13 1340.43,1723.79 1343.51,1723.43 1346.59,1723.06 1349.67,1722.66 1352.75,1722.24 1355.83,1721.79 1358.91,1721.32 1361.99,1720.82 1365.07,1720.3 1368.14,1719.76 1371.22,1719.2 1374.3,1718.62 1377.38,1718.03 1380.46,1717.43 1383.54,1716.82 1386.62,1716.22 1389.7,1715.64 1392.78,1715.07 1395.86,1714.53 1398.94,1714.02 1402.02,1713.56 1405.1,1713.16 1408.17,1712.83 1411.25,1712.57 1414.33,1712.39 1417.41,1712.31 1420.49,1712.32 1423.57,1712.44 1426.65,1712.67 1429.73,1713 1432.81,1713.45 1435.89,1714.01 1438.97,1714.67 1442.05,1715.43 1445.12,1716.29 1448.2,1717.23 1451.28,1718.25 1454.36,1719.34"/>
<polyline stroke="#fc8d62" points="841.6,1741.72 844.68,1741.72 847.76,1741.72 850.84,1741.72 853.92,1741.72 857,1741.72 860.08,1741.72 863.16,1741.72 866.24,1741.72 869.32,1741.72 872.4,1741.72 875.47,1741.72 878.55,1741.72 881.63,1741.72 884.71,1741.72 887.79,1741.72 890.87,1741.72 893.95,1741.72 897.03,1741.72 900.11,1741.72 903.19,1741.72 906.27,1741.72 909.35,1741.72 912.42,1741.72 915.5,1741.72 918.58,1741.72 921.66,1741.72 924.74,1741.72 927.82,1741.72 930.9,1741.72 933.98,1741.72 937.06,1741.71 940.14,1741.71 943.22,1741.71 946.3,1741.71 949.37,1741.7 952.45,1741.7 955.53,1741.69 958.61,1741.69 961.69,1741.68 964.77,1741.67 967.85,1741.66 970.93,1741.65 974.01,1741.64 977.09,1741.63 980.17,1741.61 983.25,1741.59 986.33,1741.57 989.4,1741.55 992.48,1741.52 995.56,1741.49 998.64,1741.46 1001.72,1741.43 1004.8,1741.4 1007.88,1741.36 1010.96,1741.32 1014.04,1741.28 1017.12,1741.24 1020.2,1741.19 1023.28,1741.14 1026.35,1741.1 1029.43,1741.05 1032.51,1741 1035.59,1740.96 1038.67,1740.91 1041.75,1740.87 1044.83,1740.83 1047.91,1740.79 1050.99,1740.75 1054.07,1740.72 1057.15,1740.7 1060.23,1740.67 1063.3,1740.65 1066.38,1740.64 1069.46,1740.63 1072.54,1740.63 1075.62,1740.63 1078.7,1740.64 1081.78,1740.65 1084.86,1740.67 1087.94,1740.69 1091.02,1740.71 1094.1,1740.74 1097.18,1740.77 1100.26,1740.8 1103.33,1740.83 1106.41,1740.86 1109.49,1740.9 1112.57,1740.93 1115.65,1740.95 1118.73,1740.98 1121.81,1741 1124.89,1741.02 1127.97,1741.03 1131.05,1741.03 1134.13,1741.03 1137.21,1741.03 1140.28,1741.02 1143.36,1741 1146.44,1740.97 1149.52,1740.93 1152.6,1740.89 1155.68,1740.84 1158.76,1740.78 1161.84,1740.72 1164.92,1740.64 1168,1740.56 1171.08,1740.47 1174.16,1740.38 1177.23,1740.27 1180.31,1740.17 1183.39,1740.05 1186.47,1739.93 1189.55,1739.8 1192.63,1739.67 1195.71,1739.53 1198.79,1739.39 1201.87,1739.24 1204.95,1739.09 1208.03,1738.93 1211.11,1738.77 1214.19,1738.6 1217.26,1738.43 1220.34,1738.25 1223.42,1738.07 1226.5,1737.89 1229.58,1737.7 1232.66,1737.5 1235.74,1737.3 1238.82,1737.1 1241.9,1736.89 1244.98,1736.67 1248.06,1736.45 1251.14,1736.23 1254.21,1736 1257.29,1735.76 1260.37,1735.52 1263.45,1735.28 1266.53,1735.03 1269.61,1734.79 1272.69,1734.54 1275.77,1734.29 1278.85,1734.04 1281.93,1733.8 1285.01,1733.55 1288.09,1733.32 1291.16,1733.09 1294.24,1732.86 1297.32,1732.65 1300.4,1732.45 1303.48,1732.25 1306.56,1732.07 1309.64,1731.91 1312.72,1731.75 1315.8,1731.61 1318.88,1731.49 1321.96,1731.38 1325.04,1731.28 1328.12,1731.2 1331.19,1731.13 1334.27,1731.08 1337.35,1731.03 1340.43,1731 1343.51,1730.98 1346.59,1730.97 1349.67,1730.97 1352.75,1730.98 1355.83,1730.99 1358.91,1731 1361.99,1731.02 1365.07,1731.04 1368.14,1731.05 1371.22,1731.07 1374.3,1731.09 1377.38,1731.11 1380.46,1731.12 1383.54,1731.13 1386.62,1731.14 1389.7,1731.15 1392.78,1731.16 1395.86,1731.17 1398.94,1731.17 1402.02,1731.18 1405.1,1731.2 1408.17,1731.22 1411.25,1731.25 1414.33,1731.29 1417.41,1731.34 1420.49,1731.4 1423.57,1731.48 1426.65,1731.58 1429.73,1731.69 1432.81,1731.83 1435.89,1731.99 1438.97,1732.17 1442.05,1732.37 1445.12,1732.59 1448.2,1732.84 1451.28,1733.11 1454.36,1733.4"/>
<polyline stroke="#e5c494" points="841.6,1741.72 844.68,1741.72 847.76,1741.72 850.84,1741.72 853.92,1741.72 857,1741.72 860.08,1741.72 863.16,1741.72 866.24,1741.72 869.32,1741.72 872.4,1741.72 875.47,1741.72 878.55,1741.72 881.63,1741.72 884.71,1741.72 887.79,1741.72 890.87,1741.72 893.95,1741.72 897.03,1741.72 900.11,1741.72 903.19,1741.72 906.27,1741.72 909.35,1741.72 912.42,1741.72 915.5,1741.72 918.58,1741.72 921.66,1741.72 924.74,1741.72 927.82,1741.72 930.9,1741.72 933.98,1741.72 937.06,1741.72 940.14,1741.72 943.22,1741.72 946.3,1741.72 949.37,1741.72 952.45,1741.72 955.53,1741.72 958.61,1741.72 961.69,1741.72 964.77,1741.72 967.85,1741.72 970.93,1741.72 974.01,1741.72 977.09,1741.72 980.17,1741.72 983.25,1741.72 986.33,1741.72 989.4,1741.72 992.48,1741.72 995.56,1741.72 998.64,1741.72 1001.72,1741.72 1004.8,1741.72 1007.88,1741.72 1010.96,1741.72 1014.04,1741.72 1017.12,1741.72 1020.2,1741.72 1023.28,1741.72 1026.35,1741.72 1029.43,1741.72 1032.51,1741.72 1035.59,1741.72 1038.67,1741.72 1041.75,1741.72 1044.83,1741.72 1047.91,1741.72 1050.99,1741.72 1054.07,1741.72 1057.15,1741.72 1060.23,1741.72 1063.3,1741.72 1066.38,1741.72 1069.46,1741.72 1072.54,1741.72 1075.62,1741.72 1078.7,1741.72 1081.78,1741.72 1084.86,1741.72 1087.94,1741.72 1091.02,1741.72 1094.1,1741.72 1097.18,1741.72 1100.26,1741.72 1103.33,1741.72 1106.41,1741.72 1109.49,1741.72 1112.57,1741.72 1115.65,1741.72 1118.73,1741.72 1121.81,1741.72 1124.89,1741.72 1127.97,1741.72 1131.05,1741.72 1134.13,1741.72 1137.21,1741.72 1140.28,1741.72 1143.36,1741.72 1146.44,1741.72 1149.52,1741.72 1152.6,1741.72 1155.68,1741.72 1158.76,1741.72 1161.84,1741.72 1164.92,1741.72 1168,1741.72 1171.08,1741.72 1174.16,1741.72 1177.23,1741.72 1180.31,1741.72 1183.39,1741.72 1186.47,1741.72 1189.55,1741.72 1192.63,1741.72 1195.71,1741.72 1198.79,1741.72 1201.87,1741.72 1204.95,1741.72 1208.03,1741.72 1211.11,1741.72 1214.19,1741.72 1217.26,1741.72 1220.34,1741.71 1223.42,1741.71 1226.5,1741.71 1229.58,1741.7 1232.66,1741.69 1235.74,1741.68 1238.82,1741.67 1241.9,1741.65 1244.98,1741.63 1248.06,1741.61 1251.14,1741.58 1254.21,1741.54 1257.29,1741.49 1260.37,1741.44 1263.45,1741.38 1266.53,1741.32 1269.61,1741.24 1272.69,1741.16 1275.77,1741.07 1278.85,1740.97 1281.93,1740.87 1285.01,1740.77 1288.09,1740.66 1291.16,1740.55 1294.24,1740.45 1297.32,1740.35 1300.4,1740.25 1303.48,1740.17 1306.56,1740.09 1309.64,1740.02 1312.72,1739.97 1315.8,1739.92 1318.88,1739.89 1321.96,1739.86 1325.04,1739.85 1328.12,1739.84 1331.19,1739.84 1334.27,1739.83 1337.35,1739.83 1340.43,1739.82 1343.51,1739.8 1346.59,1739.78 1349.67,1739.74 1352.75,1739.68 1355.83,1739.61 1358.91,1739.52 1361.99,1739.4 1365.07,1739.27 1368.14,1739.11 1371.22,1738.93 1374.3,1738.73 1377.38,1738.5 1380.46,1738.27 1383.54,1738.01 1386.62,1737.75 1389.7,1737.49 1392.78,1737.22 1395.86,1736.97 1398.94,1736.73 1402.02,1736.5 1405.1,1736.31 1408.17,1736.14 1411.25,1736.01 1414.33,1735.93 1417.41,1735.88 1420.49,1735.88 1423.57,1735.93 1426.65,1736.02 1429.73,1736.16 1432.81,1736.34 1435.89,1736.55 1438.97,1736.8 1442.05,1737.08 1445.12,1737.37 1448.2,1737.69 1451.28,1738.01 1454.36,1738.33"/>
<polyline stroke="#b3b3b3" points="841.6,1741.72 844.68,1741.72 847.76,1741.72 850.84,1741.72 853.92,1741.72 857,1741.72 860.08,1741.72 863.16,1741.72 866.24,1741.72 869.32,1741.72 872.4,1741.72 875.47,1741.72 878.55,1741.72 881.63,1741.72 884.71,1741.72 887.79,1741.72 890.87,1741.72 893.95,1741.72 897.03,1741.72 900.11,1741.72 903.19,1741.72 906.27,1741.72 909.35,1741.72 912.42,1741.72 915.5,1741.72 918.58,1741.72 921.66,1741.72 924.74,1741.72 927.82,1741.72 930.9,1741.72 933.98,1741.72 937.06,1741.72 940.14,1741.72 943.22,1741.72 946.3,1741.72 949.37,1741.72 952.45,1741.72 955.53,1741.72 958.61,1741.72 961.69,1741.72 964.77,1741.72 967.85,1741.72 970.93,1741.72 974.01,1741.72 977.09,1741.72 980.17,1741.72 983.25,1741.72 986.33,1741.72 989.4,1741.72 992.48,1741.72 995.56,1741.72 998.64,1741.72 1001.72,1741.72 1004.8,1741.72 1007.88,1741.72 1010.96,1741.72 1014.04,1741.72 1017.12,1741.72 1020.2,1741.72 1023.28,1741.72 1026.35,1741.72 1029.43,1741.72 1032.51,1741.72 1035.59,1741.72 1038.67,1741.72 1041.75,1741.72 1044.83,1741.72 1047.91,1741.72 1050.99,1741.72 1054.07,1741.72 1057.15,1741.72 1060.23,1741.72 1063.3,1741.72 1066.38,1741.72 1069.46,1741.72 1072.54,1741.71 1075.62,1741.71 1078.7,1741.7 1081.78,1741.68 1084.86,1741.66 1087.94,1741.62 1091.02,1741.58 1094.1,1741.51 1097.18,1741.43 1100.26,1741.32 1103.33,1741.19 1106.41,1741.04 1109.49,1740.88 1112.57,1740.71 1115.65,1740.53 1118.73,1740.35 1121.81,1740.18 1124.89,1740.03 1127.97,1739.89 1131.05,1739.75 1134.13,1739.62 1137.21,1739.49 1140.28,1739.34 1143.36,1739.17 1146.44,1738.98 1149.52,1738.76 1152.6,1738.49 1155.68,1738.19 1158.76,1737.84 1161.84,1737.43 1164.92,1736.97 1168,1736.44 1171.08,1735.84 1174.16,1735.18 1177.23,1734.45 1180.31,1733.68 1183.39,1732.88 1186.47,1732.07 1189.55,1731.27 1192.63,1730.52 1195.71,1729.83 1198.79,1729.2 1201.87,1728.66 1204.95,1728.18 1208.03,1727.77 1211.11,1727.41 1214.19,1727.08 1217.26,1726.79 1220.34,1726.51 1223.42,1726.22 1226.5,1725.92 1229.58,1725.57 1232.66,1725.16 1235.74,1724.66 1238.82,1724.03 1241.9,1723.26 1244.98,1722.31 1248.06,1721.19 1251.14,1719.87 1254.21,1718.38 1257.29,1716.72 1260.37,1714.91 1263.45,1712.98 1266.53,1710.93 1269.61,1708.78 1272.69,1706.55 1275.77,1704.23 1278.85,1701.81 1281.93,1699.31 1285.01,1696.73 1288.09,1694.06 1291.16,1691.34 1294.24,1688.59 1297.32,1685.86 1300.4,1683.19 1303.48,1680.63 1306.56,1678.21 1309.64,1675.97 1312.72,1673.88 1315.8,1671.92 1318.88,1670.03 1321.96,1668.09 1325.04,1665.99 1328.12,1663.58 1331.19,1660.72 1334.27,1657.29 1337.35,1653.21 1340.43,1648.41 1343.51,1642.9 1346.59,1636.74 1349.67,1630.02 1352.75,1622.89 1355.83,1615.52 1358.91,1608.09 1361.99,1600.76 1365.07,1593.7 1368.14,1587.04 1371.22,1580.84 1374.3,1575.14 1377.38,1569.89 1380.46,1565 1383.54,1560.34 1386.62,1555.73 1389.7,1550.98 1392.78,1545.89 1395.86,1540.3 1398.94,1534.08 1402.02,1527.13 1405.1,1519.45 1408.17,1511.1 1411.25,1502.24 1414.33,1493.11 1417.41,1484.07 1420.49,1475.59 1423.57,1468.21 1426.65,1462.54 1429.73,1459.25 1432.81,1458.95 1435.89,1462.17 1438.97,1469.28 1442.05,1480.41 1445.12,1495.46 1448.2,1514.01 1451.28,1535.41 1454.36,1558.79"/>
<polyline stroke="#e78ac3" points="841.6,1741.72 844.68,1741.72 847.76,1741.72 850.84,1741.72 853.92,1741.72 857,1741.72 860.08,1741.72 863.16,1741.72 866.24,1741.72 869.32,1741.72 872.4,1741.72 875.47,1741.72 878.55,1741.72 881.63,1741.72 884.71,1741.72 887.79,1741.72 890.87,1741.72 893.95,1741.72 897.03,1741.72 900.11,1741.72 903.19,1741.72 906.27,1741.72 909.35,1741.72 912.42,1741.72 915.5,1741.72 918.58,1741.72 921.66,1741.72 924.74,1741.72 927.82,1741.72 930.9,1741.72 933.98,1741.72 937.06,1741.72 940.14,1741.72 943.22,1741.72 946.3,1741.72 949.37,1741.72 952.45,1741.72 955.53,1741.72 958.61,1741.72 961.69,1741.72 964.77,1741.72 967.85,1741.72 970.93,1741.72 974.01,1741.72 977.09,1741.72 980.17,1741.72 983.25,1741.72 986.33,1741.72 989.4,1741.72 992.48,1741.72 995.56,1741.72 998.64,1741.72 1001.72,1741.72 1004.8,1741.72 1007.88,1741.72 1010.96,1741.72 1014.04,1741.72 1017.12,1741.72 1020.2,1741.72 1023.28,1741.72 1026.35,1741.72 1029.43,1741.72 1032.51,1741.72 1035.59,1741.72 1038.67,1741.72 1041.75,1741.72 1044.83,1741.72 1047.91,1741.72 1050.99,1741.72 1054.07,1741.72 1057.15,1741.72 1060.23,1741.72 1063.3,1741.72 1066.38,1741.72 1069.46,1741.72 1072.54,1741.72 1075.62,1741.72 1078.7,1741.72 1081.78,1741.72 1084.86,1741.72 1087.94,1741.72 1091.02,1741.72 1094.1,1741.72 1097.18,1741.72 1100.26,1741.72 1103.33,1741.72 1106.41,1741.72 1109.49,1741.72 1112.57,1741.72 1115.65,1741.72 1118.73,1741.72 1121.81,1741.72 1124.89,1741.72 1127.97,1741.72 1131.05,1741.72 1134.13,1741.72 1137.21,1741.72 1140.28,1741.72 1143.36,1741.72 1146.44,1741.72 1149.52,1741.72 1152.6,1741.72 1155.68,1741.72 1158.76,1741.72 1161.84,1741.72 1164.92,1741.72 1168,1741.72 1171.08,1741.72 1174.16,1741.72 1177.23,1741.72 1180.31,1741.72 1183.39,1741.72 1186.47,1741.72 1189.55,1741.72 1192.63,1741.72 1195.71,1741.72 1198.79,1741.72 1201.87,1741.72 1204.95,1741.72 1208.03,1741.72 1211.11,1741.72 1214.19,1741.72 1217.26,1741.72 1220.34,1741.72 1223.42,1741.72 1226.5,1741.72 1229.58,1741.72 1232.66,1741.72 1235.74,1741.72 1238.82,1741.72 1241.9,1741.72 1244.98,1741.72 1248.06,1741.72 1251.14,1741.72 1254.21,1741.72 1257.29,1741.72 1260.37,1741.72 1263.45,1741.72 1266.53,1741.72 1269.61,1741.71 1272.69,1741.71 1275.77,1741.7 1278.85,1741.69 1281.93,1741.67 1285.01,1741.64 1288.09,1741.6 1291.16,1741.54 1294.24,1741.46 1297.32,1741.35 1300.4,1741.21 1303.48,1741.04 1306.56,1740.83 1309.64,1740.58 1312.72,1740.29 1315.8,1739.96 1318.88,1739.6 1321.96,1739.22 1325.04,1738.82 1328.12,1738.42 1331.19,1738.04 1334.27,1737.67 1337.35,1737.33 1340.43,1737.02 1343.51,1736.75 1346.59,1736.52 1349.67,1736.33 1352.75,1736.17 1355.83,1736.03 1358.91,1735.9 1361.99,1735.77 1365.07,1735.64 1368.14,1735.5 1371.22,1735.34 1374.3,1735.17 1377.38,1735 1380.46,1734.84 1383.54,1734.69 1386.62,1734.58 1389.7,1734.52 1392.78,1734.52 1395.86,1734.58 1398.94,1734.71 1402.02,1734.91 1405.1,1735.17 1408.17,1735.48 1411.25,1735.83 1414.33,1736.21 1417.41,1736.61 1420.49,1737.01 1423.57,1737.41 1426.65,1737.81 1429.73,1738.21 1432.81,1738.59 1435.89,1738.95 1438.97,1739.31 1442.05,1739.64 1445.12,1739.95 1448.2,1740.24 1451.28,1740.51 1454.36,1740.74"/>
<polyline stroke="#ffd92f" points="841.6,1741.72 844.68,1741.72 847.76,1741.72 850.84,1741.72 853.92,1741.72 857,1741.72 860.08,1741.72 863.16,1741.72 866.24,1741.72 869.32,1741.72 872.4,1741.72 875.47,1741.71 878.55,1741.71 881.63,1741.71 884.71,1741.71 887.79,1741.7 890.87,1741.7 893.95,1741.7 897.03,1741.69 900.11,1741.69 903.19,1741.68 906.27,1741.67 909.35,1741.66 912.42,1741.65 915.5,1741.64 918.58,1741.63 921.66,1741.62 924.74,1741.61 927.82,1741.59 930.9,1741.58 933.98,1741.56 937.06,1741.54 940.14,1741.52 943.22,1741.5 946.3,1741.47 949.37,1741.45 952.45,1741.43 955.53,1741.4 958.61,1741.38 961.69,1741.35 964.77,1741.32 967.85,1741.3 970.93,1741.27 974.01,1741.24 977.09,1741.22 980.17,1741.19 983.25,1741.17 986.33,1741.14 989.4,1741.12 992.48,1741.1 995.56,1741.08 998.64,1741.06 1001.72,1741.04 1004.8,1741.02 1007.88,1741.01 1010.96,1740.99 1014.04,1740.98 1017.12,1740.97 1020.2,1740.96 1023.28,1740.95 1026.35,1740.94 1029.43,1740.93 1032.51,1740.93 1035.59,1740.92 1038.67,1740.92 1041.75,1740.91 1044.83,1740.91 1047.91,1740.9 1050.99,1740.9 1054.07,1740.9 1057.15,1740.9 1060.23,1740.89 1063.3,1740.89 1066.38,1740.89 1069.46,1740.89 1072.54,1740.89 1075.62,1740.89 1078.7,1740.89 1081.78,1740.89 1084.86,1740.89 1087.94,1740.89 1091.02,1740.89 1094.1,1740.88 1097.18,1740.88 1100.26,1740.88 1103.33,1740.88 1106.41,1740.88 1109.49,1740.88 1112.57,1740.88 1115.65,1740.88 1118.73,1740.87 1121.81,1740.87 1124.89,1740.87 1127.97,1740.86 1131.05,1740.86 1134.13,1740.85 1137.21,1740.85 1140.28,1740.84 1143.36,1740.83 1146.44,1740.82 1149.52,1740.81 1152.6,1740.8 1155.68,1740.79 1158.76,1740.77 1161.84,1740.76 1164.92,1740.74 1168,1740.72 1171.08,1740.7 1174.16,1740.67 1177.23,1740.65 1180.31,1740.62 1183.39,1740.59 1186.47,1740.55 1189.55,1740.52 1192.63,1740.48 1195.71,1740.44 1198.79,1740.39 1201.87,1740.34 1204.95,1740.3 1208.03,1740.24 1211.11,1740.19 1214.19,1740.13 1217.26,1740.06 1220.34,1740 1223.42,1739.93 1226.5,1739.86 1229.58,1739.78 1232.66,1739.7 1235.74,1739.62 1238.82,1739.53 1241.9,1739.44 1244.98,1739.34 1248.06,1739.24 1251.14,1739.13 1254.21,1739.02 1257.29,1738.9 1260.37,1738.78 1263.45,1738.65 1266.53,1738.52 1269.61,1738.38 1272.69,1738.24 1275.77,1738.08 1278.85,1737.93 1281.93,1737.76 1285.01,1737.59 1288.09,1737.41 1291.16,1737.22 1294.24,1737.02 1297.32,1736.81 1300.4,1736.59 1303.48,1736.36 1306.56,1736.12 1309.64,1735.87 1312.72,1735.6 1315.8,1735.33 1318.88,1735.03 1321.96,1734.73 1325.04,1734.4 1328.12,1734.07 1331.19,1733.72 1334.27,1733.35 1337.35,1732.97 1340.43,1732.58 1343.51,1732.17 1346.59,1731.75 1349.67,1731.33 1352.75,1730.89 1355.83,1730.44 1358.91,1730 1361.99,1729.55 1365.07,1729.1 1368.14,1728.65 1371.22,1728.21 1374.3,1727.78 1377.38,1727.37 1380.46,1726.97 1383.54,1726.6 1386.62,1726.25 1389.7,1725.93 1392.78,1725.64 1395.86,1725.39 1398.94,1725.17 1402.02,1725.01 1405.1,1724.88 1408.17,1724.81 1411.25,1724.78 1414.33,1724.8 1417.41,1724.88 1420.49,1725.01 1423.57,1725.19 1426.65,1725.42 1429.73,1725.7 1432.81,1726.04 1435.89,1726.41 1438.97,1726.83 1442.05,1727.29 1445.12,1727.78 1448.2,1728.31 1451.28,1728.86 1454.36,1729.44"/>
<polyline stroke="#a6d854" points="841.6,1741.72 844.68,1741.72 847.76,1741.72 850.84,1741.72 853.92,1741.72 857,1741.72 860.08,1741.72 863.16,1741.72 866.24,1741.72 869.32,1741.72 872.4,1741.72 875.47,1741.72 878.55,1741.72 881.63,1741.72 884.71,1741.72 887.79,1741.72 890.87,1741.72 893.95,1741.72 897.03,1741.72 900.11,1741.72 903.19,1741.72 906.27,1741.72 909.35,1741.72 912.42,1741.72 915.5,1741.72 918.58,1741.72 921.66,1741.72 924.74,1741.72 927.82,1741.72 930.9,1741.72 933.98,1741.72 937.06,1741.72 940.14,1741.72 943.22,1741.72 946.3,1741.72 949.37,1741.72 952.45,1741.72 955.53,1741.72 958.61,1741.72 961.69,1741.72 964.77,1741.72 967.85,1741.72 970.93,1741.72 974.01,1741.72 977.09,1741.72 980.17,1741.72 983.25,1741.72 986.33,1741.72 989.4,1741.72 992.48,1741.72 995.56,1741.72 998.64,1741.72 1001.72,1741.72 1004.8,1741.71 1007.88,1741.71 1010.96,1741.7 1014.04,1741.7 1017.12,1741.69 1020.2,1741.67 1023.28,1741.65 1026.35,1741.63 1029.43,1741.6 1032.51,1741.55 1035.59,1741.5 1038.67,1741.44 1041.75,1741.36 1044.83,1741.27 1047.91,1741.16 1050.99,1741.03 1054.07,1740.89 1057.15,1740.73 1060.23,1740.55 1063.3,1740.35 1066.38,1740.15 1069.46,1739.93 1072.54,1739.7 1075.62,1739.47 1078.7,1739.24 1081.78,1739.02 1084.86,1738.79 1087.94,1738.57 1091.02,1738.36 1094.1,1738.16 1097.18,1737.97 1100.26,1737.77 1103.33,1737.58 1106.41,1737.39 1109.49,1737.2 1112.57,1737 1115.65,1736.79 1118.73,1736.57 1121.81,1736.34 1124.89,1736.11 1127.97,1735.86 1131.05,1735.62 1134.13,1735.38 1137.21,1735.14 1140.28,1734.92 1143.36,1734.71 1146.44,1734.52 1149.52,1734.35 1152.6,1734.21 1155.68,1734.07 1158.76,1733.96 1161.84,1733.85 1164.92,1733.75 1168,1733.64 1171.08,1733.51 1174.16,1733.36 1177.23,1733.18 1180.31,1732.96 1183.39,1732.69 1186.47,1732.37 1189.55,1732 1192.63,1731.56 1195.71,1731.06 1198.79,1730.51 1201.87,1729.9 1204.95,1729.23 1208.03,1728.51 1211.11,1727.74 1214.19,1726.92 1217.26,1726.07 1220.34,1725.18 1223.42,1724.26 1226.5,1723.32 1229.58,1722.35 1232.66,1721.37 1235.74,1720.37 1238.82,1719.37 1241.9,1718.36 1244.98,1717.35 1248.06,1716.34 1251.14,1715.34 1254.21,1714.35 1257.29,1713.36 1260.37,1712.4 1263.45,1711.45 1266.53,1710.52 1269.61,1709.6 1272.69,1708.7 1275.77,1707.81 1278.85,1706.92 1281.93,1706.03 1285.01,1705.13 1288.09,1704.21 1291.16,1703.26 1294.24,1702.28 1297.32,1701.26 1300.4,1700.19 1303.48,1699.07 1306.56,1697.9 1309.64,1696.68 1312.72,1695.41 1315.8,1694.11 1318.88,1692.77 1321.96,1691.41 1325.04,1690.04 1328.12,1688.65 1331.19,1687.26 1334.27,1685.87 1337.35,1684.47 1340.43,1683.06 1343.51,1681.62 1346.59,1680.15 1349.67,1678.63 1352.75,1677.04 1355.83,1675.37 1358.91,1673.6 1361.99,1671.71 1365.07,1669.7 1368.14,1667.56 1371.22,1665.3 1374.3,1662.92 1377.38,1660.43 1380.46,1657.86 1383.54,1655.23 1386.62,1652.58 1389.7,1649.94 1392.78,1647.35 1395.86,1644.87 1398.94,1642.54 1402.02,1640.41 1405.1,1638.55 1408.17,1637.01 1411.25,1635.86 1414.33,1635.14 1417.41,1634.92 1420.49,1635.25 1423.57,1636.16 1426.65,1637.7 1429.73,1639.87 1432.81,1642.68 1435.89,1646.12 1438.97,1650.15 1442.05,1654.73 1445.12,1659.79 1448.2,1665.24 1451.28,1671 1454.36,1676.95"/>
<polyline stroke="#a6d854" points="841.6,1741.72 844.68,1741.72 847.76,1741.72 850.84,1741.72 853.92,1741.72 857,1741.72 860.08,1741.72 863.16,1741.72 866.24,1741.72 869.32,1741.72 872.4,1741.72 875.47,1741.72 878.55,1741.72 881.63,1741.72 884.71,1741.72 887.79,1741.72 890.87,1741.72 893.95,1741.72 897.03,1741.72 900.11,1741.71 903.19,1741.71 906.27,1741.7 909.35,1741.69 912.42,1741.68 915.5,1741.66 918.58,1741.64 921.66,1741.61 924.74,1741.58 927.82,1741.53 930.9,1741.47 933.98,1741.4 937.06,1741.31 940.14,1741.2 943.22,1741.07 946.3,1740.92 949.37,1740.75 952.45,1740.55 955.53,1740.33 958.61,1740.08 961.69,1739.8 964.77,1739.5 967.85,1739.18 970.93,1738.84 974.01,1738.49 977.09,1738.12 980.17,1737.74 983.25,1737.37 986.33,1736.99 989.4,1736.62 992.48,1736.26 995.56,1735.92 998.64,1735.6 1001.72,1735.31 1004.8,1735.04 1007.88,1734.8 1010.96,1734.6 1014.04,1734.43 1017.12,1734.29 1020.2,1734.18 1023.28,1734.11 1026.35,1734.06 1029.43,1734.03 1032.51,1734.03 1035.59,1734.03 1038.67,1734.04 1041.75,1734.04 1044.83,1734.03 1047.91,1734 1050.99,1733.93 1054.07,1733.83 1057.15,1733.67 1060.23,1733.46 1063.3,1733.19 1066.38,1732.84 1069.46,1732.42 1072.54,1731.93 1075.62,1731.36 1078.7,1730.71 1081.78,1729.98 1084.86,1729.18 1087.94,1728.3 1091.02,1727.36 1094.1,1726.36 1097.18,1725.31 1100.26,1724.2 1103.33,1723.05 1106.41,1721.87 1109.49,1720.66 1112.57,1719.43 1115.65,1718.19 1118.73,1716.94 1121.81,1715.69 1124.89,1714.45 1127.97,1713.2 1131.05,1711.96 1134.13,1710.73 1137.21,1709.5 1140.28,1708.28 1143.36,1707.07 1146.44,1705.86 1149.52,1704.66 1152.6,1703.47 1155.68,1702.29 1158.76,1701.14 1161.84,1700.01 1164.92,1698.92 1168,1697.86 1171.08,1696.86 1174.16,1695.91 1177.23,1695.01 1180.31,1694.17 1183.39,1693.38 1186.47,1692.62 1189.55,1691.89 1192.63,1691.17 1195.71,1690.42 1198.79,1689.62 1201.87,1688.74 1204.95,1687.75 1208.03,1686.61 1211.11,1685.29 1214.19,1683.78 1217.26,1682.04 1220.34,1680.07 1223.42,1677.86 1226.5,1675.4 1229.58,1672.71 1232.66,1669.8 1235.74,1666.71 1238.82,1663.46 1241.9,1660.09 1244.98,1656.64 1248.06,1653.16 1251.14,1649.69 1254.21,1646.26 1257.29,1642.92 1260.37,1639.7 1263.45,1636.63 1266.53,1633.72 1269.61,1631 1272.69,1628.47 1275.77,1626.14 1278.85,1624 1281.93,1622.05 1285.01,1620.29 1288.09,1618.69 1291.16,1617.24 1294.24,1615.93 1297.32,1614.75 1300.4,1613.69 1303.48,1612.72 1306.56,1611.84 1309.64,1611.02 1312.72,1610.26 1315.8,1609.55 1318.88,1608.86 1321.96,1608.19 1325.04,1607.53 1328.12,1606.85 1331.19,1606.16 1334.27,1605.45 1337.35,1604.71 1340.43,1603.93 1343.51,1603.14 1346.59,1602.32 1349.67,1601.5 1352.75,1600.7 1355.83,1599.94 1358.91,1599.23 1361.99,1598.62 1365.07,1598.13 1368.14,1597.8 1371.22,1597.64 1374.3,1597.69 1377.38,1597.97 1380.46,1598.5 1383.54,1599.28 1386.62,1600.32 1389.7,1601.63 1392.78,1603.2 1395.86,1605.01 1398.94,1607.06 1402.02,1609.33 1405.1,1611.81 1408.17,1614.49 1411.25,1617.35 1414.33,1620.4 1417.41,1623.63 1420.49,1627.04 1423.57,1630.64 1426.65,1634.45 1429.73,1638.47 1432.81,1642.7 1435.89,1647.16 1438.97,1651.85 1442.05,1656.74 1445.12,1661.83 1448.2,1667.08 1451.28,1672.46 1454.36,1677.92"/>
<polyline stroke="#e5c494" points="841.6,1741.72 844.68,1741.72 847.76,1741.71 850.84,1741.7 853.92,1741.69 857,1741.67 860.08,1741.65 863.16,1741.61 866.24,1741.57 869.32,1741.51 872.4,1741.43 875.47,1741.34 878.55,1741.23 881.63,1741.1 884.71,1740.96 887.79,1740.81 890.87,1740.65 893.95,1740.5 897.03,1740.35 900.11,1740.22 903.19,1740.1 906.27,1740 909.35,1739.92 912.42,1739.86 915.5,1739.83 918.58,1739.81 921.66,1739.81 924.74,1739.83 927.82,1739.86 930.9,1739.9 933.98,1739.94 937.06,1739.97 940.14,1739.99 943.22,1739.98 946.3,1739.93 949.37,1739.83 952.45,1739.66 955.53,1739.43 958.61,1739.12 961.69,1738.75 964.77,1738.31 967.85,1737.82 970.93,1737.3 974.01,1736.75 977.09,1736.21 980.17,1735.67 983.25,1735.15 986.33,1734.65 989.4,1734.17 992.48,1733.69 995.56,1733.2 998.64,1732.69 1001.72,1732.12 1004.8,1731.47 1007.88,1730.73 1010.96,1729.88 1014.04,1728.9 1017.12,1727.79 1020.2,1726.57 1023.28,1725.24 1026.35,1723.83 1029.43,1722.37 1032.51,1720.89 1035.59,1719.44 1038.67,1718.06 1041.75,1716.78 1044.83,1715.61 1047.91,1714.57 1050.99,1713.66 1054.07,1712.85 1057.15,1712.11 1060.23,1711.39 1063.3,1710.64 1066.38,1709.8 1069.46,1708.81 1072.54,1707.63 1075.62,1706.21 1078.7,1704.53 1081.78,1702.58 1084.86,1700.36 1087.94,1697.89 1091.02,1695.17 1094.1,1692.23 1097.18,1689.09 1100.26,1685.74 1103.33,1682.2 1106.41,1678.48 1109.49,1674.57 1112.57,1670.5 1115.65,1666.31 1118.73,1662.05 1121.81,1657.81 1124.89,1653.67 1127.97,1649.73 1131.05,1646.09 1134.13,1642.8 1137.21,1639.89 1140.28,1637.33 1143.36,1635.02 1146.44,1632.83 1149.52,1630.59 1152.6,1628.09 1155.68,1625.14 1158.76,1621.57 1161.84,1617.28 1164.92,1612.22 1168,1606.44 1171.08,1600.04 1174.16,1593.21 1177.23,1586.16 1180.31,1579.15 1183.39,1572.37 1186.47,1566.03 1189.55,1560.24 1192.63,1555.04 1195.71,1550.43 1198.79,1546.29 1201.87,1542.48 1204.95,1538.82 1208.03,1535.12 1211.11,1531.17 1214.19,1526.8 1217.26,1521.89 1220.34,1516.33 1223.42,1510.06 1226.5,1503.08 1229.58,1495.4 1232.66,1487.07 1235.74,1478.16 1238.82,1468.75 1241.9,1458.92 1244.98,1448.73 1248.06,1438.25 1251.14,1427.48 1254.21,1416.41 1257.29,1404.99 1260.37,1393.16 1263.45,1380.83 1266.53,1367.94 1269.61,1354.48 1272.69,1340.46 1275.77,1325.97 1278.85,1311.12 1281.93,1296.08 1285.01,1281.02 1288.09,1266.08 1291.16,1251.39 1294.24,1237.03 1297.32,1223.01 1300.4,1209.33 1303.48,1195.96 1306.56,1182.87 1309.64,1170.04 1312.72,1157.43 1315.8,1145.06 1318.88,1132.9 1321.96,1120.95 1325.04,1109.18 1328.12,1097.57 1331.19,1086.09 1334.27,1074.76 1337.35,1063.62 1340.43,1052.79 1343.51,1042.46 1346.59,1032.86 1349.67,1024.24 1352.75,1016.86 1355.83,1010.92 1358.91,1006.5 1361.99,1003.62 1365.07,1002.15 1368.14,1001.88 1371.22,1002.57 1374.3,1003.97 1377.38,1005.9 1380.46,1008.27 1383.54,1011.11 1386.62,1014.56 1389.7,1018.83 1392.78,1024.15 1395.86,1030.73 1398.94,1038.68 1402.02,1048 1405.1,1058.58 1408.17,1070.19 1411.25,1082.61 1414.33,1095.63 1417.41,1109.16 1420.49,1123.28 1423.57,1138.29 1426.65,1154.65 1429.73,1172.98 1432.81,1193.93 1435.89,1218.1 1438.97,1245.92 1442.05,1277.55 1445.12,1312.83 1448.2,1351.23 1451.28,1391.93 1454.36,1433.84"/>
<polyline stroke="#e78ac3" points="841.6,1740.52 844.68,1740.46 847.76,1740.41 850.84,1740.36 853.92,1740.32 857,1740.28 860.08,1740.25 863.16,1740.22 866.24,1740.19 869.32,1740.16 872.4,1740.14 875.47,1740.11 878.55,1740.08 881.63,1740.06 884.71,1740.03 887.79,1739.99 890.87,1739.96 893.95,1739.92 897.03,1739.87 900.11,1739.83 903.19,1739.78 906.27,1739.73 909.35,1739.68 912.42,1739.62 915.5,1739.57 918.58,1739.52 921.66,1739.47 924.74,1739.41 927.82,1739.37 930.9,1739.32 933.98,1739.27 937.06,1739.23 940.14,1739.18 943.22,1739.14 946.3,1739.09 949.37,1739.05 952.45,1739 955.53,1738.95 958.61,1738.9 961.69,1738.85 964.77,1738.79 967.85,1738.73 970.93,1738.66 974.01,1738.6 977.09,1738.53 980.17,1738.46 983.25,1738.39 986.33,1738.31 989.4,1738.23 992.48,1738.16 995.56,1738.08 998.64,1737.99 1001.72,1737.91 1004.8,1737.82 1007.88,1737.73 1010.96,1737.64 1014.04,1737.54 1017.12,1737.43 1020.2,1737.32 1023.28,1737.2 1026.35,1737.07 1029.43,1736.93 1032.51,1736.78 1035.59,1736.62 1038.67,1736.44 1041.75,1736.25 1044.83,1736.03 1047.91,1735.8 1050.99,1735.55 1054.07,1735.28 1057.15,1734.98 1060.23,1734.65 1063.3,1734.29 1066.38,1733.9 1069.46,1733.46 1072.54,1732.99 1075.62,1732.47 1078.7,1731.91 1081.78,1731.29 1084.86,1730.62 1087.94,1729.9 1091.02,1729.13 1094.1,1728.3 1097.18,1727.41 1100.26,1726.48 1103.33,1725.51 1106.41,1724.5 1109.49,1723.45 1112.57,1722.38 1115.65,1721.3 1118.73,1720.21 1121.81,1719.12 1124.89,1718.04 1127.97,1716.98 1131.05,1715.94 1134.13,1714.95 1137.21,1713.99 1140.28,1713.08 1143.36,1712.22 1146.44,1711.41 1149.52,1710.66 1152.6,1709.96 1155.68,1709.31 1158.76,1708.7 1161.84,1708.14 1164.92,1707.61 1168,1707.11 1171.08,1706.64 1174.16,1706.18 1177.23,1705.73 1180.31,1705.27 1183.39,1704.81 1186.47,1704.33 1189.55,1703.82 1192.63,1703.29 1195.71,1702.72 1198.79,1702.12 1201.87,1701.47 1204.95,1700.77 1208.03,1700.02 1211.11,1699.22 1214.19,1698.37 1217.26,1697.47 1220.34,1696.5 1223.42,1695.47 1226.5,1694.38 1229.58,1693.22 1232.66,1691.98 1235.74,1690.66 1238.82,1689.26 1241.9,1687.76 1244.98,1686.16 1248.06,1684.46 1251.14,1682.66 1254.21,1680.74 1257.29,1678.71 1260.37,1676.57 1263.45,1674.33 1266.53,1671.99 1269.61,1669.57 1272.69,1667.08 1275.77,1664.54 1278.85,1661.96 1281.93,1659.36 1285.01,1656.78 1288.09,1654.22 1291.16,1651.71 1294.24,1649.27 1297.32,1646.92 1300.4,1644.67 1303.48,1642.53 1306.56,1640.51 1309.64,1638.61 1312.72,1636.83 1315.8,1635.18 1318.88,1633.65 1321.96,1632.23 1325.04,1630.91 1328.12,1629.69 1331.19,1628.55 1334.27,1627.49 1337.35,1626.5 1340.43,1625.57 1343.51,1624.69 1346.59,1623.85 1349.67,1623.05 1352.75,1622.28 1355.83,1621.53 1358.91,1620.81 1361.99,1620.09 1365.07,1619.38 1368.14,1618.68 1371.22,1617.97 1374.3,1617.25 1377.38,1616.53 1380.46,1615.8 1383.54,1615.07 1386.62,1614.34 1389.7,1613.63 1392.78,1612.95 1395.86,1612.32 1398.94,1611.78 1402.02,1611.36 1405.1,1611.1 1408.17,1611.03 1411.25,1611.22 1414.33,1611.69 1417.41,1612.51 1420.49,1613.72 1423.57,1615.36 1426.65,1617.46 1429.73,1620.05 1432.81,1623.15 1435.89,1626.74 1438.97,1630.83 1442.05,1635.39 1445.12,1640.38 1448.2,1645.75 1451.28,1651.44 1454.36,1657.38"/>
</g>
<g fill="#000"><rect x="810.94" y="929.94" width="1.11" height="813.11"/><rect x="1484.94" y="929.94" width="1.11" height="813.11"/><rect x="810.94" y="1741.94" width="675.11" height="1.11"/><rect x="810.94" y="929.94" width="675.11" height="1.11"/></g>
<path fill="#ffffff" fill-opacity="0.8" stroke="#cccccc" stroke-opacity="0.8" stroke-width="1.39" d="M821.5 1255.5L925.5 1255.5Q928.5 1255.5 928.5 1252.5L928.5 940.5Q928.5 937.5 925.5 937.5L821.5 937.5Q818.5 937.5 818.5 940.5L818.5 1252.5Q818.5 1255.5 821.5 1255.5Z"/>
<rect fill="none" stroke="#e78ac3" stroke-opacity="0.5" stroke-width="2.78" x="842.5" y="965.5" width="28" height="9"/>
<rect fill="none" stroke="#e5c494" stroke-opacity="0.5" stroke-width="2.78" x="842.5" y="986.5" width="28" height="9"/>
<rect fill="none" stroke="#a6d854" stroke-opacity="0.5" stroke-width="2.78" x="842.5" y="1006.5" width="28" height="10"/>
<rect fill="none" stroke="#a6d854" stroke-opacity="0.5" stroke-width="2.78" x="842.5" y="1027.5" width="28" height="10"/>
<rect fill="none" stroke="#ffd92f" stroke-opacity="0.5" stroke-width="2.78" x="842.5" y="1048.5" width="28" height="10"/>
<rect fill="none" stroke="#e78ac3" stroke-opacity="0.5" stroke-width="2.78" x="842.5" y="1069.5" width="28" height="10"/>
<rect fill="none" stroke="#b3b3b3" stroke-opacity="0.5" stroke-width="2.78" x="842.5" y="1090.5" width="28" height="10"/>
<rect fill="none" stroke="#e5c494" stroke-opacity="0.5" stroke-width="2.78" x="842.5" y="1111.5" width="28" height="10"/>
<rect fill="none" stroke="#fc8d62" stroke-opacity="0.5" stroke-width="2.78" x="842.5" y="1132.5" width="28" height="10"/>
<rect fill="none" stroke="#fc8d62" stroke-opacity="0.5" stroke-width="2.78" x="842.5" y="1153.5" width="28" height="10"/>
<rect fill="none" stroke="#66c2a5" stroke-opacity="0.5" stroke-width="2.78" x="842.5" y="1174.5" width="28" height="10"/>
<rect fill="none" stroke="#ffd92f" stroke-opacity="0.5" stroke-width="2.78" x="842.5" y="1195.5" width="28" height="10"/>
<rect fill="none" stroke="#8da0cb" stroke-opacity="0.5" stroke-width="2.78" x="842.5" y="1216.5" width="28" height="10"/>
<rect fill="none" stroke="#8da0cb" stroke-opacity="0.5" stroke-width="2.78" x="842.5" y="1237.5" width="28" height="10"/>
<g fill="#000"><text x="101.48" y="869.94" font-size="13.89" text-anchor="middle" textLength="20.88">0.0</text>
<text x="251.59" y="869.94" font-size="13.89" text-anchor="middle" textLength="21">0.1</text>
<text x="400.45" y="869.94" font-size="13.89" text-anchor="middle" textLength="20.88">0.2</text>
<text x="550.56" y="869.94" font-size="13.89" text-anchor="middle" textLength="20.88">0.3</text>
<text x="700.42" y="869.94" font-size="13.89" text-anchor="middle" textLength="20.88">0.4</text>
<text x="61.93" y="854.72" font-size="13.89" text-anchor="end">0</text>
<text x="59.43" y="741.01" font-size="13.89" text-anchor="end" textLength="16.5">50</text>
<text x="60.43" y="627.3" font-size="13.89" text-anchor="end" textLength="25.38">100</text>
<text x="60.43" y="513.59" font-size="13.89" text-anchor="end" textLength="25.38">150</text>
<text x="61.43" y="399.88" font-size="13.89" text-anchor="end">200</text>
<text x="61.43" y="286.17" font-size="13.89" text-anchor="end">250</text>
<text x="60.43" y="172.46" font-size="13.89" text-anchor="end">300</text>
<text x="60.18" y="58.75" font-size="13.89" text-anchor="end" textLength="25.25">350</text>
<text x="406.92" y="889.5" font-size="13.89" text-anchor="middle" textLength="39.12">Alpha</text>
<text x="26" y="445.28" font-size="13.89" text-anchor="middle" textLength="40.75" transform="rotate(-90 26 445.28)">Count</text>
<text transform="translate(408.17 29) scale(1 1.08)" font-size="16.67" text-anchor="middle" textLength="328.12">Positive Alpha Values by Model Country</text>
<text x="632.94" y="60.83" font-size="13.89" textLength="98.5">modelCountry</text>
<text x="692.01" y="81.78" font-size="13.89" textLength="19.38">MY</text>
<text x="692.01" y="102.72" font-size="13.89" textLength="18.88">XH</text>
<text x="692.01" y="123.67" font-size="13.89" textLength="13.38">IN</text>
<text x="692.01" y="144.61" font-size="13.89" textLength="11.38">JP</text>
<text x="691.01" y="165.56" font-size="13.89">TW</text>
<text x="692.01" y="185.5" font-size="13.89" textLength="19.12">CN</text>
<text x="692.01" y="207.44" font-size="13.89" textLength="17.75">PH</text>
<text x="692.01" y="228.39" font-size="13.89" textLength="13.75">ID</text>
<text x="692.01" y="249.33" font-size="13.89" textLength="17.62">KR</text>
<text x="691.01" y="270.28" font-size="13.89">TH</text>
<text x="691.01" y="291.22" font-size="13.89" textLength="18.62">AU</text>
<text x="692.01" y="312.17" font-size="13.89" textLength="18.38">HK</text>
<text x="692.01" y="333.11" font-size="13.89" textLength="18.5">SG</text>
<text x="692.01" y="354.06" font-size="13.89" textLength="18.88">NZ</text>
<text x="841.29" y="869.94" font-size="13.89" text-anchor="middle" textLength="20.88">0.0</text>
<text x="991.4" y="869.94" font-size="13.89" text-anchor="middle" textLength="21">0.1</text>
<text x="1141.51" y="869.94" font-size="13.89" text-anchor="middle" textLength="20.88">0.2</text>
<text x="1290.37" y="869.94" font-size="13.89" text-anchor="middle" textLength="20.88">0.3</text>
<text x="1440.48" y="869.94" font-size="13.89" text-anchor="middle" textLength="20.88">0.4</text>
<text x="800.74" y="854.72" font-size="13.89" text-anchor="end" textLength="20.88">0.0</text>
<text x="800.99" y="753.06" font-size="13.89" text-anchor="end" textLength="20.88">0.5</text>
<text x="800.99" y="651.4" font-size="13.89" text-anchor="end" textLength="21">1.0</text>
<text x="800.99" y="549.73" font-size="13.89" text-anchor="end" textLength="21">1.5</text>
<text x="800.74" y="448.07" font-size="13.89" text-anchor="end" textLength="21.38">2.0</text>
<text x="800.99" y="346.4" font-size="13.89" text-anchor="end">2.5</text>
<text x="799.74" y="244.74" font-size="13.89" text-anchor="end" textLength="20.38">3.0</text>
<text x="799.99" y="143.08" font-size="13.89" text-anchor="end" textLength="20.88">3.5</text>
<text x="1146.98" y="889.5" font-size="13.89" text-anchor="middle" textLength="39.12">Alpha</text>
<text x="770.69" y="446.53" font-size="13.89" text-anchor="middle" textLength="52.75" transform="rotate(-90 770.69 446.53)">Density</text>
<text transform="translate(1148.23 29) scale(1 1.08)" font-size="16.67" text-anchor="middle" textLength="328.12">Positive Alpha Values by Model Country</text>
<text x="1373" y="60.83" font-size="13.89" textLength="98.5">modelCountry</text>
<text x="1432.07" y="81.78" font-size="13.89" textLength="19.38">MY</text>
<text x="1432.07" y="102.72" font-size="13.89" textLength="18.88">XH</text>
<text x="1432.07" y="123.67" font-size="13.89" textLength="13.38">IN</text>
<text x="1432.07" y="144.61" font-size="13.89" textLength="11.38">JP</text>
<text x="1432.07" y="165.56" font-size="13.89">TW</text>
<text x="1432.07" y="185.5" font-size="13.89" textLength="19.12">CN</text>
<text x="1432.07" y="207.44" font-size="13.89" textLength="17.75">PH</text>
<text x="1431.82" y="228.39" font-size="13.89" textLength="13.75">ID</text>
<text x="1432.07" y="249.33" font-size="13.89" textLength="17.62">KR</text>
<text x="1432.07" y="270.28" font-size="13.89">TH</text>
<text x="1432.07" y="291.22" font-size="13.89" textLength="18.62">AU</text>
<text x="1432.07" y="312.17" font-size="13.89" textLength="18.38">HK</text>
<text x="1432.07" y="333.11" font-size="13.89" textLength="18.5">SG</text>
<text x="1432.07" y="354.06" font-size="13.89" textLength="18.88">NZ</text>
<text x="120.62" y="1762.44" font-size="13.89" text-anchor="middle">−0.5</text>
<text x="238.76" y="1762.44" font-size="13.89" text-anchor="middle">−0.4</text>
<text x="357.64" y="1762.44" font-size="13.89" text-anchor="middle">−0.3</text>
<text x="475.78" y="1762.44" font-size="13.89" text-anchor="middle" textLength="33.5">−0.2</text>
<text x="594.66" y="1762.44" font-size="13.89" text-anchor="middle">−0.1</text>
<text x="714.3" y="1762.44" font-size="13.89" text-anchor="middle" textLength="20.88">0.0</text>
<text x="61.93" y="1747.22" font-size="13.89" text-anchor="end">0</text>
<text x="59.43" y="1650.57" font-size="13.89" text-anchor="end" textLength="16.5">50</text>
<text x="60.43" y="1553.92" font-size="13.89" text-anchor="end" textLength="25.38">100</text>
<text x="60.43" y="1457.26" font-size="13.89" text-anchor="end" textLength="25.38">150</text>
<text x="61.43" y="1360.61" font-size="13.89" text-anchor="end">200</text>
<text x="61.43" y="1263.96" font-size="13.89" text-anchor="end">250</text>
<text x="60.43" y="1167.3" font-size="13.89" text-anchor="end">300</text>
<text x="60.18" y="1070.65" font-size="13.89" text-anchor="end" textLength="25.25">350</text>
<text x="60.18" y="973.99" font-size="13.89" text-anchor="end" textLength="25.25">400</text>
<text x="406.92" y="1782" font-size="13.89" text-anchor="middle" textLength="39.12">Alpha</text>
<text x="26" y="1337.28" font-size="13.89" text-anchor="middle" textLength="40.75" transform="rotate(-90 26 1337.28)">Count</text>
<text transform="translate(407.17 921.5) scale(1 1.08)" font-size="16.67" text-anchor="middle" textLength="338.5">Negative Alpha Values by Model Country</text>
<text x="81.9" y="953.33" font-size="13.89" textLength="98.5">modelCountry</text>
<text x="140.97" y="974.28" font-size="13.89" textLength="13.38">IN</text>
<text x="140.97" y="995.22" font-size="13.89" textLength="19.12">CN</text>
<text x="140.97" y="1016.17" font-size="13.89" textLength="17.62">KR</text>
<text x="140.97" y="1037.11" font-size="13.89">TW</text>
<text x="140.97" y="1058.06" font-size="13.89" textLength="13.75">ID</text>
<text x="140.97" y="1079" font-size="13.89" textLength="18.88">NZ</text>
<text x="140.97" y="1099.94" font-size="13.89" textLength="11.38">JP</text>
<text x="141.97" y="1120.89" font-size="13.89" textLength="18.5">SG</text>
<text x="140.97" y="1141.83" font-size="13.89" textLength="19.38">MY</text>
<text x="140.97" y="1162.78" font-size="13.89" textLength="18.62">AU</text>
<text x="140.97" y="1183.72" font-size="13.89">TH</text>
<text x="140.97" y="1204.67" font-size="13.89" textLength="18.38">HK</text>
<text x="140.97" y="1225.61" font-size="13.89" textLength="17.75">PH</text>
<text x="140.97" y="1246.56" font-size="13.89" textLength="18.88">XH</text>
<text x="860.69" y="1762.44" font-size="13.89" text-anchor="middle">−0.5</text>
<text x="979.82" y="1762.44" font-size="13.89" text-anchor="middle">−0.4</text>
<text x="1097.71" y="1762.44" font-size="13.89" text-anchor="middle" textLength="33.5">−0.3</text>
<text x="1216.84" y="1762.44" font-size="13.89" text-anchor="middle">−0.2</text>
<text x="1334.73" y="1762.44" font-size="13.89" text-anchor="middle">−0.1</text>
<text x="1454.36" y="1762.44" font-size="13.89" text-anchor="middle" textLength="20.88">0.0</text>
<text x="800.74" y="1747.22" font-size="13.89" text-anchor="end" textLength="20.88">0.0</text>
<text x="800.99" y="1627.92" font-size="13.89" text-anchor="end" textLength="20.88">0.5</text>
<text x="800.99" y="1508.63" font-size="13.89" text-anchor="end" textLength="21">1.0</text>
<text x="800.99" y="1389.33" font-size="13.89" text-anchor="end" textLength="21">1.5</text>
<text x="800.74" y="1270.03" font-size="13.89" text-anchor="end" textLength="21.38">2.0</text>
<text x="800.99" y="1150.73" font-size="13.89" text-anchor="end">2.5</text>
<text x="799.74" y="1031.44" font-size="13.89" text-anchor="end" textLength="20.38">3.0</text>
<text x="1146.98" y="1782" font-size="13.89" text-anchor="middle" textLength="39.12">Alpha</text>
<text x="770.69" y="1338.53" font-size="13.89" text-anchor="middle" textLength="52.75" transform="rotate(-90 770.69 1338.53)">Density</text>
<text transform="translate(1148.23 921.5) scale(1 1.08)" font-size="16.67" text-anchor="middle" textLength="338.5">Negative Alpha Values by Model Country</text>
<text x="822.97" y="953.33" font-size="13.89" textLength="98.5">modelCountry</text>
<text x="881.03" y="974.28" font-size="13.89" textLength="13.38">IN</text>
<text x="882.03" y="995.22" font-size="13.89" textLength="19.12">CN</text>
<text x="881.03" y="1016.17" font-size="13.89" textLength="17.62">KR</text>
<text x="881.03" y="1037.11" font-size="13.89">TW</text>
<text x="881.03" y="1058.06" font-size="13.89" textLength="13.75">ID</text>
<text x="881.03" y="1079" font-size="13.89" textLength="18.88">NZ</text>
<text x="881.03" y="1099.94" font-size="13.89" textLength="11.38">JP</text>
<text x="882.03" y="1120.89" font-size="13.89" textLength="18.5">SG</text>
<text x="881.03" y="1141.83" font-size="13.89" textLength="19.38">MY</text>
<text x="881.03" y="1162.78" font-size="13.89" textLength="18.62">AU</text>
<text x="881.03" y="1183.72" font-size="13.89">TH</text>
<text x="881.03" y="1204.67" font-size="13.89" textLength="18.38">HK</text>
<text x="881.03" y="1225.61" font-size="13.89" textLength="17.75">PH</text>
<text x="881.03" y="1246.56" font-size="13.89" textLength="18.88">XH</text></g>
</svg>
</body></html>
